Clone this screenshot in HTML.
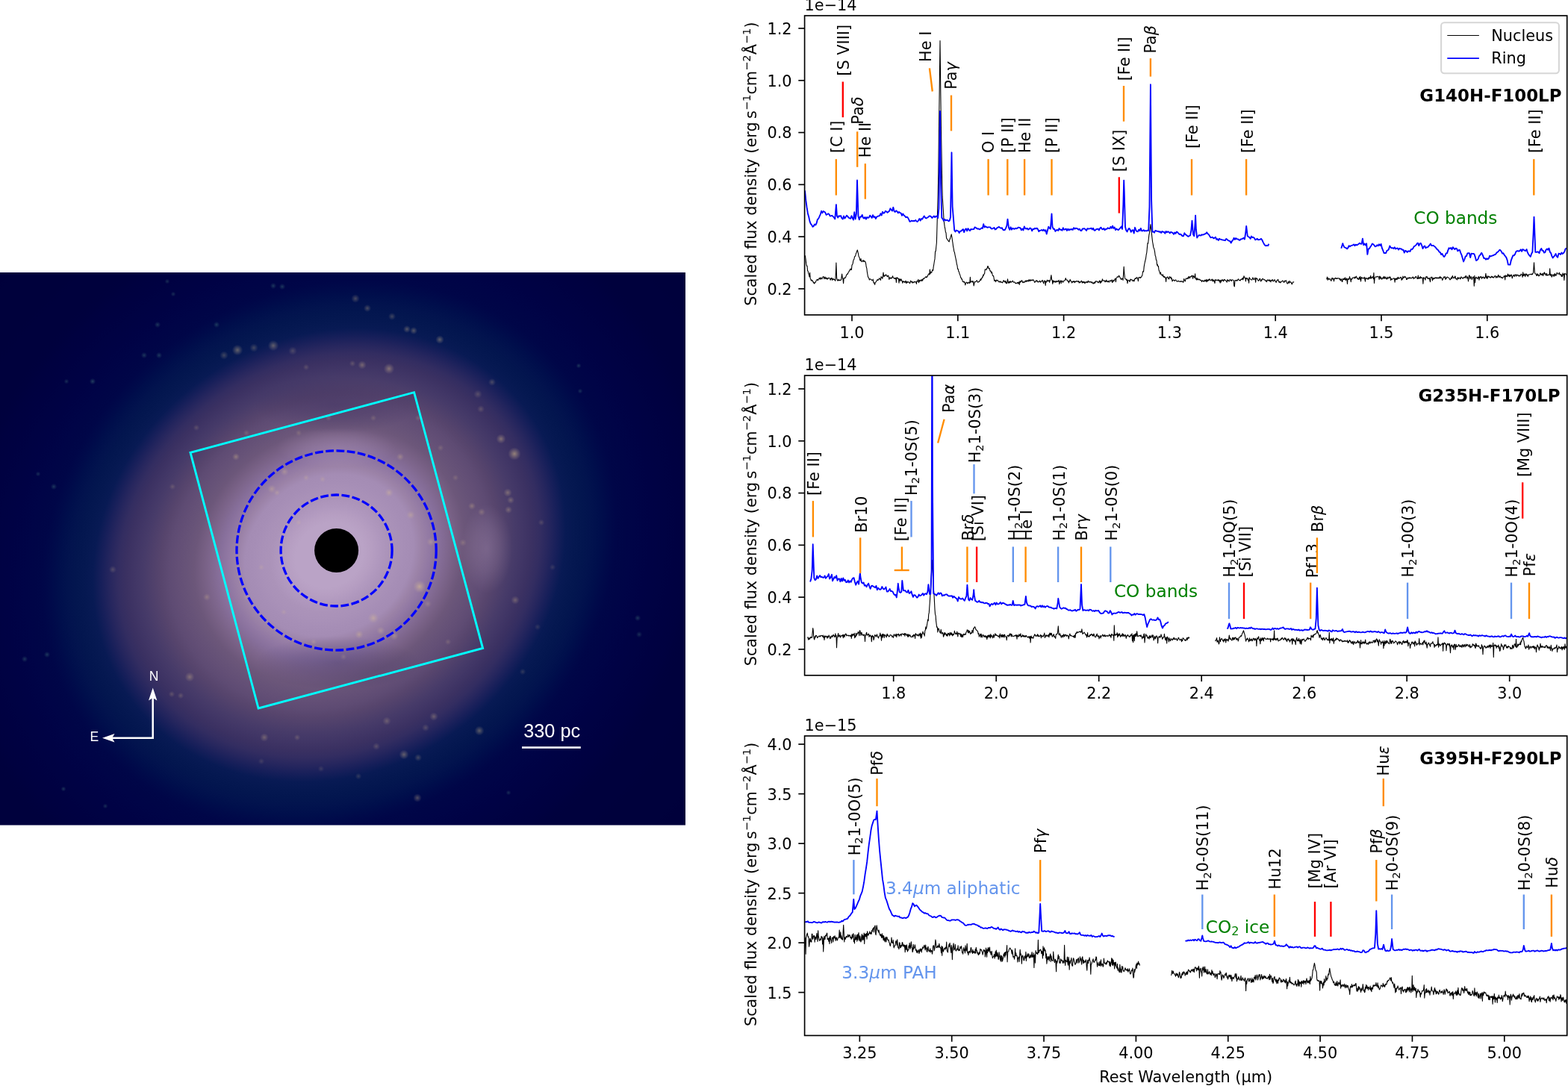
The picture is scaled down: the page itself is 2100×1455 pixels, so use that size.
<!DOCTYPE html>
<html lang="en"><head><meta charset="utf-8"><title>Galaxy nucleus and ring NIRSpec spectra</title>
<style>
html,body{margin:0;padding:0;background:#fff;}
body{width:2100px;height:1455px;overflow:hidden;}
svg{display:block;}
text{font-family:"DejaVu Sans","Liberation Sans",sans-serif;fill:#000;}
.t{font-size:20.833px;}
.t11{font-size:23.2px;}
.b{font-size:22.917px;font-weight:bold;}
.it{font-style:italic;}
.sup{font-size:14.58px;}
.sub{font-size:14.58px;}
.sub11{font-size:16.04px;}
.h{font-family:"Liberation Sans","DejaVu Sans",sans-serif;fill:#fff;}
.sp{stroke:#000;stroke-width:1.667;}
.k{fill:none;stroke:#000;stroke-width:1.1;stroke-linejoin:round;}
.bl{fill:none;stroke:#0000ff;stroke-width:1.85;stroke-linejoin:round;}
</style></head>
<body>
<svg xmlns="http://www.w3.org/2000/svg" width="2100" height="1455" viewBox="0 0 2100 1455">
<rect width="2100" height="1455" fill="#fff"/>
<!-- galaxy image -->
<defs>
<clipPath id="gclip"><rect x="0" y="365" width="918" height="740.7"/></clipPath>
<radialGradient id="disc" gradientUnits="userSpaceOnUse" cx="0" cy="0" r="1" gradientTransform="translate(440.83 743.79) rotate(54.91) scale(581.49 657.5)"><stop offset="0.0000" stop-color="#baa3c6"/><stop offset="0.0714" stop-color="#baa3c6"/><stop offset="0.0893" stop-color="#b69ec2"/><stop offset="0.1071" stop-color="#b098be"/><stop offset="0.1250" stop-color="#ab93b9"/><stop offset="0.1429" stop-color="#a991b8"/><stop offset="0.1607" stop-color="#a68eb6"/><stop offset="0.1786" stop-color="#a48cb4"/><stop offset="0.1964" stop-color="#9b82a7"/><stop offset="0.2143" stop-color="#9178a3"/><stop offset="0.2321" stop-color="#876f9b"/><stop offset="0.2500" stop-color="#7f678e"/><stop offset="0.2679" stop-color="#765f83"/><stop offset="0.2857" stop-color="#6c577a"/><stop offset="0.3036" stop-color="#675378"/><stop offset="0.3214" stop-color="#634f76"/><stop offset="0.3393" stop-color="#5e4b73"/><stop offset="0.3571" stop-color="#57456d"/><stop offset="0.3750" stop-color="#4f406b"/><stop offset="0.3929" stop-color="#473b69"/><stop offset="0.4107" stop-color="#413666"/><stop offset="0.4286" stop-color="#3b3162"/><stop offset="0.4464" stop-color="#332d61"/><stop offset="0.4643" stop-color="#26265e"/><stop offset="0.4821" stop-color="#171f5a"/><stop offset="0.5000" stop-color="#081a54"/><stop offset="0.5179" stop-color="#051851"/><stop offset="0.5357" stop-color="#03164f"/><stop offset="0.5536" stop-color="#02134e"/><stop offset="0.5714" stop-color="#000f4c"/><stop offset="0.5893" stop-color="#000a4a"/><stop offset="0.6071" stop-color="#000648"/><stop offset="0.6250" stop-color="#000547"/><stop offset="0.6429" stop-color="#000447"/><stop offset="0.6607" stop-color="#000346"/><stop offset="0.6786" stop-color="#000245"/><stop offset="0.6964" stop-color="#000244"/><stop offset="0.7143" stop-color="#000243"/><stop offset="0.7321" stop-color="#000142"/><stop offset="0.7500" stop-color="#000141"/><stop offset="0.7679" stop-color="#000140"/><stop offset="0.7857" stop-color="#00013e"/><stop offset="0.8036" stop-color="#00013d"/><stop offset="0.8214" stop-color="#00013d"/><stop offset="0.8393" stop-color="#00013d"/><stop offset="0.8571" stop-color="#00013d"/><stop offset="0.8750" stop-color="#00013c"/><stop offset="0.8929" stop-color="#00013c"/><stop offset="0.9107" stop-color="#00013c"/><stop offset="0.9286" stop-color="#00013c"/><stop offset="0.9464" stop-color="#00013c"/><stop offset="0.9643" stop-color="#00013c"/><stop offset="0.9821" stop-color="#00003b"/><stop offset="1.0000" stop-color="#00003b"/></radialGradient>
<radialGradient id="core" gradientUnits="userSpaceOnUse" cx="0" cy="0" r="1" gradientTransform="translate(452 739) scale(215 215)"><stop offset="0.0000" stop-color="#bca8cc" stop-opacity="0"/><stop offset="1.0000" stop-color="#6a5c90" stop-opacity="0"/></radialGradient>
<radialGradient id="blobL" cx="0.5" cy="0.5" r="0.5"><stop offset="0" stop-color="#4a4274" stop-opacity="0.55"/><stop offset="0.5" stop-color="#3a366c" stop-opacity="0.3"/><stop offset="1" stop-color="#30306a" stop-opacity="0"/></radialGradient>
<radialGradient id="blobW" cx="0.5" cy="0.5" r="0.5"><stop offset="0" stop-color="#b49cbe" stop-opacity="0.30"/><stop offset="0.5" stop-color="#b49cbe" stop-opacity="0.18"/><stop offset="1" stop-color="#b49cbe" stop-opacity="0"/></radialGradient>
<radialGradient id="blobD" cx="0.5" cy="0.5" r="0.5"><stop offset="0" stop-color="#201850" stop-opacity="0.26"/><stop offset="0.5" stop-color="#201850" stop-opacity="0.16"/><stop offset="1" stop-color="#201850" stop-opacity="0"/></radialGradient>
<radialGradient id="star" cx="0.5" cy="0.5" r="0.5"><stop offset="0" stop-color="#e8cc8c" stop-opacity="1"/><stop offset="0.45" stop-color="#dcc090" stop-opacity="0.55"/><stop offset="1" stop-color="#c8b090" stop-opacity="0"/></radialGradient>
<radialGradient id="gstar" cx="0.5" cy="0.5" r="0.5"><stop offset="0" stop-color="#6fbf9a" stop-opacity="1"/><stop offset="0.5" stop-color="#5fae8e" stop-opacity="0.5"/><stop offset="1" stop-color="#5fae8e" stop-opacity="0"/></radialGradient>
<filter id="b14" x="-50%" y="-50%" width="200%" height="200%"><feGaussianBlur stdDeviation="14"/></filter>
</defs>
<g clip-path="url(#gclip)">
<rect x="0" y="365" width="918" height="740.7" fill="url(#disc)"/>
<ellipse cx="450" cy="543" rx="110" ry="38" fill="url(#blobD)"/>
<ellipse cx="452" cy="888" rx="110" ry="36" fill="url(#blobD)"/>
<ellipse cx="450" cy="600" rx="80" ry="26" fill="url(#blobW)"/>
<ellipse cx="652" cy="735" rx="34" ry="60" fill="url(#blobW)"/>
<g filter="url(#b14)" fill="none" stroke-linecap="round">
<path d="M290 490 C340 450 440 410 540 435 C630 465 690 560 698 660" stroke="#8f80a8" stroke-opacity="0.0" stroke-width="30"/>
<path d="M690 800 C670 900 610 1000 520 1035 C420 1060 320 1010 260 920" stroke="#8a7ca6" stroke-opacity="0.0" stroke-width="40"/>
<path d="M300 525 C350 490 410 480 460 488" stroke="#05054a" stroke-opacity="0.0" stroke-width="20"/>
</g>
<g>
<circle cx="318" cy="469" r="7.25" fill="url(#star)" fill-opacity="0.41"/>
<circle cx="366" cy="463" r="7.25" fill="url(#star)" fill-opacity="0.38"/>
<circle cx="300" cy="476" r="5.8" fill="url(#star)" fill-opacity="0.26"/>
<circle cx="340" cy="466" r="5.8" fill="url(#star)" fill-opacity="0.26"/>
<circle cx="392" cy="470" r="5.8" fill="url(#star)" fill-opacity="0.22"/>
<circle cx="410" cy="492" r="4.35" fill="url(#star)" fill-opacity="0.19"/>
<circle cx="476" cy="400" r="5.8" fill="url(#star)" fill-opacity="0.3"/>
<circle cx="492" cy="413" r="5.08" fill="url(#star)" fill-opacity="0.3"/>
<circle cx="525" cy="424" r="5.08" fill="url(#star)" fill-opacity="0.26"/>
<circle cx="545" cy="441" r="5.08" fill="url(#star)" fill-opacity="0.34"/>
<circle cx="554" cy="443" r="5.08" fill="url(#star)" fill-opacity="0.34"/>
<circle cx="589" cy="455" r="5.8" fill="url(#star)" fill-opacity="0.38"/>
<circle cx="485" cy="489" r="5.8" fill="url(#star)" fill-opacity="0.34"/>
<circle cx="521" cy="494" r="7.25" fill="url(#star)" fill-opacity="0.41"/>
<circle cx="472" cy="487" r="4.35" fill="url(#star)" fill-opacity="0.22"/>
<circle cx="640" cy="528" r="5.8" fill="url(#star)" fill-opacity="0.22"/>
<circle cx="659" cy="512" r="5.08" fill="url(#star)" fill-opacity="0.26"/>
<circle cx="644" cy="548" r="5.08" fill="url(#star)" fill-opacity="0.22"/>
<circle cx="671" cy="588" r="6.52" fill="url(#star)" fill-opacity="0.41"/>
<circle cx="689" cy="608" r="8.7" fill="url(#star)" fill-opacity="0.52"/>
<circle cx="680" cy="660" r="5.8" fill="url(#star)" fill-opacity="0.34"/>
<circle cx="684" cy="670" r="5.08" fill="url(#star)" fill-opacity="0.3"/>
<circle cx="681" cy="683" r="5.08" fill="url(#star)" fill-opacity="0.3"/>
<circle cx="632" cy="678" r="5.08" fill="url(#star)" fill-opacity="0.3"/>
<circle cx="645" cy="686" r="5.08" fill="url(#star)" fill-opacity="0.26"/>
<circle cx="536" cy="612" r="5.08" fill="url(#star)" fill-opacity="0.3"/>
<circle cx="521" cy="660" r="5.8" fill="url(#star)" fill-opacity="0.34"/>
<circle cx="550" cy="690" r="5.8" fill="url(#star)" fill-opacity="0.3"/>
<circle cx="577" cy="726" r="5.8" fill="url(#star)" fill-opacity="0.3"/>
<circle cx="620" cy="727" r="5.08" fill="url(#star)" fill-opacity="0.22"/>
<circle cx="562" cy="786" r="8.7" fill="url(#star)" fill-opacity="0.52"/>
<circle cx="500" cy="828" r="7.25" fill="url(#star)" fill-opacity="0.38"/>
<circle cx="481" cy="850" r="5.8" fill="url(#star)" fill-opacity="0.34"/>
<circle cx="510" cy="845" r="5.8" fill="url(#star)" fill-opacity="0.3"/>
<circle cx="528" cy="852" r="5.8" fill="url(#star)" fill-opacity="0.3"/>
<circle cx="573" cy="809" r="5.08" fill="url(#star)" fill-opacity="0.22"/>
<circle cx="690" cy="804" r="5.8" fill="url(#star)" fill-opacity="0.3"/>
<circle cx="581" cy="960" r="5.8" fill="url(#star)" fill-opacity="0.3"/>
<circle cx="570" cy="975" r="5.08" fill="url(#star)" fill-opacity="0.22"/>
<circle cx="642" cy="979" r="6.52" fill="url(#star)" fill-opacity="0.38"/>
<circle cx="518" cy="966" r="5.8" fill="url(#star)" fill-opacity="0.26"/>
<circle cx="541" cy="1011" r="6.52" fill="url(#star)" fill-opacity="0.38"/>
<circle cx="560" cy="1015" r="5.08" fill="url(#star)" fill-opacity="0.26"/>
<circle cx="559" cy="1069" r="5.8" fill="url(#star)" fill-opacity="0.34"/>
<circle cx="504" cy="1000" r="5.08" fill="url(#star)" fill-opacity="0.22"/>
<circle cx="254" cy="907" r="6.52" fill="url(#star)" fill-opacity="0.34"/>
<circle cx="277" cy="800" r="5.08" fill="url(#star)" fill-opacity="0.26"/>
<circle cx="354" cy="988" r="5.8" fill="url(#star)" fill-opacity="0.3"/>
<circle cx="398" cy="988" r="4.35" fill="url(#star)" fill-opacity="0.22"/>
<circle cx="151" cy="763" r="5.08" fill="url(#star)" fill-opacity="0.22"/>
<circle cx="242" cy="932" r="4.35" fill="url(#star)" fill-opacity="0.22"/>
<circle cx="230" cy="930" r="4.35" fill="url(#star)" fill-opacity="0.22"/>
<circle cx="316" cy="612" r="5.08" fill="url(#star)" fill-opacity="0.34"/>
<circle cx="381" cy="632" r="5.8" fill="url(#star)" fill-opacity="0.3"/>
<circle cx="364" cy="655" r="5.8" fill="url(#star)" fill-opacity="0.3"/>
<circle cx="371" cy="660" r="4.35" fill="url(#star)" fill-opacity="0.26"/>
<circle cx="330" cy="580" r="4.35" fill="url(#star)" fill-opacity="0.19"/>
<circle cx="263" cy="573" r="4.35" fill="url(#star)" fill-opacity="0.19"/>
<circle cx="231" cy="652" r="4.35" fill="url(#star)" fill-opacity="0.19"/>
<circle cx="410" cy="640" r="4.35" fill="url(#star)" fill-opacity="0.22"/>
<circle cx="432" cy="642" r="4.35" fill="url(#star)" fill-opacity="0.22"/>
<circle cx="400" cy="700" r="4.35" fill="url(#star)" fill-opacity="0.19"/>
<circle cx="350" cy="760" r="4.35" fill="url(#star)" fill-opacity="0.19"/>
<circle cx="330" cy="800" r="4.35" fill="url(#star)" fill-opacity="0.19"/>
<circle cx="380" cy="820" r="4.35" fill="url(#star)" fill-opacity="0.19"/>
<circle cx="420" cy="860" r="4.35" fill="url(#star)" fill-opacity="0.22"/>
<circle cx="460" cy="880" r="4.35" fill="url(#star)" fill-opacity="0.19"/>
<circle cx="600" cy="860" r="4.35" fill="url(#star)" fill-opacity="0.19"/>
<circle cx="610" cy="640" r="4.35" fill="url(#star)" fill-opacity="0.19"/>
<circle cx="590" cy="600" r="4.35" fill="url(#star)" fill-opacity="0.19"/>
<circle cx="560" cy="560" r="4.35" fill="url(#star)" fill-opacity="0.19"/>
<circle cx="500" cy="560" r="4.35" fill="url(#star)" fill-opacity="0.19"/>
<circle cx="440" cy="560" r="4.35" fill="url(#star)" fill-opacity="0.19"/>
<circle cx="400" cy="580" r="4.35" fill="url(#star)" fill-opacity="0.19"/>
<circle cx="700" cy="900" r="4.35" fill="url(#star)" fill-opacity="0.19"/>
<circle cx="720" cy="840" r="4.35" fill="url(#star)" fill-opacity="0.15"/>
<circle cx="740" cy="760" r="4.35" fill="url(#star)" fill-opacity="0.15"/>
<circle cx="725" cy="700" r="4.35" fill="url(#star)" fill-opacity="0.19"/>
<circle cx="480" cy="1040" r="4.35" fill="url(#star)" fill-opacity="0.19"/>
<circle cx="430" cy="1030" r="4.35" fill="url(#star)" fill-opacity="0.15"/>
<circle cx="350" cy="1020" r="4.35" fill="url(#star)" fill-opacity="0.15"/>
<circle cx="124" cy="511" r="4.2" fill="url(#gstar)" fill-opacity="0.32"/>
<circle cx="211" cy="435" r="4.2" fill="url(#gstar)" fill-opacity="0.27"/>
<circle cx="193" cy="476" r="4.2" fill="url(#gstar)" fill-opacity="0.27"/>
<circle cx="213" cy="476" r="4.2" fill="url(#gstar)" fill-opacity="0.27"/>
<circle cx="290" cy="435" r="4.2" fill="url(#gstar)" fill-opacity="0.27"/>
<circle cx="366" cy="383" r="4.2" fill="url(#gstar)" fill-opacity="0.27"/>
<circle cx="378" cy="384" r="4.2" fill="url(#gstar)" fill-opacity="0.27"/>
<circle cx="72" cy="652" r="4.2" fill="url(#gstar)" fill-opacity="0.27"/>
<circle cx="33" cy="883" r="4.2" fill="url(#gstar)" fill-opacity="0.27"/>
<circle cx="63" cy="877" r="4.2" fill="url(#gstar)" fill-opacity="0.27"/>
<circle cx="85" cy="1057" r="3.5" fill="url(#gstar)" fill-opacity="0.27"/>
<circle cx="854" cy="828" r="4.2" fill="url(#gstar)" fill-opacity="0.27"/>
<circle cx="856" cy="850" r="4.2" fill="url(#gstar)" fill-opacity="0.23"/>
<circle cx="224" cy="377" r="3.5" fill="url(#gstar)" fill-opacity="0.23"/>
<circle cx="232" cy="394" r="3.5" fill="url(#gstar)" fill-opacity="0.23"/>
<circle cx="51" cy="635" r="3.5" fill="url(#gstar)" fill-opacity="0.23"/>
<circle cx="89" cy="511" r="3.5" fill="url(#gstar)" fill-opacity="0.23"/>
<circle cx="141" cy="1080" r="3.5" fill="url(#gstar)" fill-opacity="0.23"/>
<circle cx="775" cy="490" r="3.5" fill="url(#gstar)" fill-opacity="0.27"/>
<circle cx="777" cy="524" r="3.5" fill="url(#gstar)" fill-opacity="0.23"/>
<circle cx="681" cy="1062" r="3.5" fill="url(#gstar)" fill-opacity="0.23"/>
</g>
<polygon points="255,606.3 554.6,525.7 646.6,868.5 346.1,949" fill="none" stroke="#00ffff" stroke-width="2.9" stroke-linejoin="miter"/>
<circle cx="450.6" cy="737.5" r="133.6" fill="none" stroke="#0000ff" stroke-width="3.3" stroke-dasharray="10.8 3.5"/>
<circle cx="450.6" cy="737.5" r="74.5" fill="none" stroke="#0000ff" stroke-width="3.3" stroke-dasharray="10.8 3.5"/>
<circle cx="450.6" cy="737.5" r="29.5" fill="#000"/>
<path d="M204.7 928 V988.7 H148" fill="none" stroke="#fff" stroke-width="2.5"/>
<path d="M204.7 921.5 L199 938.5 L204.7 935 L210.4 938.5 Z" fill="#fff"/>
<path d="M137 988.7 L153.5 983 L150.2 988.7 L153.5 994.4 Z" fill="#fff"/>
<text x="206" y="912.3" class="h" font-size="17.5" text-anchor="middle">N</text>
<text x="126.4" y="992.5" class="h" font-size="17.5" text-anchor="middle">E</text>
<text x="739.2" y="988" class="h" font-size="25.3" text-anchor="middle">330 pc</text>
<rect x="699" y="1000.2" width="78.8" height="2.6" fill="#fff"/>
</g>
<defs>
<clipPath id="ax0"><rect x="1077.6" y="21" width="1021.1" height="400.9"/></clipPath>
<clipPath id="ax1"><rect x="1077.6" y="503.1" width="1021.1" height="401.7"/></clipPath>
<clipPath id="ax2"><rect x="1077.6" y="986" width="1021.1" height="401.4"/></clipPath>
</defs>
<!-- panel 1 spectra -->
<g clip-path="url(#ax0)">
<polyline class="k" points="1078.0,342.1 1078.6,344.0 1079.2,348.2 1079.8,353.4 1080.4,356.3 1081.0,356.3 1081.6,362.7 1082.2,363.4 1082.8,366.5 1083.4,367.9 1084.0,371.0 1084.6,365.2 1085.2,372.9 1085.8,374.0 1086.4,376.0 1087.0,375.0 1087.6,376.2 1088.2,375.9 1088.8,377.2 1089.4,378.9 1090.0,378.1 1090.6,380.0 1091.2,379.2 1091.8,378.4 1092.4,378.0 1093.0,376.2 1093.6,375.7 1094.2,374.4 1094.8,374.6 1095.4,375.7 1096.0,374.3 1096.6,374.0 1097.2,372.6 1097.8,372.3 1098.4,374.3 1099.0,373.2 1099.6,371.8 1100.2,373.6 1100.8,373.7 1101.4,372.7 1102.0,371.2 1102.6,370.5 1103.2,371.0 1103.8,373.7 1104.4,372.2 1105.0,371.0 1105.6,373.3 1106.2,373.5 1106.8,371.9 1107.4,373.3 1108.0,374.3 1108.6,372.7 1109.2,373.2 1109.8,372.2 1110.4,372.2 1111.0,373.0 1111.6,373.3 1112.2,375.3 1112.8,372.8 1113.4,373.6 1114.0,372.2 1114.6,375.5 1115.2,374.1 1115.8,373.5 1116.4,374.5 1117.0,374.0 1117.6,374.7 1118.2,375.4 1118.8,376.3 1119.4,365.6 1119.9,352.1 1120.6,372.5 1121.2,374.8 1121.8,375.9 1122.4,376.1 1123.0,374.2 1123.6,375.5 1124.2,375.9 1124.8,375.0 1125.4,375.7 1126.0,375.1 1126.6,374.9 1127.6,367.0 1128.4,372.9 1129.0,374.0 1129.6,379.6 1130.2,372.3 1130.8,372.9 1131.4,372.1 1132.0,372.5 1132.6,371.5 1133.2,369.7 1133.8,368.2 1134.4,367.4 1135.0,367.5 1135.6,366.2 1136.2,364.9 1136.8,364.3 1137.4,362.8 1138.0,362.7 1138.6,360.5 1139.2,361.4 1139.8,360.1 1140.4,361.4 1141.0,355.1 1141.6,354.5 1142.2,353.1 1142.8,349.2 1143.4,348.1 1144.0,346.7 1144.6,343.7 1145.2,343.4 1145.8,342.5 1146.4,339.7 1147.0,338.5 1147.6,336.6 1148.3,334.9 1148.8,336.8 1149.4,339.5 1150.0,343.2 1150.6,344.2 1151.2,345.5 1151.8,348.6 1152.4,349.4 1153.0,346.5 1153.6,349.6 1154.2,350.7 1154.8,350.3 1155.4,349.7 1156.0,348.4 1156.6,350.6 1157.2,349.9 1157.8,349.3 1158.4,350.7 1159.0,350.7 1159.6,353.1 1160.2,357.5 1160.8,359.4 1161.4,364.6 1162.0,368.1 1162.6,371.1 1163.2,371.9 1163.8,373.0 1164.4,375.0 1165.0,373.7 1165.6,373.9 1166.2,374.1 1166.8,374.7 1167.4,375.0 1168.0,375.9 1168.6,375.5 1169.2,374.1 1169.8,378.0 1170.4,379.4 1171.0,378.9 1171.6,381.5 1172.2,378.7 1172.8,378.0 1173.4,377.6 1174.0,376.0 1174.6,375.3 1175.2,374.5 1175.8,375.7 1176.4,374.8 1177.0,374.4 1177.6,372.7 1178.2,373.7 1178.8,373.5 1179.4,375.4 1180.0,370.7 1180.6,371.1 1181.2,372.1 1181.8,373.3 1182.4,370.7 1183.0,365.0 1183.6,369.7 1184.2,370.7 1184.8,368.8 1185.4,369.4 1186.0,368.6 1186.6,367.8 1187.2,369.2 1187.8,369.5 1188.4,370.8 1189.0,369.7 1189.6,369.1 1190.2,370.7 1190.8,374.5 1191.4,372.1 1192.0,371.9 1192.6,373.0 1193.2,372.1 1193.8,373.2 1194.4,372.1 1195.0,371.4 1195.6,369.7 1196.2,372.3 1196.8,372.2 1197.4,372.5 1198.0,373.3 1198.6,372.7 1199.2,373.7 1199.8,372.2 1200.4,378.5 1201.0,371.9 1201.6,372.0 1202.2,372.2 1202.8,373.5 1203.4,373.3 1204.0,379.1 1204.6,373.8 1205.2,373.7 1205.8,376.5 1206.4,374.6 1207.0,373.9 1207.6,376.2 1208.2,376.2 1208.8,379.3 1209.4,377.4 1210.0,376.7 1210.6,377.7 1211.2,377.3 1211.8,378.5 1212.4,377.6 1213.0,376.1 1213.6,379.5 1214.2,377.3 1214.8,379.0 1215.4,377.5 1216.0,377.7 1216.6,378.1 1217.2,377.8 1217.8,378.5 1218.4,379.7 1219.0,378.8 1219.6,376.0 1220.2,377.3 1220.8,377.8 1221.4,377.2 1222.0,379.2 1222.6,377.9 1223.2,378.1 1223.8,378.7 1224.4,377.4 1225.0,377.8 1225.6,377.3 1226.2,377.9 1226.8,377.8 1227.4,380.5 1228.0,376.3 1228.6,376.9 1229.2,376.8 1229.8,374.3 1230.4,378.8 1231.0,377.3 1231.6,375.3 1232.2,376.9 1232.8,375.5 1233.4,375.4 1234.0,374.9 1234.6,376.8 1235.2,374.3 1235.8,375.6 1236.4,373.2 1237.0,373.0 1237.6,373.7 1238.2,372.1 1238.8,372.0 1239.4,371.6 1240.0,370.5 1240.6,371.8 1241.2,371.7 1241.8,370.3 1242.4,370.0 1243.0,368.0 1243.6,367.6 1244.2,366.5 1244.8,368.1 1245.4,361.0 1246.0,367.0 1246.6,364.4 1247.2,365.1 1247.8,365.2 1248.4,362.7 1249.0,361.4 1249.6,362.5 1250.2,357.4 1250.8,354.0 1251.4,350.0 1252.0,346.9 1252.6,336.8 1253.2,336.8 1253.8,330.8 1254.4,325.0 1255.0,303.4 1255.6,282.1 1256.2,261.0 1256.8,232.9 1257.4,179.7 1258.0,134.6 1259.0,54.6 1259.8,122.3 1260.4,169.0 1261.0,203.4 1261.6,238.8 1262.2,263.9 1262.8,273.2 1263.4,282.3 1264.0,293.9 1264.6,299.4 1265.2,303.9 1265.8,306.6 1266.4,310.8 1267.0,312.1 1267.6,319.2 1268.2,319.8 1268.8,321.1 1269.4,321.7 1270.0,322.5 1270.6,323.5 1271.2,323.9 1271.8,321.1 1272.4,320.1 1273.0,317.9 1273.6,316.1 1274.2,313.9 1274.8,317.1 1275.4,321.5 1276.0,325.4 1276.6,330.2 1277.2,333.2 1277.8,336.9 1278.4,338.1 1279.0,341.5 1279.6,344.3 1280.2,347.2 1280.8,350.1 1281.4,353.8 1282.0,355.9 1282.6,360.4 1283.2,360.3 1283.8,363.6 1284.4,364.0 1285.0,366.8 1285.6,367.9 1286.2,369.8 1286.8,372.0 1287.4,372.5 1288.0,374.2 1288.6,374.1 1289.2,377.0 1289.8,377.5 1290.4,377.1 1291.0,378.3 1291.6,377.5 1292.2,378.8 1292.8,381.9 1293.4,379.7 1294.0,378.6 1294.6,378.1 1295.2,378.5 1295.8,380.0 1296.4,378.9 1297.0,378.9 1297.6,378.2 1298.2,379.2 1298.8,379.4 1299.4,371.4 1300.0,378.3 1300.6,377.5 1301.2,377.1 1301.8,376.8 1302.4,378.1 1303.0,376.4 1303.6,378.1 1304.2,383.0 1304.8,380.2 1305.4,377.4 1306.0,377.6 1306.6,377.5 1307.2,377.1 1307.8,375.9 1308.4,375.7 1309.0,377.2 1309.6,378.3 1310.2,377.5 1310.8,377.6 1311.4,377.4 1312.0,376.4 1312.6,375.6 1313.2,373.8 1313.8,375.4 1314.4,373.0 1315.0,373.1 1315.6,371.0 1316.2,371.3 1316.8,368.0 1317.4,369.1 1318.0,367.2 1318.6,366.6 1319.2,361.1 1319.8,360.9 1320.4,361.2 1321.0,361.5 1321.6,359.3 1322.2,359.3 1322.8,356.6 1323.4,356.8 1324.0,360.0 1324.6,359.4 1325.2,359.5 1325.8,362.4 1326.4,363.4 1327.0,363.1 1327.6,365.9 1328.2,364.2 1328.8,366.2 1329.4,369.1 1330.0,369.7 1330.6,369.6 1331.2,373.2 1331.8,376.5 1332.4,375.4 1333.0,375.2 1333.6,377.6 1334.2,375.9 1334.8,375.2 1335.4,375.9 1336.0,375.4 1336.6,375.6 1337.2,377.5 1337.8,377.7 1338.4,377.6 1339.0,376.9 1339.6,378.3 1340.2,377.1 1340.8,377.6 1341.4,378.4 1342.0,378.3 1342.6,378.8 1343.2,377.8 1343.8,375.9 1344.4,375.8 1345.0,377.4 1345.6,376.8 1346.2,378.3 1346.8,376.2 1347.4,379.6 1348.0,378.7 1348.6,379.8 1349.5,373.9 1350.4,378.6 1351.0,379.3 1351.6,377.3 1352.2,378.9 1352.8,376.8 1353.4,376.9 1354.0,378.5 1354.6,377.6 1355.2,377.2 1355.8,376.9 1356.4,376.1 1357.0,378.0 1357.6,378.2 1358.2,377.9 1358.8,378.0 1359.4,378.3 1360.0,379.8 1360.6,379.6 1361.2,379.7 1361.8,379.3 1362.4,378.5 1363.0,378.5 1363.6,380.2 1364.2,378.0 1364.8,378.0 1365.4,381.5 1366.0,376.5 1366.6,378.2 1367.2,377.1 1367.8,377.2 1368.4,375.6 1369.0,376.6 1369.6,378.4 1370.2,378.7 1370.8,377.5 1371.4,378.0 1372.0,378.4 1372.6,377.7 1373.2,375.9 1373.8,377.2 1374.4,377.2 1375.0,375.6 1375.6,377.1 1376.2,375.9 1376.8,376.1 1377.4,377.0 1378.0,374.6 1378.6,375.7 1379.2,376.7 1379.8,374.9 1380.4,376.0 1381.0,374.8 1381.6,375.7 1382.2,375.6 1382.8,375.7 1383.4,374.6 1384.0,375.5 1384.6,375.7 1385.2,377.2 1385.8,378.4 1386.4,377.2 1387.0,377.3 1387.6,375.7 1388.2,376.9 1388.8,375.9 1389.4,376.6 1390.0,378.1 1390.6,377.3 1391.2,377.6 1391.8,377.6 1392.4,376.1 1393.0,376.8 1393.6,378.3 1394.2,377.3 1394.8,376.9 1395.4,376.8 1396.0,375.2 1396.6,376.9 1397.2,378.2 1397.8,379.9 1398.4,376.0 1399.0,376.2 1399.6,376.5 1400.2,382.5 1400.8,376.8 1401.4,378.1 1402.0,376.6 1402.6,375.1 1403.2,376.9 1403.8,376.5 1404.4,376.0 1405.0,375.5 1405.6,378.5 1406.2,375.9 1406.8,375.4 1407.4,371.4 1407.9,368.6 1408.6,374.9 1409.2,375.5 1409.8,380.4 1410.4,375.9 1411.0,378.1 1411.6,376.4 1412.2,376.8 1412.8,377.9 1413.4,377.0 1414.0,378.4 1414.6,376.4 1415.2,377.3 1415.8,377.5 1416.4,376.4 1417.0,377.2 1417.6,376.9 1418.2,375.3 1418.8,380.6 1419.4,377.4 1420.0,377.0 1420.6,375.8 1421.2,379.7 1421.8,376.2 1422.4,376.6 1423.0,376.7 1423.6,378.4 1424.2,376.8 1424.8,376.3 1425.4,376.0 1426.0,376.0 1426.6,374.7 1427.2,372.6 1427.8,374.7 1428.4,375.2 1429.0,375.1 1429.6,375.4 1430.2,377.1 1430.8,376.6 1431.4,379.0 1432.0,376.6 1432.6,376.9 1433.2,374.4 1433.8,376.2 1434.4,376.5 1435.0,377.2 1435.6,379.0 1436.2,377.2 1436.8,377.8 1437.4,376.7 1438.0,377.6 1438.6,376.9 1439.2,378.8 1439.8,376.8 1440.4,377.7 1441.0,377.0 1441.6,377.1 1442.2,376.3 1442.8,376.7 1443.4,377.5 1444.0,377.5 1444.6,376.4 1445.2,379.1 1445.8,377.6 1446.4,378.4 1447.0,378.2 1447.6,377.2 1448.2,376.2 1448.8,376.9 1449.4,379.2 1450.0,377.4 1450.6,378.6 1451.2,377.3 1451.8,378.7 1452.4,377.7 1453.0,379.9 1453.6,378.1 1454.2,378.3 1454.8,377.5 1455.4,378.4 1456.0,377.7 1456.6,378.6 1457.2,376.3 1457.8,376.6 1458.4,378.1 1459.0,378.0 1459.6,377.5 1460.2,377.4 1460.8,378.1 1461.4,377.8 1462.0,378.9 1462.6,377.8 1463.2,378.7 1463.8,379.9 1464.4,380.0 1465.0,378.5 1465.6,379.8 1466.2,377.7 1466.8,379.0 1467.4,376.6 1468.0,377.0 1468.6,377.0 1469.2,376.7 1469.8,377.9 1470.4,377.9 1471.0,378.9 1471.6,378.2 1472.2,376.3 1472.8,376.1 1473.4,379.3 1474.0,376.7 1474.6,378.9 1475.2,376.5 1475.8,377.0 1476.4,373.8 1477.0,375.9 1477.6,376.0 1478.2,375.7 1478.8,376.1 1479.4,376.0 1480.0,377.9 1480.6,376.3 1481.2,377.2 1481.8,375.1 1482.4,377.0 1483.0,377.5 1483.6,377.7 1484.2,376.2 1484.8,377.2 1485.4,378.1 1486.0,376.3 1486.6,375.9 1487.2,376.3 1487.8,376.9 1488.4,375.2 1489.0,375.1 1489.6,378.5 1490.2,378.1 1490.8,375.1 1491.4,376.8 1492.0,376.4 1492.6,375.3 1493.2,373.9 1493.8,373.1 1494.4,377.7 1495.0,372.6 1495.6,372.1 1496.2,371.0 1496.8,370.7 1497.4,371.4 1498.0,370.9 1498.6,369.1 1499.2,370.5 1499.8,371.1 1500.4,372.9 1501.0,372.8 1501.6,374.6 1502.2,373.3 1502.8,373.8 1503.4,373.0 1504.0,375.4 1504.6,367.7 1505.2,357.3 1505.8,366.2 1506.4,371.4 1507.0,374.0 1507.6,374.0 1508.2,373.9 1508.8,375.5 1509.4,374.4 1510.0,379.6 1510.6,375.9 1511.2,375.5 1511.8,375.4 1512.4,376.3 1513.0,377.5 1513.6,375.3 1514.2,374.0 1514.8,375.1 1515.4,374.8 1516.0,374.9 1516.6,375.3 1517.2,376.7 1517.8,376.2 1518.4,375.3 1519.0,376.9 1519.6,373.7 1520.2,373.6 1520.8,372.6 1521.4,373.4 1522.0,372.8 1522.6,371.4 1523.2,372.7 1523.8,373.7 1524.4,376.7 1525.0,371.5 1525.6,371.7 1526.2,371.9 1526.8,371.4 1527.4,372.5 1528.0,371.4 1528.6,371.3 1529.2,369.7 1529.8,369.2 1530.4,365.0 1531.0,363.2 1531.6,363.8 1532.2,357.4 1532.8,353.9 1533.4,351.0 1534.0,348.5 1534.6,345.8 1535.2,341.2 1535.8,338.5 1536.4,332.1 1537.0,325.9 1537.6,326.2 1538.2,321.3 1538.8,315.2 1539.4,312.4 1540.0,307.6 1540.9,300.6 1541.8,308.2 1542.4,313.2 1543.0,318.8 1543.6,324.0 1544.2,327.2 1544.8,331.2 1545.4,332.4 1546.0,334.4 1546.6,337.7 1547.2,342.6 1547.8,343.8 1548.4,348.1 1549.0,348.9 1549.6,355.3 1550.2,354.4 1550.8,357.0 1551.4,356.6 1552.0,361.8 1552.6,363.1 1553.2,365.1 1553.8,367.1 1554.4,364.9 1555.0,367.7 1555.6,368.5 1556.2,368.2 1556.8,369.2 1557.4,367.7 1558.0,370.9 1558.6,370.1 1559.2,371.6 1559.8,370.6 1560.4,371.9 1561.0,372.1 1561.6,377.4 1562.2,371.8 1562.8,371.7 1563.4,371.5 1564.0,370.9 1564.6,373.5 1565.2,372.4 1565.8,374.0 1566.4,370.5 1567.0,371.4 1567.6,372.1 1568.2,371.2 1568.8,374.0 1569.4,372.9 1570.0,377.0 1570.6,375.7 1571.2,375.1 1571.8,374.9 1572.4,375.7 1573.0,376.5 1573.6,375.9 1574.2,375.2 1574.8,374.9 1575.4,376.0 1576.0,376.9 1576.6,377.4 1577.2,376.9 1577.8,376.2 1578.4,376.5 1579.0,377.2 1579.6,377.1 1580.2,377.3 1580.8,376.8 1581.4,377.4 1582.0,376.6 1582.6,377.1 1583.2,377.2 1583.8,377.0 1584.4,378.3 1585.0,377.9 1585.6,373.5 1586.2,375.2 1586.8,376.0 1587.4,376.9 1588.0,373.8 1588.6,372.9 1589.2,373.1 1589.8,373.6 1590.4,373.4 1591.0,371.7 1591.6,373.2 1592.2,370.2 1592.8,371.2 1593.4,372.7 1594.0,371.0 1594.6,370.4 1595.2,370.9 1595.8,369.8 1596.4,369.0 1597.0,370.0 1597.6,373.3 1598.2,369.3 1598.8,370.5 1599.4,370.9 1600.0,372.2 1600.6,366.8 1601.2,373.5 1601.8,373.6 1602.4,374.9 1603.0,372.2 1603.6,374.9 1604.2,374.5 1604.8,373.6 1605.4,374.7 1606.0,375.0 1606.6,374.2 1607.2,374.9 1607.8,375.6 1608.4,375.4 1609.0,376.2 1609.6,377.6 1610.2,375.7 1610.8,375.8 1611.4,376.8 1612.0,376.4 1612.6,377.3 1613.2,375.7 1613.8,375.1 1614.4,376.7 1615.0,376.6 1615.6,374.4 1616.2,377.8 1616.8,375.4 1617.4,376.5 1618.0,374.4 1618.6,375.9 1619.2,375.5 1619.8,373.7 1620.4,374.5 1621.0,375.5 1621.6,375.9 1622.2,375.6 1622.8,374.5 1623.4,374.0 1624.0,376.9 1624.6,374.9 1625.2,376.7 1625.8,375.1 1626.4,377.0 1627.0,379.5 1627.6,374.6 1628.2,375.5 1628.8,375.4 1629.4,375.5 1630.0,375.0 1630.6,375.8 1631.2,375.3 1631.8,374.5 1632.4,376.5 1633.0,375.2 1633.6,377.3 1634.2,379.1 1634.8,375.2 1635.4,377.9 1636.0,375.7 1636.6,374.9 1637.2,375.8 1637.8,374.8 1638.4,376.9 1639.0,376.1 1639.6,374.3 1640.2,375.3 1640.8,375.1 1641.4,375.7 1642.0,376.5 1642.6,376.5 1643.2,378.2 1643.8,374.5 1644.4,376.1 1645.0,375.3 1645.6,376.5 1646.2,377.0 1646.8,375.8 1647.4,374.3 1648.0,375.0 1648.6,375.7 1649.2,376.6 1649.8,374.7 1650.4,374.9 1651.0,375.1 1651.6,375.2 1652.2,375.8 1652.8,383.2 1653.4,383.8 1654.0,375.6 1654.6,375.8 1655.2,375.6 1655.8,376.1 1656.4,375.2 1657.0,376.1 1657.6,375.1 1658.2,374.0 1658.8,373.9 1659.4,375.3 1660.0,375.7 1660.6,375.5 1661.2,376.0 1661.8,374.3 1662.4,374.5 1663.0,374.0 1663.6,374.3 1664.2,372.2 1664.8,374.9 1665.4,372.5 1666.0,369.7 1666.6,371.5 1667.2,372.5 1667.8,372.4 1668.4,376.9 1669.0,372.4 1669.6,373.2 1670.2,373.0 1670.8,372.9 1671.4,375.7 1672.0,374.0 1672.6,379.3 1673.2,371.5 1673.8,373.4 1674.4,373.7 1675.0,374.0 1675.6,374.7 1676.2,375.0 1676.8,375.0 1677.4,373.4 1678.0,371.8 1678.6,373.9 1679.2,374.6 1679.8,373.8 1680.4,373.7 1681.0,371.9 1681.6,378.2 1682.2,373.8 1682.8,372.6 1683.4,373.3 1684.0,373.6 1684.6,375.4 1685.2,375.6 1685.8,376.3 1686.4,375.2 1687.0,373.3 1687.6,373.3 1688.2,375.9 1688.8,377.1 1689.4,374.8 1690.0,375.5 1690.6,373.6 1691.2,373.4 1691.8,373.9 1692.4,374.8 1693.0,374.4 1693.6,375.0 1694.2,375.0 1694.8,376.1 1695.4,376.9 1696.0,375.7 1696.6,377.7 1697.2,375.0 1697.8,375.0 1698.4,375.6 1699.0,375.2 1699.6,376.3 1700.2,374.7 1700.8,376.8 1701.4,375.8 1702.0,377.8 1702.6,375.2 1703.2,375.8 1703.8,375.8 1704.4,374.4 1705.0,377.0 1705.6,376.7 1706.2,375.9 1706.8,374.7 1707.4,375.0 1708.0,377.1 1708.6,377.7 1709.2,378.3 1709.8,376.0 1710.4,375.8 1711.0,375.7 1711.6,374.3 1712.2,376.2 1712.8,377.9 1713.4,378.2 1714.0,377.1 1714.6,378.9 1715.2,378.1 1715.8,377.8 1716.4,377.1 1717.0,376.9 1717.6,376.0 1718.2,376.3 1718.8,376.8 1719.4,378.4 1720.0,378.1 1720.6,376.1 1721.2,376.9 1721.8,376.4 1722.4,375.7 1723.0,378.2 1723.6,379.2 1724.2,380.1 1724.8,379.3 1725.4,377.1 1726.0,379.1 1726.6,379.1 1727.2,376.3 1727.8,378.2 1728.4,378.1 1729.0,378.1 1729.6,379.3 1730.2,380.9 1730.8,379.8 1731.4,378.0 1732.0,378.0 1732.6,377.9 1733.2,377.8"/>
<polyline class="k" points="1776.3,373.8 1776.9,373.7 1777.5,371.1 1778.1,375.3 1778.7,372.4 1779.3,373.6 1779.9,374.5 1780.5,373.5 1781.1,373.6 1781.7,374.1 1782.3,375.6 1782.9,376.3 1783.5,373.3 1784.1,372.3 1784.7,374.1 1785.3,372.7 1785.9,373.9 1786.5,376.8 1787.1,373.2 1787.7,373.5 1788.3,372.2 1788.9,372.8 1789.5,373.5 1790.1,372.6 1790.7,373.5 1791.3,373.2 1791.9,372.6 1792.5,372.8 1793.1,373.0 1793.7,374.0 1794.3,372.9 1794.9,375.2 1795.5,375.9 1796.1,373.7 1796.7,374.0 1797.3,377.5 1797.9,377.2 1798.5,373.4 1799.1,374.2 1799.7,374.4 1800.3,373.1 1800.9,374.4 1801.5,371.9 1802.1,375.5 1802.7,374.9 1803.3,372.9 1803.9,374.6 1804.5,380.4 1805.1,373.3 1805.7,373.7 1806.3,374.5 1806.9,373.9 1807.5,370.6 1808.1,373.2 1808.7,373.8 1809.3,377.6 1809.9,373.2 1810.5,374.1 1811.1,373.3 1811.7,372.1 1812.3,372.0 1812.9,371.8 1813.5,372.2 1814.1,373.0 1814.7,371.0 1815.3,372.4 1815.9,371.1 1816.5,370.1 1817.1,372.1 1817.7,373.2 1818.3,372.8 1818.9,374.2 1819.5,374.5 1820.1,372.4 1820.7,371.3 1821.3,374.5 1821.9,370.4 1822.5,376.9 1823.1,373.2 1823.7,371.5 1824.3,372.6 1824.9,372.6 1825.5,372.6 1826.1,372.5 1826.7,372.9 1827.3,371.2 1827.9,374.3 1828.5,377.1 1829.1,372.0 1829.7,373.2 1830.3,373.1 1830.9,373.4 1831.5,373.0 1832.1,374.5 1832.7,371.7 1833.3,373.7 1833.9,372.2 1834.5,371.3 1835.1,373.1 1835.7,369.3 1836.3,373.1 1836.9,372.4 1837.5,371.2 1838.1,371.7 1838.7,370.7 1839.3,373.6 1839.9,365.6 1840.5,379.4 1841.1,372.9 1841.7,371.7 1842.3,371.1 1842.9,370.6 1843.5,370.9 1844.1,371.2 1844.7,370.6 1845.3,370.3 1845.9,370.6 1846.5,371.2 1847.1,374.4 1847.7,370.1 1848.3,370.2 1848.9,373.6 1849.5,371.6 1850.1,372.9 1850.7,374.3 1851.3,373.2 1851.9,372.4 1852.5,371.2 1853.1,373.4 1853.7,370.2 1854.3,373.0 1854.9,372.4 1855.5,371.1 1856.1,373.4 1856.7,373.1 1857.3,374.1 1857.9,371.1 1858.5,373.2 1859.1,372.8 1859.7,372.5 1860.3,370.9 1860.9,372.5 1861.5,371.1 1862.1,371.0 1862.7,375.7 1863.3,373.3 1863.9,374.4 1864.5,374.1 1865.1,373.7 1865.7,373.7 1866.3,372.8 1866.9,373.0 1867.5,373.1 1868.1,378.2 1868.7,373.3 1869.3,373.1 1869.9,374.7 1870.5,372.8 1871.1,374.6 1871.7,372.5 1872.3,371.2 1872.9,373.4 1873.5,372.3 1874.1,373.0 1874.7,372.3 1875.3,372.2 1875.9,371.3 1876.5,371.6 1877.1,375.4 1877.7,373.2 1878.3,374.1 1878.9,370.0 1879.5,372.5 1880.1,372.3 1880.7,371.2 1881.3,370.2 1881.9,371.4 1882.5,371.1 1883.1,372.2 1883.7,374.5 1884.3,374.5 1884.9,372.8 1885.5,372.0 1886.1,373.2 1886.7,372.5 1887.3,371.9 1887.9,372.9 1888.5,371.9 1889.1,372.6 1889.7,372.5 1890.3,372.7 1890.9,372.7 1891.5,371.2 1892.1,371.6 1892.7,371.1 1893.3,373.6 1893.9,372.1 1894.5,372.5 1895.1,372.8 1895.7,371.0 1896.3,370.4 1896.9,371.3 1897.5,371.9 1898.1,373.6 1898.7,373.4 1899.3,369.1 1899.9,373.0 1900.5,373.4 1901.1,371.8 1901.7,372.6 1902.3,370.5 1902.9,372.9 1903.5,372.4 1904.1,371.6 1904.7,372.1 1905.3,372.6 1905.9,380.2 1906.5,371.7 1907.1,372.5 1907.7,372.2 1908.3,373.4 1908.9,375.2 1909.5,371.6 1910.1,370.5 1910.7,371.8 1911.3,370.7 1911.9,373.2 1912.5,372.7 1913.1,373.6 1913.7,372.7 1914.3,372.4 1914.9,375.4 1915.5,377.6 1916.1,371.9 1916.7,371.4 1917.3,372.0 1917.9,371.1 1918.5,376.0 1919.1,372.6 1919.7,374.0 1920.3,372.4 1920.9,373.6 1921.5,372.7 1922.1,371.8 1922.7,372.1 1923.3,373.0 1923.9,371.7 1924.5,372.2 1925.1,373.0 1925.7,372.1 1926.3,372.9 1926.9,371.9 1927.5,371.7 1928.1,372.9 1928.7,370.4 1929.3,372.5 1929.9,372.3 1930.5,371.8 1931.1,373.0 1931.7,375.4 1932.3,374.5 1932.9,372.9 1933.5,371.0 1934.1,372.0 1934.7,370.9 1935.3,370.6 1935.9,374.5 1936.5,372.3 1937.1,373.1 1937.7,371.2 1938.3,371.1 1938.9,371.8 1939.5,371.7 1940.1,372.0 1940.7,372.7 1941.3,373.5 1941.9,374.9 1942.5,374.6 1943.1,372.9 1943.7,371.7 1944.3,373.5 1944.9,370.3 1945.5,369.5 1946.1,372.4 1946.7,372.5 1947.3,372.0 1947.9,372.6 1948.5,370.1 1949.1,370.3 1949.7,373.7 1950.3,373.7 1950.9,373.6 1951.5,374.9 1952.1,371.8 1952.7,371.9 1953.3,373.8 1953.9,372.2 1954.5,372.5 1955.1,372.1 1955.7,373.9 1956.3,373.2 1956.9,370.9 1957.5,371.4 1958.1,372.1 1958.7,372.7 1959.3,373.4 1959.9,371.8 1960.5,371.6 1961.1,372.0 1961.7,371.0 1962.3,372.4 1962.9,369.8 1963.5,369.5 1964.1,371.8 1964.7,372.9 1965.3,370.8 1965.9,372.1 1966.5,376.9 1967.1,371.6 1967.7,368.7 1968.3,369.5 1968.9,373.8 1969.5,371.9 1970.1,370.4 1970.7,372.0 1971.3,374.6 1971.9,372.6 1972.5,371.6 1973.1,370.7 1973.7,372.7 1974.3,383.2 1974.9,369.3 1975.5,378.8 1976.1,372.1 1976.7,372.1 1977.3,371.3 1977.9,372.3 1978.5,373.6 1979.1,373.1 1979.7,371.3 1980.3,370.5 1980.9,375.3 1981.5,371.8 1982.1,371.1 1982.7,371.9 1983.3,370.3 1983.9,371.1 1984.5,373.4 1985.1,371.6 1985.7,371.9 1986.3,370.9 1986.9,371.6 1987.5,373.0 1988.1,371.8 1988.7,373.0 1989.3,370.7 1989.9,366.4 1990.5,372.1 1991.1,370.0 1991.7,373.5 1992.3,372.0 1992.9,369.7 1993.5,371.0 1994.1,370.3 1994.7,371.4 1995.3,371.0 1995.9,371.8 1996.5,372.2 1997.1,370.8 1997.7,370.1 1998.3,371.5 1998.9,370.7 1999.5,372.1 2000.1,371.1 2000.7,371.8 2001.3,371.0 2001.9,369.9 2002.5,369.3 2003.1,370.7 2003.7,372.2 2004.3,370.6 2004.9,370.3 2005.5,371.9 2006.1,370.5 2006.7,368.2 2007.3,369.9 2007.9,371.8 2008.5,370.5 2009.1,369.8 2009.7,371.1 2010.3,372.2 2010.9,371.2 2011.5,371.5 2012.1,372.9 2012.7,372.3 2013.3,371.3 2013.9,371.0 2014.5,369.6 2015.1,369.7 2015.7,374.9 2016.3,368.7 2016.9,370.5 2017.5,370.0 2018.1,369.4 2018.7,370.8 2019.3,367.0 2019.9,369.2 2020.5,368.2 2021.1,370.6 2021.7,368.2 2022.3,370.6 2022.9,368.6 2023.5,369.6 2024.1,367.8 2024.7,369.9 2025.3,372.8 2025.9,370.6 2026.5,369.2 2027.1,368.3 2027.7,369.2 2028.3,370.6 2028.9,368.2 2029.5,367.8 2030.1,369.1 2030.7,370.2 2031.3,367.9 2031.9,368.2 2032.5,369.1 2033.1,368.6 2033.7,368.9 2034.3,370.2 2034.9,368.9 2035.5,369.1 2036.1,369.8 2036.7,368.1 2037.3,367.1 2037.9,367.6 2038.5,368.5 2039.1,371.4 2039.7,364.8 2040.3,369.5 2040.9,369.1 2041.5,367.0 2042.1,368.6 2042.7,370.7 2043.3,366.8 2043.9,368.5 2044.5,367.1 2045.1,368.8 2045.7,368.3 2046.3,370.7 2046.9,367.9 2047.5,368.3 2048.1,368.1 2048.7,367.6 2049.3,367.4 2049.9,367.2 2050.5,367.5 2051.1,368.0 2051.7,366.9 2052.3,367.7 2052.9,366.4 2053.5,365.7 2054.5,351.7 2055.3,364.3 2055.9,366.8 2056.5,366.9 2057.1,367.1 2057.7,369.0 2058.3,369.5 2058.9,366.5 2059.5,368.6 2060.1,367.8 2060.7,369.9 2061.3,369.2 2061.9,369.4 2062.5,366.7 2063.1,365.9 2063.7,367.9 2064.3,367.6 2064.9,368.7 2065.5,366.5 2066.1,367.8 2066.7,369.5 2067.3,365.8 2067.9,366.9 2068.5,364.8 2069.1,367.3 2069.7,366.4 2070.3,369.0 2070.9,368.8 2071.5,366.2 2072.1,369.2 2072.7,368.6 2073.3,368.3 2073.9,368.7 2074.5,367.9 2075.1,367.9 2075.7,359.8 2076.3,369.2 2076.9,368.0 2077.5,367.3 2078.1,371.1 2078.7,370.3 2079.3,368.0 2079.9,368.0 2080.5,368.2 2081.1,370.5 2081.7,368.0 2082.3,366.5 2082.9,369.5 2083.5,367.7 2084.1,369.0 2084.7,367.2 2085.3,365.2 2085.9,366.6 2086.5,367.0 2087.1,367.2 2087.7,366.7 2088.3,365.1 2088.9,368.1 2089.5,367.4 2090.1,367.2 2090.7,369.0 2091.3,370.5 2091.9,368.1 2092.5,370.4 2093.1,365.8 2093.7,368.3 2094.3,367.2 2094.9,375.4 2095.5,366.4 2096.1,366.7 2096.7,367.0 2097.3,367.0 2097.9,367.7 2098.5,369.8"/>
<polyline class="bl" points="1078.0,255.4 1079.3,268.4 1080.6,277.9 1081.9,285.9 1083.2,290.5 1084.5,296.6 1085.8,299.9 1087.1,301.4 1088.4,303.9 1089.7,303.0 1091.0,300.5 1092.3,301.5 1093.6,299.0 1094.9,294.0 1096.2,293.0 1097.5,290.0 1098.8,287.1 1100.1,282.7 1101.4,285.4 1102.7,282.9 1104.0,283.8 1105.3,284.8 1106.6,287.9 1107.9,287.2 1109.2,286.1 1110.5,287.2 1111.8,289.5 1113.1,289.2 1114.4,288.8 1115.7,290.1 1117.0,291.4 1118.3,293.4 1119.9,274.1 1120.9,289.3 1122.2,291.6 1123.5,289.1 1124.8,289.7 1126.1,289.0 1127.4,292.4 1128.7,293.6 1130.0,289.5 1131.3,292.6 1132.6,290.9 1133.9,288.6 1135.2,289.9 1136.5,291.6 1137.8,292.3 1139.1,292.9 1140.4,289.2 1141.7,292.2 1143.0,294.6 1144.3,284.2 1145.6,293.6 1146.9,286.6 1148.0,241.5 1149.5,290.0 1150.8,294.3 1152.1,290.3 1153.4,290.5 1154.7,287.9 1156.0,291.8 1157.3,292.6 1158.6,290.9 1159.9,293.7 1161.2,290.9 1162.5,291.9 1163.8,291.3 1165.1,288.6 1166.4,290.1 1167.7,292.0 1169.0,288.1 1170.3,291.0 1171.6,290.2 1172.9,293.0 1174.2,290.5 1175.5,289.8 1176.8,289.3 1178.1,289.1 1179.4,286.1 1180.7,288.5 1182.0,283.8 1183.3,285.8 1184.6,285.1 1185.9,282.7 1187.2,283.5 1188.5,284.8 1189.8,283.7 1191.1,282.7 1192.4,279.3 1193.7,281.2 1195.0,282.5 1196.3,277.8 1197.6,283.0 1198.9,284.0 1200.2,282.3 1201.5,283.2 1202.8,285.4 1204.1,284.0 1205.4,285.1 1206.7,285.6 1208.0,288.8 1209.3,286.4 1210.6,288.5 1211.9,289.5 1213.2,291.2 1214.5,290.6 1215.8,291.6 1217.1,293.9 1218.4,296.8 1219.7,296.6 1221.0,295.6 1222.3,296.3 1223.6,295.8 1224.9,296.2 1226.2,294.9 1227.5,296.5 1228.8,297.1 1230.1,295.2 1231.4,293.0 1232.7,295.6 1234.0,293.0 1235.3,293.6 1236.6,291.1 1237.9,289.4 1239.2,291.9 1240.5,292.5 1241.8,291.6 1243.1,291.0 1244.4,289.5 1245.7,289.4 1247.0,290.2 1248.3,292.1 1249.6,290.7 1250.9,289.5 1252.2,291.1 1253.5,289.6 1254.8,289.6 1256.1,292.2 1257.4,279.5 1259.0,149.0 1260.0,243.0 1261.3,291.7 1262.6,293.3 1263.9,295.9 1265.2,293.8 1266.5,295.5 1267.8,294.8 1269.1,294.9 1270.4,296.4 1271.7,295.7 1273.0,290.9 1274.5,204.3 1275.6,276.6 1276.9,292.6 1278.2,308.4 1279.5,310.5 1280.8,308.5 1282.1,309.1 1283.4,309.6 1284.7,312.1 1286.0,309.6 1287.3,309.5 1288.6,308.3 1289.9,307.1 1291.2,311.2 1292.5,307.6 1293.8,306.3 1295.1,309.5 1296.4,306.1 1297.7,307.9 1299.0,309.2 1300.3,306.9 1301.6,307.3 1302.9,307.1 1304.2,307.1 1305.5,304.5 1306.8,304.9 1308.1,305.9 1309.4,306.7 1310.7,306.5 1312.0,307.4 1313.3,306.7 1314.6,305.4 1315.9,306.0 1317.2,300.2 1318.5,304.5 1319.8,303.1 1321.1,304.2 1322.4,304.8 1323.7,304.3 1325.0,304.4 1326.3,304.5 1327.6,306.4 1328.9,306.5 1330.2,305.8 1331.5,305.0 1332.8,307.5 1334.1,306.9 1335.4,305.2 1336.7,304.6 1338.0,303.9 1339.3,304.9 1340.6,305.8 1341.9,305.2 1343.2,307.6 1344.5,308.4 1345.8,308.0 1347.1,305.6 1348.4,302.4 1349.5,293.7 1351.0,305.0 1352.3,307.9 1353.6,304.3 1354.9,307.7 1356.2,305.8 1357.5,306.5 1358.8,306.8 1360.1,305.8 1361.4,306.4 1362.7,305.6 1364.0,304.6 1365.3,305.0 1366.6,305.3 1367.9,308.3 1369.2,306.5 1370.5,308.4 1371.8,303.5 1373.1,306.1 1374.4,306.6 1375.7,305.9 1377.0,307.6 1378.3,306.9 1379.6,305.5 1380.9,306.3 1382.2,309.3 1383.5,306.7 1384.8,307.0 1386.1,305.8 1387.4,306.5 1388.7,305.6 1390.0,307.1 1391.3,310.2 1392.6,308.8 1393.9,308.6 1395.2,308.0 1396.5,309.0 1397.8,307.6 1399.1,309.4 1400.4,308.2 1401.7,313.6 1403.0,308.5 1404.3,303.7 1405.6,305.8 1406.9,306.7 1408.5,286.5 1409.5,303.6 1410.8,306.8 1412.1,306.7 1413.4,310.0 1414.7,308.4 1416.0,308.0 1417.3,308.9 1418.6,306.0 1419.9,307.8 1421.2,307.6 1422.5,308.8 1423.8,305.3 1425.1,307.7 1426.4,307.3 1427.7,306.5 1429.0,309.0 1430.3,306.6 1431.6,308.6 1432.9,307.2 1434.2,307.7 1435.5,306.9 1436.8,307.9 1438.1,305.1 1439.4,306.8 1440.7,305.7 1442.0,306.1 1443.3,306.5 1444.6,307.9 1445.9,306.8 1447.2,309.0 1448.5,309.0 1449.8,306.4 1451.1,306.5 1452.4,306.2 1453.7,307.4 1455.0,309.0 1456.3,306.1 1457.6,306.7 1458.9,306.3 1460.2,306.3 1461.5,305.6 1462.8,307.4 1464.1,305.7 1465.4,308.5 1466.7,308.8 1468.0,307.1 1469.3,307.0 1470.6,306.5 1471.9,308.4 1473.2,305.8 1474.5,304.7 1475.8,306.8 1477.1,307.4 1478.4,305.9 1479.7,308.2 1481.0,306.8 1482.3,306.9 1483.6,305.2 1484.9,306.1 1486.2,306.2 1487.5,303.7 1488.8,305.8 1490.1,302.6 1491.4,306.0 1492.7,304.5 1494.0,308.1 1495.3,306.4 1496.6,307.6 1497.9,308.0 1499.2,306.6 1500.5,305.4 1501.8,303.4 1503.1,307.0 1504.4,273.2 1505.2,241.7 1505.7,256.4 1507.0,304.1 1508.3,308.8 1509.6,310.5 1510.9,307.3 1512.2,305.9 1513.5,307.6 1514.8,310.9 1516.1,308.7 1517.4,308.2 1518.7,312.6 1520.0,304.8 1521.3,308.2 1522.6,310.2 1523.9,310.4 1525.2,307.7 1526.5,309.2 1527.8,305.9 1529.1,309.3 1530.4,309.4 1531.7,308.1 1533.0,309.6 1534.3,309.0 1535.6,309.5 1536.9,308.7 1538.2,309.0 1539.5,277.4 1540.9,113.2 1542.1,268.0 1543.4,310.6 1544.7,310.3 1546.0,311.7 1547.3,308.9 1548.6,309.3 1549.9,309.9 1551.2,309.8 1552.5,310.8 1553.8,310.2 1555.1,312.1 1556.4,309.9 1557.7,310.8 1559.0,310.7 1560.3,312.8 1561.6,309.9 1562.9,311.3 1564.2,310.2 1565.5,310.9 1566.8,312.5 1568.1,310.8 1569.4,311.5 1570.7,311.9 1572.0,313.9 1573.3,311.5 1574.6,312.9 1575.9,310.5 1577.2,311.2 1578.5,313.0 1579.8,314.0 1581.1,313.6 1582.4,315.0 1583.7,316.4 1585.0,316.3 1586.3,312.2 1587.6,314.2 1588.9,314.8 1590.2,316.1 1591.5,316.9 1592.8,316.0 1594.1,315.5 1595.4,308.3 1596.5,295.6 1598.0,314.1 1599.3,316.3 1600.6,298.7 1601.1,288.6 1601.9,307.7 1603.2,318.6 1604.5,316.5 1605.8,315.0 1607.1,315.3 1608.4,315.5 1609.7,314.3 1611.0,314.6 1612.3,314.2 1613.6,313.4 1614.9,313.1 1616.2,311.2 1617.5,313.2 1618.8,314.1 1620.1,316.3 1621.4,318.3 1622.7,318.1 1624.0,317.7 1625.3,319.4 1626.6,318.9 1627.9,317.7 1629.2,320.8 1630.5,320.1 1631.8,322.1 1633.1,319.8 1634.4,320.7 1635.7,320.8 1637.0,321.4 1638.3,321.6 1639.6,321.9 1640.9,322.2 1642.2,319.9 1643.5,320.8 1644.8,322.1 1646.1,322.7 1647.4,323.2 1648.7,325.5 1650.0,323.0 1651.3,321.6 1652.6,318.8 1653.9,320.9 1655.2,319.1 1656.5,320.4 1657.8,320.3 1659.1,321.3 1660.4,321.9 1661.7,320.5 1663.0,320.3 1664.3,319.6 1665.6,318.8 1666.9,320.6 1668.2,312.1 1669.2,302.9 1670.8,316.3 1672.1,317.4 1673.4,317.9 1674.7,319.9 1676.0,316.5 1677.3,318.1 1678.6,317.9 1679.9,319.0 1681.2,321.3 1682.5,320.7 1683.8,319.8 1685.1,321.4 1686.4,321.0 1687.7,320.9 1689.0,319.8 1690.3,321.5 1691.6,324.4 1692.9,326.9 1694.2,328.7 1695.5,329.3 1696.8,328.9 1698.1,329.2 1699.4,326.8"/>
<polyline class="bl" points="1796.3,332.8 1797.6,328.4 1798.3,326.1 1798.9,327.8 1800.2,331.0 1801.5,331.8 1802.8,332.1 1804.1,333.4 1805.4,332.0 1806.7,329.2 1808.0,330.2 1809.3,329.1 1810.6,328.8 1811.9,328.3 1813.2,327.4 1814.5,329.2 1815.8,327.6 1817.1,328.6 1818.4,327.7 1819.7,326.8 1821.0,325.7 1822.3,326.7 1823.6,326.9 1824.9,319.6 1826.2,328.3 1827.5,326.6 1828.8,328.6 1830.1,326.2 1831.4,340.8 1832.7,333.6 1834.0,332.9 1835.3,330.8 1836.6,328.9 1837.9,326.4 1839.2,327.3 1840.5,328.7 1841.8,330.4 1843.1,329.8 1844.4,328.3 1845.7,329.4 1847.0,327.2 1848.3,328.9 1849.6,326.9 1850.9,332.4 1852.2,335.4 1853.5,339.0 1854.8,339.0 1856.1,339.1 1857.4,335.8 1858.7,335.4 1860.0,333.8 1861.3,329.5 1862.6,331.4 1863.9,332.4 1865.2,332.1 1866.5,333.1 1867.8,331.2 1869.1,333.5 1870.4,332.8 1871.7,332.4 1873.0,334.6 1874.3,332.8 1875.6,333.3 1876.9,333.5 1878.2,334.9 1879.5,334.7 1880.8,338.6 1882.1,335.8 1883.4,336.4 1884.7,338.0 1886.0,336.4 1887.3,336.5 1888.6,336.9 1889.9,333.9 1891.2,334.2 1892.5,332.7 1893.8,330.1 1895.1,329.5 1896.4,328.4 1897.7,326.4 1899.0,325.6 1900.3,329.2 1901.6,326.1 1902.9,326.0 1904.2,328.8 1905.5,333.1 1906.8,330.7 1908.1,329.4 1909.4,332.4 1910.7,331.3 1912.0,331.3 1913.3,329.9 1914.6,328.5 1915.9,326.6 1917.2,329.0 1918.5,329.2 1919.8,328.9 1921.1,330.2 1922.4,331.0 1923.7,332.9 1925.0,334.4 1926.3,335.2 1927.6,337.6 1928.9,338.1 1930.2,341.0 1931.5,340.0 1932.8,342.7 1934.1,344.1 1935.4,342.5 1936.7,339.4 1938.0,339.4 1939.3,335.4 1940.6,332.2 1941.9,333.0 1943.2,332.0 1944.5,334.3 1945.8,331.2 1947.1,332.8 1948.4,334.0 1949.7,332.7 1951.0,333.2 1952.3,336.4 1953.6,335.2 1954.9,334.9 1956.2,338.6 1957.5,341.6 1958.8,346.1 1960.1,350.5 1961.4,347.5 1962.7,343.5 1964.0,343.1 1965.3,339.5 1966.6,339.1 1967.9,339.1 1969.2,345.0 1970.5,339.7 1971.8,339.9 1973.1,339.8 1974.4,340.3 1975.7,344.1 1977.0,349.1 1978.3,348.5 1979.6,347.0 1980.9,343.2 1982.2,341.9 1983.5,339.8 1984.2,338.7 1984.8,339.7 1986.1,342.7 1987.4,346.1 1988.7,346.0 1990.0,347.8 1991.3,346.3 1992.6,347.3 1993.9,346.1 1995.2,342.7 1996.5,343.5 1997.8,342.8 1999.1,342.4 2000.4,342.0 2001.7,341.1 2003.0,340.8 2004.3,338.8 2005.6,337.7 2006.9,336.8 2008.4,334.8 2009.5,335.2 2010.8,337.0 2012.1,339.6 2013.4,339.2 2014.7,341.6 2016.0,343.2 2017.3,344.9 2018.6,348.4 2019.9,354.5 2021.2,354.6 2022.5,354.7 2023.8,348.8 2025.1,345.4 2026.4,342.1 2027.7,342.3 2029.0,340.7 2030.3,337.2 2031.6,336.2 2032.9,336.2 2034.2,336.7 2035.5,335.9 2036.8,334.2 2038.1,336.9 2039.4,334.0 2040.7,334.8 2042.0,335.6 2043.3,336.1 2044.6,334.0 2045.9,338.4 2047.2,340.8 2048.5,342.3 2049.8,343.9 2051.1,340.0 2052.4,337.5 2053.7,310.9 2054.5,290.6 2055.0,301.8 2056.3,337.8 2057.6,337.9 2058.9,337.5 2060.2,337.5 2061.5,339.2 2062.8,335.3 2064.3,332.9 2065.4,335.7 2066.7,335.6 2068.0,338.6 2069.3,338.1 2070.6,334.6 2071.9,333.5 2073.2,334.7 2074.5,332.6 2075.8,337.6 2077.1,339.0 2078.4,343.1 2079.7,345.5 2081.0,343.8 2082.3,342.4 2083.6,340.0 2084.9,343.3 2086.2,344.8 2087.5,339.6 2088.8,339.9 2090.1,341.0 2091.4,338.5 2092.7,340.1 2094.0,339.0 2095.3,337.2 2096.6,333.4 2097.9,332.5"/>
</g>
<g>
<line x1="1119.8" y1="213.2" x2="1119.8" y2="261.6" stroke="#ff8c00" stroke-width="2.35"/>
<text transform="translate(1128.2,205.1) rotate(-90)" class="t">[C I]</text>
<line x1="1128.8" y1="109.5" x2="1128.8" y2="157.2" stroke="#ff0000" stroke-width="2.35"/>
<text transform="translate(1137.2,101.7) rotate(-90)" class="t">[S VIII]</text>
<line x1="1148.2" y1="176.3" x2="1148.2" y2="223.8" stroke="#ff8c00" stroke-width="2.35"/>
<text transform="translate(1156,166.7) rotate(-90)" class="t">Pa<tspan class="it">δ</tspan></text>
<line x1="1158.8" y1="219.2" x2="1158.8" y2="266.7" stroke="#ff8c00" stroke-width="2.35"/>
<text transform="translate(1166.4,211.2) rotate(-90)" class="t">He II</text>
<line x1="1274" y1="127.6" x2="1274" y2="175.4" stroke="#ff8c00" stroke-width="2.35"/>
<text transform="translate(1281.4,119.8) rotate(-90)" class="t">Pa<tspan class="it">γ</tspan></text>
<line x1="1323.6" y1="213.2" x2="1323.6" y2="261.6" stroke="#ff8c00" stroke-width="2.35"/>
<text transform="translate(1331.2,205.1) rotate(-90)" class="t">O I</text>
<line x1="1349.3" y1="213.2" x2="1349.3" y2="261.6" stroke="#ff8c00" stroke-width="2.35"/>
<text transform="translate(1356.5,205.1) rotate(-90)" class="t">[P II]</text>
<line x1="1372.1" y1="213.2" x2="1372.1" y2="261.6" stroke="#ff8c00" stroke-width="2.35"/>
<text transform="translate(1379.7,205.1) rotate(-90)" class="t">He II</text>
<line x1="1408.5" y1="213.2" x2="1408.5" y2="261.6" stroke="#ff8c00" stroke-width="2.35"/>
<text transform="translate(1415.7,205.1) rotate(-90)" class="t">[P II]</text>
<line x1="1498.8" y1="237.3" x2="1498.8" y2="285.6" stroke="#ff0000" stroke-width="2.35"/>
<text transform="translate(1506,230.2) rotate(-90)" class="t">[S IX]</text>
<line x1="1505" y1="115" x2="1505" y2="162.7" stroke="#ff8c00" stroke-width="2.35"/>
<text transform="translate(1513.4,108.3) rotate(-90)" class="t">[Fe II]</text>
<line x1="1540.9" y1="78.2" x2="1540.9" y2="102.6" stroke="#ff8c00" stroke-width="2.35"/>
<text transform="translate(1548.4,71.6) rotate(-90)" class="t">Pa<tspan class="it">β</tspan></text>
<line x1="1596" y1="213.2" x2="1596" y2="261.6" stroke="#ff8c00" stroke-width="2.35"/>
<text transform="translate(1604.4,199.1) rotate(-90)" class="t">[Fe II]</text>
<line x1="1669.1" y1="213.2" x2="1669.1" y2="261.6" stroke="#ff8c00" stroke-width="2.35"/>
<text transform="translate(1677.5,205.1) rotate(-90)" class="t">[Fe II]</text>
<line x1="2054.3" y1="213.2" x2="2054.3" y2="261.6" stroke="#ff8c00" stroke-width="2.35"/>
<text transform="translate(2062.7,205.1) rotate(-90)" class="t">[Fe II]</text>
<line x1="1244.9" y1="91.3" x2="1248.8" y2="122.5" stroke="#ff8c00" stroke-width="2.35"/>
<text transform="translate(1246.8,82.9) rotate(-90)" class="t">He I</text>
<text x="1893.2" y="299.9" class="t11" style="fill:#008000">CO bands</text>
</g>
<!-- panel 2 spectra -->
<g clip-path="url(#ax1)">
<polyline class="k" points="1081.5,854.8 1082.0,853.6 1082.6,857.1 1083.1,856.0 1083.7,854.8 1084.2,856.5 1084.8,855.2 1085.3,853.5 1085.9,854.7 1086.4,853.8 1087.0,853.5 1087.5,854.3 1088.1,848.0 1088.7,841.5 1089.2,844.5 1089.7,852.7 1090.3,855.8 1090.8,857.0 1091.4,852.5 1091.9,854.3 1092.5,851.3 1093.0,851.4 1093.6,851.8 1094.1,852.9 1094.7,854.7 1095.2,854.2 1095.8,853.1 1096.3,852.2 1096.9,852.2 1097.4,852.1 1098.0,853.3 1098.5,851.8 1099.1,852.2 1099.6,851.8 1100.2,851.3 1100.7,851.6 1101.3,851.9 1101.8,853.1 1102.4,851.1 1102.9,854.2 1103.5,852.9 1104.0,857.4 1104.6,851.7 1105.1,852.0 1105.7,853.5 1106.2,853.1 1106.8,852.7 1107.3,852.2 1107.9,855.1 1108.4,852.5 1109.0,854.2 1109.5,853.3 1110.1,851.0 1110.6,852.6 1111.2,853.2 1111.7,855.6 1112.3,853.1 1112.8,855.0 1113.4,852.3 1113.9,852.0 1114.5,851.9 1115.0,853.5 1115.6,851.4 1116.1,850.2 1116.7,851.8 1117.2,851.6 1117.8,853.7 1118.3,852.5 1118.9,848.8 1119.4,852.9 1120.0,851.5 1120.5,867.7 1121.1,854.2 1121.6,853.8 1122.2,850.6 1122.7,848.5 1123.3,853.1 1123.8,852.4 1124.4,851.2 1124.9,850.9 1125.5,854.2 1126.0,852.6 1126.6,852.3 1127.1,851.3 1127.7,851.3 1128.2,852.2 1128.8,850.3 1129.3,854.7 1129.9,851.1 1130.4,850.3 1131.0,853.7 1131.5,850.9 1132.1,850.8 1132.6,849.0 1133.2,849.5 1133.7,851.9 1134.3,851.3 1134.8,851.1 1135.4,851.2 1135.9,851.5 1136.5,852.0 1137.0,851.1 1137.6,851.7 1138.1,852.2 1138.7,851.7 1139.2,852.5 1139.8,850.8 1140.3,855.4 1140.9,849.2 1141.4,852.1 1142.0,850.6 1142.5,849.7 1143.1,851.3 1143.6,850.1 1144.2,848.3 1144.7,854.8 1145.3,852.1 1145.8,853.5 1146.4,848.3 1146.9,851.9 1147.5,849.5 1148.0,848.9 1148.6,849.4 1149.1,846.7 1149.7,846.7 1150.2,847.8 1150.8,851.6 1151.3,844.7 1151.9,845.0 1152.4,848.0 1153.0,851.5 1153.5,847.5 1154.1,847.5 1154.6,850.5 1155.2,850.3 1155.7,851.2 1156.3,851.7 1156.8,850.1 1157.4,850.3 1157.9,851.0 1158.5,859.4 1159.0,851.0 1159.6,851.0 1160.1,848.6 1160.7,847.3 1161.2,851.1 1161.8,851.0 1162.3,850.2 1162.9,849.8 1163.4,849.2 1164.0,853.3 1164.5,852.2 1165.1,850.6 1165.6,852.2 1166.2,851.8 1166.7,852.4 1167.3,859.7 1167.8,852.2 1168.4,851.3 1168.9,853.1 1169.5,852.4 1170.0,857.5 1170.6,855.5 1171.1,852.9 1171.7,850.6 1172.2,851.7 1172.8,851.3 1173.3,853.1 1173.9,851.8 1174.4,849.9 1175.0,851.7 1175.5,853.5 1176.1,853.8 1176.6,854.9 1177.2,852.4 1177.7,852.1 1178.3,851.3 1178.8,848.1 1179.4,852.3 1179.9,850.4 1180.5,858.1 1181.0,852.1 1181.6,849.9 1182.1,854.3 1182.7,849.4 1183.2,850.1 1183.8,851.4 1184.3,854.5 1184.9,850.0 1185.4,850.8 1186.0,851.6 1186.5,852.3 1187.1,853.9 1187.6,850.7 1188.2,849.2 1188.7,851.8 1189.3,850.9 1189.8,851.7 1190.4,853.1 1190.9,852.9 1191.5,852.4 1192.0,850.6 1192.6,850.7 1193.1,850.7 1193.7,851.4 1194.2,851.6 1194.8,853.4 1195.3,853.0 1195.9,852.0 1196.4,854.5 1197.0,850.9 1197.5,849.8 1198.1,850.7 1198.6,851.9 1199.2,852.3 1199.7,850.1 1200.3,849.3 1200.8,853.6 1201.4,850.5 1201.9,850.2 1202.5,850.5 1203.0,849.1 1203.6,850.3 1204.1,852.5 1204.7,850.5 1205.2,850.9 1205.8,850.1 1206.3,849.5 1206.9,852.2 1207.4,849.9 1208.0,849.2 1208.5,849.0 1209.1,849.4 1209.6,850.3 1210.2,849.5 1210.7,850.2 1211.3,848.5 1211.8,852.3 1212.4,849.1 1212.9,848.9 1213.5,849.7 1214.0,851.0 1214.6,851.4 1215.1,849.8 1215.7,853.2 1216.2,849.7 1216.8,853.2 1217.3,851.2 1217.9,850.4 1218.4,851.9 1219.0,850.9 1219.5,852.9 1220.1,853.4 1220.6,853.7 1221.2,853.2 1221.7,852.4 1222.3,851.7 1222.8,853.6 1223.4,850.4 1223.9,851.1 1224.5,852.0 1225.0,850.4 1225.6,855.5 1226.1,848.8 1226.7,849.1 1227.2,850.7 1227.8,850.8 1228.3,851.3 1228.9,849.9 1229.4,851.3 1230.0,852.1 1230.5,851.4 1231.1,849.0 1231.6,849.8 1232.2,852.2 1232.7,848.1 1233.3,855.2 1233.8,849.4 1234.4,854.2 1234.9,849.3 1235.5,849.0 1236.0,846.1 1236.6,847.9 1237.1,849.5 1237.7,849.5 1238.2,852.2 1238.8,845.1 1239.3,844.4 1239.9,839.8 1240.4,842.6 1241.0,840.3 1241.5,837.2 1242.1,833.7 1242.6,830.0 1243.2,831.7 1243.7,823.4 1244.3,820.9 1244.8,813.5 1245.4,805.8 1245.9,796.5 1246.5,788.1 1247.0,778.2 1247.6,766.0 1248.4,750.6 1249.2,766.8 1249.8,777.8 1250.3,789.2 1250.9,795.2 1251.4,804.6 1252.0,816.6 1252.5,822.9 1253.1,824.8 1253.6,831.9 1254.2,836.6 1254.7,840.4 1255.3,840.0 1255.8,847.0 1256.4,842.3 1256.9,841.8 1257.5,843.1 1258.0,845.2 1258.6,846.5 1259.1,847.7 1259.7,848.3 1260.2,843.3 1260.8,846.5 1261.3,849.2 1261.9,848.6 1262.4,847.4 1263.0,848.6 1263.5,853.3 1264.1,851.7 1264.6,847.9 1265.2,850.5 1265.7,847.6 1266.3,849.3 1266.8,849.2 1267.4,851.7 1267.9,849.5 1268.5,852.0 1269.0,852.1 1269.6,848.2 1270.1,849.9 1270.7,848.6 1271.2,849.8 1271.8,852.0 1272.3,847.3 1272.9,850.0 1273.4,848.0 1274.0,850.4 1274.5,847.8 1275.1,850.4 1275.6,851.9 1276.2,849.2 1276.7,850.9 1277.3,850.1 1277.8,849.5 1278.4,845.2 1278.9,848.0 1279.5,848.0 1280.0,849.8 1280.6,848.6 1281.1,849.6 1281.7,846.2 1282.2,848.6 1282.8,852.9 1283.3,848.3 1283.9,848.3 1284.4,848.4 1285.0,849.7 1285.5,849.6 1286.1,848.7 1286.6,852.7 1287.2,849.6 1287.7,853.8 1288.3,851.3 1288.8,850.1 1289.4,853.7 1289.9,851.6 1290.5,849.4 1291.0,849.9 1291.6,850.7 1292.1,849.5 1292.7,849.5 1293.2,850.3 1293.8,847.4 1294.3,846.6 1294.9,845.5 1295.4,843.7 1296.0,845.3 1296.5,847.6 1297.1,844.2 1297.6,847.9 1298.2,846.5 1298.7,845.6 1299.3,848.4 1299.8,849.6 1300.4,847.9 1300.9,848.6 1301.5,847.9 1302.0,844.4 1302.6,845.6 1303.1,847.9 1303.7,841.9 1304.2,842.2 1304.8,840.9 1305.6,839.7 1306.4,841.5 1307.0,843.5 1307.5,843.9 1308.1,844.8 1308.6,844.9 1309.2,845.4 1309.7,846.8 1310.3,850.0 1310.8,848.5 1311.4,853.1 1311.9,851.4 1312.5,851.1 1313.0,849.4 1313.6,853.7 1314.1,849.3 1314.7,851.8 1315.2,854.0 1315.8,852.1 1316.3,850.5 1316.9,850.7 1317.4,851.8 1318.0,853.5 1318.5,852.9 1319.1,851.4 1319.6,852.3 1320.2,854.0 1320.7,852.0 1321.3,853.3 1321.8,856.6 1322.4,851.9 1322.9,854.3 1323.5,851.0 1324.0,851.7 1324.6,853.3 1325.1,850.6 1325.7,852.5 1326.2,854.9 1326.8,849.6 1327.3,853.4 1327.9,851.2 1328.4,852.0 1329.0,852.3 1329.5,854.8 1330.1,852.7 1330.6,850.0 1331.2,854.2 1331.7,851.9 1332.3,851.3 1332.8,848.8 1333.4,850.3 1333.9,851.4 1334.5,850.4 1335.0,851.3 1335.6,851.6 1336.1,851.4 1336.7,852.7 1337.2,853.1 1337.8,852.5 1338.3,851.1 1338.9,855.0 1339.4,849.0 1340.0,851.6 1340.5,851.6 1341.1,853.4 1341.6,850.3 1342.2,853.4 1342.7,850.3 1343.3,853.1 1343.8,851.7 1344.4,850.6 1344.9,854.2 1345.5,850.1 1346.0,851.7 1346.6,852.6 1347.1,853.2 1347.7,853.2 1348.2,857.6 1348.8,852.2 1349.3,851.3 1349.9,851.3 1350.4,852.0 1351.0,853.1 1351.5,850.3 1352.1,851.8 1352.6,848.8 1353.2,850.2 1353.7,849.2 1354.3,852.9 1354.8,849.5 1355.4,851.5 1355.9,852.5 1356.5,852.3 1357.0,852.6 1357.6,852.4 1358.1,852.0 1358.7,852.3 1359.2,851.3 1359.8,851.3 1360.3,852.3 1360.9,850.5 1361.4,851.2 1362.0,856.1 1362.5,850.9 1363.1,851.6 1363.6,852.8 1364.2,853.1 1364.7,849.9 1365.3,852.0 1365.8,850.2 1366.4,851.7 1366.9,848.9 1367.5,853.6 1368.0,852.5 1368.6,852.9 1369.1,851.8 1369.7,850.6 1370.2,853.0 1370.8,851.9 1371.3,851.5 1371.9,853.4 1372.4,852.5 1373.0,851.9 1373.5,853.3 1374.1,851.4 1374.6,851.7 1375.2,852.9 1375.7,853.3 1376.3,853.8 1376.8,854.1 1377.4,853.0 1377.9,852.6 1378.5,855.1 1379.0,854.1 1379.6,852.5 1380.1,861.0 1380.7,853.4 1381.2,852.0 1381.8,854.8 1382.3,854.5 1382.9,853.9 1383.4,855.3 1384.0,854.7 1384.5,852.3 1385.1,851.9 1385.6,849.8 1386.2,851.1 1386.7,850.7 1387.3,852.6 1387.8,852.3 1388.4,851.6 1388.9,851.6 1389.5,849.7 1390.0,852.8 1390.6,850.7 1391.1,852.8 1391.7,852.4 1392.2,852.5 1392.8,852.3 1393.3,850.8 1393.9,850.6 1394.4,854.8 1395.0,851.5 1395.5,852.4 1396.1,852.0 1396.6,853.0 1397.2,852.9 1397.7,850.9 1398.3,850.9 1398.8,848.0 1399.4,854.5 1399.9,853.3 1400.5,851.7 1401.0,850.8 1401.6,852.4 1402.1,851.1 1402.7,851.4 1403.2,852.4 1403.8,852.6 1404.3,850.0 1404.9,853.8 1405.4,850.3 1406.0,848.0 1406.5,851.0 1407.1,848.4 1407.6,850.8 1408.2,848.4 1408.7,850.5 1409.3,853.1 1409.8,852.6 1410.4,851.6 1410.9,850.1 1411.5,849.8 1412.0,853.6 1412.6,852.8 1413.1,853.3 1413.7,855.4 1414.2,850.8 1414.8,849.6 1415.3,849.7 1415.9,849.3 1416.4,848.5 1417.3,838.8 1418.1,850.2 1418.6,849.3 1419.2,850.9 1419.7,848.8 1420.3,851.9 1420.8,851.5 1421.4,854.3 1421.9,852.7 1422.5,851.3 1423.0,851.5 1423.6,853.9 1424.1,850.8 1424.7,849.7 1425.2,852.3 1425.8,852.9 1426.3,850.4 1426.9,850.9 1427.4,850.3 1428.0,851.8 1428.5,852.3 1429.1,850.9 1429.6,851.7 1430.2,851.6 1430.7,852.2 1431.3,856.0 1431.8,852.8 1432.4,850.4 1432.9,849.1 1433.5,851.4 1434.0,852.0 1434.6,851.3 1435.1,851.7 1435.7,852.1 1436.2,852.5 1436.8,852.5 1437.3,852.9 1437.9,853.5 1438.4,851.3 1439.0,854.3 1439.5,850.9 1440.1,854.3 1440.6,848.6 1441.2,848.1 1441.7,848.8 1442.3,846.3 1442.8,847.8 1443.4,847.1 1443.9,847.1 1444.5,847.1 1445.0,846.5 1445.6,846.5 1446.1,845.9 1446.7,846.6 1447.2,847.3 1447.8,845.9 1448.3,846.9 1448.9,842.7 1449.4,846.6 1450.0,849.7 1450.5,848.2 1451.1,848.4 1451.6,847.9 1452.2,847.2 1452.7,848.0 1453.3,848.8 1453.8,850.7 1454.4,850.8 1454.9,850.3 1455.5,853.9 1456.0,850.3 1456.6,847.6 1457.1,852.9 1457.7,852.6 1458.2,852.0 1458.8,853.3 1459.3,852.4 1459.9,850.4 1460.4,851.4 1461.0,850.1 1461.5,850.2 1462.1,849.4 1462.6,850.7 1463.2,852.1 1463.7,850.3 1464.3,851.9 1464.8,849.1 1465.4,850.4 1465.9,852.6 1466.5,853.3 1467.0,853.5 1467.6,853.7 1468.1,850.8 1468.7,851.7 1469.2,849.0 1469.8,852.1 1470.3,852.9 1470.9,852.3 1471.4,851.6 1472.0,856.0 1472.5,853.4 1473.1,853.1 1473.6,851.7 1474.2,854.9 1474.7,851.8 1475.3,852.3 1475.8,852.1 1476.4,851.2 1476.9,850.0 1477.5,851.9 1478.0,852.6 1478.6,851.3 1479.1,852.2 1479.7,850.3 1480.2,853.0 1480.8,851.9 1481.3,851.7 1481.9,852.3 1482.4,852.0 1483.0,851.2 1483.5,852.3 1484.1,852.4 1484.6,851.8 1485.2,851.6 1485.7,849.9 1486.3,851.9 1486.8,852.2 1487.4,850.9 1487.9,854.3 1488.5,850.6 1489.0,849.3 1489.6,850.6 1490.1,851.2 1490.7,851.3 1491.2,850.4 1491.8,858.3 1492.3,837.7 1492.9,850.6 1493.4,851.5 1494.0,849.7 1494.5,850.6 1495.1,850.8 1495.6,849.6 1496.2,847.7 1496.7,853.8 1497.3,852.4 1497.8,849.1 1498.4,851.8 1498.9,851.0 1499.5,848.8 1500.0,850.8 1500.6,853.4 1501.1,851.7 1501.7,851.2 1502.2,852.3 1502.8,850.0 1503.3,848.8 1503.9,852.6 1504.4,849.8 1505.0,850.1 1505.5,852.5 1506.1,851.7 1506.6,852.0 1507.2,850.3 1507.7,852.5 1508.3,855.3 1508.8,852.4 1509.4,851.3 1509.9,852.1 1510.5,850.4 1511.0,851.6 1511.6,852.2 1512.1,852.8 1512.7,853.4 1513.2,852.0 1513.8,853.0 1514.3,850.4 1514.9,851.3 1515.4,851.2 1516.0,848.9 1516.5,858.6 1517.1,851.6 1517.6,860.8 1518.2,851.0 1518.7,850.3 1519.3,858.8 1519.8,850.4 1520.4,849.2 1520.9,852.6 1521.5,848.8 1522.0,852.3 1522.6,845.7 1523.1,849.0 1523.7,852.9 1524.2,852.6 1524.8,852.0 1525.3,851.9 1525.9,851.6 1526.4,852.0 1527.0,851.2 1527.5,852.7 1528.1,850.8 1528.6,853.0 1529.2,853.1 1529.7,856.0 1530.3,852.9 1530.8,853.2 1531.4,854.5 1531.9,849.7 1532.5,849.2 1533.0,860.9 1533.6,854.7 1534.1,852.3 1534.7,849.5 1535.2,852.0 1535.8,851.4 1536.3,851.8 1536.9,855.1 1537.4,854.2 1538.0,854.8 1538.5,853.0 1539.1,856.1 1539.6,851.9 1540.2,854.2 1540.7,851.7 1541.3,854.7 1541.8,853.1 1542.4,852.6 1542.9,850.8 1543.5,853.9 1544.0,850.9 1544.6,851.7 1545.1,857.9 1545.7,856.2 1546.2,853.9 1546.8,852.4 1547.3,855.9 1547.9,854.7 1548.4,852.8 1549.0,851.8 1549.5,852.6 1550.1,854.3 1550.6,861.7 1551.2,854.0 1551.7,853.6 1552.3,852.9 1552.8,852.2 1553.4,854.5 1553.9,853.1 1554.5,852.9 1555.0,849.9 1555.6,852.7 1556.1,853.3 1556.7,856.3 1557.2,855.8 1557.8,853.9 1558.3,853.5 1558.9,853.7 1559.4,849.4 1560.0,853.8 1560.5,856.4 1561.1,857.9 1561.6,853.8 1562.2,855.0 1562.7,861.9 1563.3,853.1 1563.8,854.2 1564.4,855.0 1564.9,857.3 1565.5,860.0 1566.0,854.6 1566.6,857.8 1567.1,857.4 1567.7,858.8 1568.2,855.5 1568.8,856.3 1569.3,856.9 1569.9,856.7 1570.4,857.7 1571.0,855.5 1571.5,854.7 1572.1,856.7 1572.6,854.4 1573.2,856.2 1573.7,856.6 1574.3,856.2 1574.8,856.4 1575.4,855.6 1575.9,856.6 1576.5,858.2 1577.0,857.7 1577.6,856.1 1578.1,854.4 1578.7,854.4 1579.2,856.0 1579.8,857.0 1580.3,857.7 1580.9,856.7 1581.4,856.9 1582.0,856.1 1582.5,859.8 1583.1,857.1 1583.6,858.5 1584.2,854.7 1584.7,855.3 1585.3,855.4 1585.8,856.6 1586.4,857.2 1586.9,858.0 1587.5,857.2 1588.0,858.5 1588.6,857.5 1589.1,855.9 1589.7,854.4 1590.2,857.4 1590.8,854.7 1591.3,853.9 1591.9,855.4 1592.4,853.9 1593.0,854.6"/>
<polyline class="k" points="1627.4,858.1 1628.0,858.7 1628.5,857.8 1629.0,856.3 1629.6,854.6 1630.1,860.3 1630.7,859.1 1631.2,857.9 1631.8,860.1 1632.3,862.9 1632.9,861.7 1633.4,853.7 1634.0,857.7 1634.5,859.7 1635.1,856.7 1635.6,856.5 1636.2,855.3 1636.7,856.2 1637.3,857.3 1637.8,858.8 1638.4,857.7 1638.9,860.1 1639.5,856.2 1640.0,858.1 1640.6,857.8 1641.1,855.5 1641.7,861.0 1642.2,857.6 1642.8,856.5 1643.3,857.9 1643.9,857.2 1644.4,856.8 1645.0,859.2 1645.5,856.6 1646.3,851.0 1647.2,856.5 1647.7,854.9 1648.3,856.3 1648.8,856.8 1649.4,857.5 1649.9,858.1 1650.5,854.5 1651.0,854.1 1651.6,857.3 1652.1,856.4 1652.7,854.4 1653.2,856.9 1653.8,854.5 1654.3,854.7 1654.9,853.8 1655.4,855.7 1656.0,857.3 1656.5,855.5 1657.1,856.4 1657.6,855.7 1658.2,859.0 1658.7,857.5 1659.3,854.2 1659.8,853.8 1660.4,853.6 1660.9,853.1 1661.5,852.9 1662.0,851.4 1662.6,852.3 1663.1,850.7 1663.7,848.6 1664.2,848.3 1664.8,846.5 1665.5,844.8 1666.4,848.1 1667.0,850.2 1667.5,852.3 1668.1,856.2 1668.6,859.1 1669.2,857.3 1669.7,856.0 1670.3,856.6 1670.8,854.8 1671.4,856.6 1671.9,857.2 1672.5,859.9 1673.0,858.5 1673.6,854.9 1674.1,858.7 1674.7,856.9 1675.2,858.0 1675.8,857.1 1676.3,855.9 1676.9,859.0 1677.4,857.3 1678.0,857.6 1678.5,855.0 1679.1,855.9 1679.6,855.7 1680.2,858.1 1680.7,856.4 1681.3,855.4 1681.8,857.5 1682.4,856.8 1682.9,865.5 1683.5,854.9 1684.0,856.4 1684.6,855.9 1685.1,853.8 1685.7,852.9 1686.2,856.7 1686.8,857.9 1687.3,856.7 1687.9,862.8 1688.4,854.9 1689.0,855.9 1689.5,858.5 1690.1,856.9 1690.6,854.3 1691.2,857.1 1691.7,855.3 1692.3,858.9 1692.8,854.5 1693.4,854.5 1693.9,854.7 1694.5,855.9 1695.0,856.1 1695.6,856.4 1696.1,856.4 1696.7,855.9 1697.2,856.4 1697.8,855.1 1698.3,856.1 1698.9,856.4 1699.4,856.5 1700.0,855.8 1700.5,856.1 1701.1,855.8 1701.6,859.9 1702.2,855.7 1702.7,856.6 1703.3,856.3 1703.8,856.2 1704.4,857.5 1704.9,855.0 1705.5,857.8 1706.0,856.5 1706.6,844.7 1707.1,856.8 1707.7,855.8 1708.2,857.7 1708.8,855.7 1709.3,855.7 1709.9,857.8 1710.4,855.4 1711.0,855.0 1711.5,856.5 1712.1,859.0 1712.6,858.2 1713.2,858.3 1713.7,857.5 1714.3,857.2 1714.8,857.5 1715.4,857.0 1715.9,855.1 1716.5,856.1 1717.0,854.7 1717.6,854.4 1718.1,856.0 1718.7,856.4 1719.2,857.3 1719.8,856.2 1720.3,854.6 1720.9,854.8 1721.4,857.0 1722.0,855.1 1722.5,857.9 1723.1,857.4 1723.6,859.6 1724.2,856.1 1724.7,856.4 1725.3,857.4 1725.8,855.6 1726.4,858.0 1726.9,857.5 1727.5,860.2 1728.0,858.4 1728.6,857.6 1729.1,857.4 1729.7,855.7 1730.2,858.2 1730.8,863.2 1731.3,855.5 1731.9,856.1 1732.4,858.5 1733.0,856.7 1733.5,859.2 1734.1,858.2 1734.6,859.8 1735.2,863.7 1735.7,857.6 1736.3,855.8 1736.8,854.1 1737.4,858.8 1737.9,858.5 1738.5,857.1 1739.0,858.8 1739.6,855.2 1740.1,858.9 1740.7,858.2 1741.2,862.4 1741.8,856.5 1742.3,859.8 1742.9,863.3 1743.4,857.6 1744.0,856.2 1744.5,857.9 1745.1,857.2 1745.6,856.4 1746.2,856.1 1746.7,857.1 1747.3,858.0 1747.8,859.4 1748.4,858.4 1748.9,857.9 1749.5,856.9 1750.0,857.1 1750.6,855.1 1751.1,854.2 1751.7,854.9 1752.2,856.7 1752.8,855.0 1753.3,855.3 1753.9,855.6 1754.4,855.5 1755.0,856.0 1755.5,857.8 1756.1,851.1 1756.6,852.8 1757.2,853.5 1757.7,853.0 1758.3,851.0 1758.8,854.1 1759.4,850.4 1759.9,850.8 1760.5,850.2 1761.0,849.4 1761.6,849.6 1762.1,849.5 1762.7,848.5 1763.2,847.7 1763.8,845.3 1764.3,844.7 1764.9,848.3 1765.4,847.7 1766.0,850.2 1766.5,850.6 1767.1,854.4 1767.6,852.1 1768.2,850.3 1768.7,852.4 1769.3,854.8 1769.8,856.4 1770.4,856.0 1770.9,855.0 1771.5,857.8 1772.0,854.8 1772.6,855.7 1773.1,854.3 1773.7,856.8 1774.2,857.7 1774.8,856.4 1775.3,855.7 1775.9,854.4 1776.4,855.1 1777.0,856.2 1777.5,857.7 1778.1,856.4 1778.6,856.8 1779.2,858.0 1779.7,857.9 1780.3,847.4 1780.8,861.6 1781.4,856.2 1781.9,856.8 1782.5,856.2 1783.0,858.1 1783.6,855.4 1784.1,857.0 1784.7,858.9 1785.2,856.1 1785.8,854.7 1786.3,862.3 1786.9,858.2 1787.4,858.4 1788.0,857.8 1788.5,856.5 1789.1,857.8 1789.6,854.8 1790.2,856.3 1790.7,856.5 1791.3,855.5 1791.8,856.1 1792.4,856.8 1792.9,857.6 1793.5,857.2 1794.0,859.2 1794.6,857.6 1795.1,857.9 1795.7,856.8 1796.2,857.8 1796.8,858.8 1797.3,858.3 1797.9,860.0 1798.4,859.3 1799.0,858.6 1799.5,859.6 1800.1,859.4 1800.6,858.7 1801.2,858.0 1801.7,859.3 1802.3,858.9 1802.8,859.5 1803.4,859.3 1803.9,858.7 1804.5,857.8 1805.0,861.2 1805.6,859.4 1806.1,861.1 1806.7,859.2 1807.2,857.8 1807.8,857.7 1808.3,859.6 1808.9,859.0 1809.4,861.6 1810.0,860.0 1810.5,860.4 1811.1,862.5 1811.6,859.7 1812.2,859.2 1812.7,863.7 1813.3,860.9 1813.8,860.6 1814.4,859.5 1814.9,861.8 1815.5,861.6 1816.0,861.9 1816.6,860.4 1817.1,861.0 1817.7,860.9 1818.2,858.0 1818.8,859.1 1819.3,861.4 1819.9,860.9 1820.4,859.4 1821.0,861.2 1821.5,867.9 1822.1,861.5 1822.6,857.6 1823.2,862.7 1823.7,861.8 1824.3,862.7 1824.8,860.1 1825.4,861.2 1825.9,859.7 1826.5,862.1 1827.0,860.4 1827.6,862.1 1828.1,860.0 1828.7,857.1 1829.2,861.6 1829.8,861.6 1830.3,863.0 1830.9,862.9 1831.4,861.7 1832.0,861.9 1832.5,863.4 1833.1,860.6 1833.6,861.8 1834.2,859.6 1834.7,862.0 1835.3,861.4 1835.8,860.7 1836.4,859.9 1836.9,861.1 1837.5,861.1 1838.0,860.6 1838.6,861.0 1839.1,858.2 1839.7,858.2 1840.2,858.8 1840.8,861.2 1841.3,857.6 1841.9,859.2 1842.4,860.3 1843.0,857.2 1843.5,855.9 1844.1,856.2 1844.6,859.9 1845.2,857.6 1845.7,860.0 1846.3,865.2 1846.8,859.7 1847.4,856.8 1847.9,859.1 1848.5,859.1 1849.0,860.0 1849.6,863.3 1850.1,860.4 1850.7,860.1 1851.2,860.9 1851.8,861.1 1852.3,858.5 1852.9,868.6 1853.4,860.5 1854.0,865.0 1854.5,858.5 1855.1,860.8 1855.6,862.6 1856.2,859.3 1856.7,858.5 1857.3,861.7 1857.8,858.5 1858.4,860.1 1858.9,860.5 1859.5,861.9 1860.0,861.5 1860.6,862.8 1861.1,859.6 1861.7,856.2 1862.2,857.9 1862.8,862.2 1863.3,859.1 1863.9,862.1 1864.4,858.5 1865.0,858.9 1865.5,858.7 1866.1,860.2 1866.6,861.9 1867.2,861.2 1867.7,860.5 1868.3,860.3 1868.8,858.8 1869.4,859.2 1869.9,859.6 1870.5,860.0 1871.0,861.2 1871.6,863.8 1872.1,861.3 1872.7,861.1 1873.2,859.7 1873.8,860.2 1874.3,862.8 1874.9,859.5 1875.4,860.4 1876.0,861.3 1876.5,860.6 1877.1,863.1 1877.6,863.4 1878.2,862.6 1878.7,859.3 1879.3,860.2 1879.8,858.2 1880.4,861.5 1880.9,860.9 1881.5,859.6 1882.0,861.2 1882.6,859.5 1883.1,860.5 1883.7,859.3 1884.2,861.3 1884.8,857.4 1885.3,858.9 1885.9,865.8 1886.4,861.3 1887.0,860.8 1887.5,862.2 1888.1,863.5 1888.6,868.5 1889.2,863.5 1889.7,863.7 1890.3,862.5 1890.8,860.0 1891.4,861.2 1891.9,860.1 1892.5,862.8 1893.0,862.9 1893.6,861.8 1894.1,860.2 1894.7,865.9 1895.2,858.9 1895.8,860.4 1896.3,860.5 1896.9,863.2 1897.4,864.4 1898.0,862.3 1898.5,862.3 1899.1,863.0 1899.6,862.3 1900.2,861.7 1900.7,855.6 1901.3,864.2 1901.8,861.6 1902.4,862.2 1902.9,862.6 1903.5,863.4 1904.0,862.7 1904.6,862.8 1905.1,860.6 1905.7,864.0 1906.2,861.6 1906.8,858.8 1907.3,860.3 1907.9,857.8 1908.4,862.3 1909.0,861.3 1909.5,863.0 1910.1,860.0 1910.6,863.6 1911.2,868.1 1911.7,863.5 1912.3,863.4 1912.8,861.7 1913.4,861.2 1913.9,861.6 1914.5,864.3 1915.0,863.8 1915.6,866.4 1916.1,862.6 1916.7,861.8 1917.2,862.1 1917.8,861.8 1918.3,861.9 1918.9,859.6 1919.4,861.9 1920.0,862.6 1920.5,863.2 1921.1,867.4 1921.6,863.6 1922.2,865.5 1922.7,865.5 1923.3,865.3 1923.8,863.5 1924.4,863.2 1924.9,864.3 1925.5,863.6 1926.0,853.9 1926.6,867.2 1927.1,864.0 1927.7,862.7 1928.2,862.9 1928.8,865.4 1929.3,864.4 1929.9,863.8 1930.4,863.8 1931.0,862.8 1931.5,863.2 1932.1,861.5 1932.6,872.2 1933.2,862.1 1933.7,863.3 1934.3,861.2 1934.8,861.0 1935.4,862.5 1935.9,863.0 1936.5,862.8 1937.0,871.6 1937.6,864.1 1938.1,864.6 1938.7,862.2 1939.2,863.5 1939.8,862.6 1940.3,863.0 1940.9,865.3 1941.4,862.4 1942.0,868.4 1942.5,874.6 1943.1,865.0 1943.6,864.3 1944.2,865.6 1944.7,863.9 1945.3,867.3 1945.8,866.9 1946.4,865.1 1946.9,870.3 1947.5,863.6 1948.0,863.1 1948.6,863.4 1949.1,870.5 1949.7,866.8 1950.2,863.3 1950.8,866.6 1951.3,865.8 1951.9,866.0 1952.4,866.3 1953.0,864.5 1953.5,863.6 1954.1,863.9 1954.6,866.1 1955.2,864.9 1955.7,866.7 1956.3,866.2 1956.8,864.6 1957.4,866.1 1957.9,867.5 1958.5,863.6 1959.0,864.0 1959.6,866.0 1960.1,866.8 1960.7,864.3 1961.2,863.4 1961.8,865.3 1962.3,866.7 1962.9,864.7 1963.4,863.1 1964.0,865.4 1964.5,865.5 1965.1,863.3 1965.6,863.8 1966.2,864.1 1966.7,865.8 1967.3,866.2 1967.8,865.9 1968.4,863.5 1968.9,868.0 1969.5,865.9 1970.0,867.1 1970.6,867.0 1971.1,865.9 1971.7,866.0 1972.2,862.7 1972.8,863.2 1973.3,864.4 1973.9,864.0 1974.4,865.5 1975.0,864.1 1975.5,867.5 1976.1,868.5 1976.6,862.1 1977.2,863.3 1977.7,866.1 1978.3,865.4 1978.8,864.9 1979.4,865.6 1979.9,866.2 1980.5,864.8 1981.0,866.5 1981.6,867.6 1982.1,867.9 1982.7,869.2 1983.2,867.5 1983.8,869.0 1984.3,863.6 1984.9,865.9 1985.4,865.6 1986.0,876.8 1986.5,868.1 1987.1,867.2 1987.6,865.7 1988.2,865.2 1988.7,866.7 1989.3,866.2 1989.8,868.1 1990.4,867.1 1990.9,867.9 1991.5,867.2 1992.0,865.3 1992.6,865.8 1993.1,867.8 1993.7,866.1 1994.2,864.4 1994.8,866.5 1995.3,864.0 1995.9,868.5 1996.4,865.0 1997.0,863.9 1997.5,866.3 1998.1,866.5 1998.6,865.5 1999.2,864.9 1999.7,861.3 2000.3,880.5 2000.8,865.7 2001.4,864.3 2001.9,863.8 2002.5,865.4 2003.0,864.1 2003.6,865.3 2004.1,868.4 2004.7,865.1 2005.2,866.1 2005.8,866.7 2006.3,865.8 2006.9,864.1 2007.4,868.6 2008.0,866.6 2008.5,872.3 2009.1,871.8 2009.6,867.9 2010.2,865.6 2010.7,862.5 2011.3,865.9 2011.8,864.6 2012.4,866.2 2012.9,866.7 2013.5,870.4 2014.0,868.0 2014.6,864.1 2015.1,866.0 2015.7,863.7 2016.2,864.7 2016.8,864.0 2017.3,866.5 2017.9,868.3 2018.4,866.4 2019.0,866.8 2019.5,868.1 2020.1,865.3 2020.6,866.2 2021.2,866.6 2021.7,866.8 2022.3,867.1 2022.8,869.4 2023.4,867.7 2023.9,869.0 2024.5,868.5 2025.0,869.4 2025.6,864.6 2026.1,864.3 2026.7,868.5 2027.2,867.1 2027.8,865.7 2028.3,863.1 2028.9,862.7 2029.4,864.5 2030.0,866.6 2030.5,856.2 2031.1,867.8 2031.6,866.8 2032.2,866.5 2032.7,863.0 2033.3,865.3 2033.8,863.1 2034.4,863.2 2034.9,863.8 2035.5,863.5 2036.0,860.8 2036.6,863.8 2037.1,858.9 2037.7,859.8 2038.2,857.4 2038.8,855.9 2039.7,854.3 2040.4,857.7 2041.0,859.4 2041.5,863.1 2042.1,866.3 2042.6,866.7 2043.2,869.0 2043.7,868.6 2044.3,865.5 2044.8,866.9 2045.4,866.9 2045.9,867.7 2046.5,865.6 2047.0,864.0 2047.6,870.1 2048.1,868.6 2048.7,867.2 2049.2,865.9 2049.8,866.6 2050.3,868.4 2050.9,867.7 2051.4,866.2 2052.0,866.3 2052.5,867.3 2053.1,865.7 2053.6,867.8 2054.2,865.6 2054.7,867.5 2055.3,869.7 2055.8,866.6 2056.4,867.6 2056.9,867.6 2057.5,873.8 2058.0,868.8 2058.6,864.9 2059.1,863.9 2059.7,866.4 2060.2,866.1 2060.8,868.8 2061.3,871.1 2061.9,867.4 2062.4,868.3 2063.0,862.2 2063.5,865.5 2064.1,867.6 2064.6,865.8 2065.2,867.0 2065.7,865.4 2066.3,867.2 2066.8,867.0 2067.4,866.7 2067.9,866.6 2068.5,867.8 2069.0,866.8 2069.6,867.7 2070.1,865.1 2070.7,865.1 2071.2,864.6 2071.8,865.8 2072.3,868.3 2072.9,866.0 2073.4,867.1 2074.0,868.4 2074.5,868.7 2075.1,866.7 2075.6,866.6 2076.2,869.8 2076.7,871.6 2077.3,864.4 2077.8,867.9 2078.4,868.8 2078.9,872.4 2079.5,869.6 2080.0,869.6 2080.6,869.6 2081.1,868.2 2081.7,868.0 2082.2,869.2 2082.8,867.5 2083.3,868.1 2083.9,867.5 2084.4,866.0 2085.0,864.0 2085.5,873.6 2086.1,868.8 2086.6,869.8 2087.2,868.0 2087.7,865.9 2088.3,867.0 2088.8,868.4 2089.4,867.8 2089.9,868.3 2090.5,869.2 2091.0,866.7 2091.6,866.5 2092.1,871.0 2092.7,867.1 2093.2,869.3 2093.8,866.9 2094.3,866.2 2094.9,868.8 2095.4,870.2 2096.0,862.7 2096.5,867.4 2097.1,868.3 2097.6,866.2 2098.2,865.9"/>
<polyline class="bl" points="1085.1,779.5 1086.4,775.4 1087.7,764.2 1088.7,729.2 1090.3,774.4 1091.6,777.2 1092.9,776.3 1094.2,771.5 1095.5,774.9 1096.8,772.8 1098.1,770.9 1099.4,773.4 1100.7,772.8 1102.0,773.9 1103.3,773.8 1104.6,771.4 1105.9,774.8 1107.2,773.1 1108.5,772.0 1109.8,769.0 1111.1,775.6 1112.4,773.7 1114.0,769.8 1115.0,778.3 1116.3,775.8 1117.6,773.0 1118.9,774.3 1120.2,771.1 1121.5,777.9 1122.8,775.4 1124.1,775.4 1125.4,779.2 1126.7,775.0 1128.0,778.6 1129.3,774.5 1130.6,777.8 1131.9,776.8 1133.2,780.2 1134.5,780.1 1135.8,777.4 1137.1,780.5 1138.4,778.4 1139.7,779.8 1141.0,776.6 1142.3,774.6 1143.6,774.1 1144.9,779.8 1146.2,783.7 1147.5,780.3 1148.8,778.7 1150.1,782.6 1151.4,770.8 1151.9,768.2 1152.7,774.8 1154.0,780.6 1155.3,781.6 1156.6,780.4 1157.9,784.7 1159.2,783.9 1160.5,786.3 1161.8,783.8 1163.1,781.6 1164.4,785.8 1165.7,788.9 1167.0,785.1 1168.3,784.6 1169.6,785.8 1170.9,786.3 1172.2,787.3 1173.5,784.9 1174.8,790.4 1176.1,787.6 1177.4,789.1 1178.7,790.0 1180.0,789.2 1181.3,786.0 1182.6,788.5 1183.9,789.6 1185.2,788.5 1186.5,786.6 1187.8,792.6 1189.1,792.6 1190.4,791.1 1191.7,789.0 1193.0,792.1 1194.3,792.0 1195.6,792.7 1196.9,795.7 1198.2,797.2 1199.5,796.9 1200.8,800.5 1202.1,789.5 1202.8,781.8 1203.4,787.1 1204.7,793.2 1206.0,794.0 1207.3,792.9 1208.3,777.9 1209.9,791.2 1211.2,791.4 1212.5,791.1 1213.8,793.4 1215.1,793.6 1216.4,790.8 1217.7,795.1 1219.0,794.2 1220.4,792.3 1221.6,796.4 1222.9,799.9 1224.2,797.1 1225.5,797.3 1226.8,799.0 1228.1,800.8 1229.4,799.6 1230.7,796.5 1232.0,798.2 1233.3,797.8 1234.6,796.6 1235.9,795.0 1237.2,797.7 1238.5,795.6 1239.8,795.3 1241.1,796.2 1242.4,792.5 1243.4,783.1 1245.0,796.0 1246.3,795.8 1247.6,764.1 1248.4,384.5 1248.9,650.3 1250.2,795.1 1251.5,795.8 1252.8,796.3 1254.1,797.9 1255.4,796.1 1256.7,794.3 1258.0,796.1 1259.3,794.5 1260.6,794.9 1261.9,798.3 1263.2,797.3 1264.5,797.8 1265.8,796.6 1267.1,796.3 1268.4,796.5 1269.7,798.1 1271.0,798.7 1272.3,798.3 1273.6,798.6 1274.9,798.2 1276.2,800.7 1277.5,798.9 1278.8,800.3 1280.1,801.2 1281.4,802.2 1282.7,805.5 1284.0,799.9 1285.3,801.8 1286.6,802.5 1287.9,802.6 1289.2,801.6 1290.5,803.3 1291.8,804.8 1293.1,801.4 1294.4,798.6 1295.4,783.7 1297.0,802.9 1298.3,804.6 1299.6,801.0 1300.9,803.0 1302.2,803.7 1303.5,797.8 1304.2,790.1 1304.8,797.4 1306.1,804.9 1307.4,805.6 1308.7,806.7 1310.0,806.3 1311.3,804.8 1312.6,806.8 1313.9,806.6 1315.2,807.4 1316.5,807.0 1317.8,808.1 1319.1,808.4 1320.4,807.6 1321.7,807.8 1323.0,809.0 1324.3,808.8 1325.6,812.4 1326.9,810.0 1328.2,808.9 1329.5,810.2 1330.8,808.8 1332.1,807.6 1333.4,810.4 1334.7,807.4 1336.0,809.4 1337.3,809.4 1338.6,808.4 1339.9,806.9 1341.2,809.4 1342.5,808.0 1343.8,807.9 1345.1,808.6 1346.4,809.5 1347.7,809.9 1349.0,810.9 1350.3,810.5 1351.6,810.7 1352.9,809.9 1354.2,810.6 1355.5,810.9 1356.7,805.0 1358.1,811.1 1359.4,810.5 1360.7,810.4 1362.0,810.8 1363.3,810.3 1364.6,810.6 1365.9,810.3 1367.2,811.6 1368.5,810.8 1369.8,810.8 1371.1,810.1 1372.4,810.0 1373.9,798.9 1375.0,807.5 1376.3,810.4 1377.6,811.4 1378.9,811.5 1380.2,811.7 1381.5,813.0 1382.8,812.6 1384.1,812.8 1385.4,813.6 1386.7,815.4 1388.0,812.6 1389.3,812.2 1390.6,812.8 1391.9,812.4 1393.2,811.3 1394.5,813.4 1395.8,811.3 1397.1,813.2 1398.4,812.1 1399.7,813.8 1401.0,812.5 1402.3,812.0 1403.6,812.3 1404.9,813.5 1406.2,813.7 1407.5,813.7 1408.8,814.7 1410.1,814.8 1411.4,815.7 1412.7,815.1 1414.0,815.0 1415.3,815.4 1416.6,808.1 1417.3,801.8 1417.9,805.5 1419.2,813.2 1420.5,814.9 1421.8,815.8 1423.1,815.0 1424.4,814.3 1425.7,814.9 1427.0,814.6 1428.3,816.0 1429.6,816.3 1430.9,817.6 1432.2,817.5 1433.5,817.2 1434.8,818.2 1436.1,818.5 1437.4,817.7 1438.7,817.7 1440.0,816.7 1441.3,818.7 1442.6,817.8 1443.9,816.6 1445.2,817.1 1446.5,816.0 1448.0,783.0 1449.1,810.5 1450.4,818.0 1451.7,817.1 1453.0,817.3 1454.3,817.9 1455.6,817.6 1456.9,817.4 1458.2,818.2 1459.5,816.7 1460.8,816.8 1462.1,817.9 1463.4,818.8 1464.7,818.1 1466.0,819.1 1467.3,817.8 1468.6,818.4 1469.9,818.3 1471.2,817.9 1472.5,820.2 1473.8,821.7 1475.1,822.1 1476.4,821.6 1477.7,821.6 1479.0,819.2 1480.3,818.3 1481.6,819.0 1482.9,819.4 1484.2,821.6 1485.5,821.3 1486.8,818.1 1488.1,820.2 1489.4,823.5 1490.7,822.0 1492.0,821.6 1493.3,821.7 1494.6,821.8 1495.9,821.1 1497.2,820.4 1498.5,819.9 1499.8,820.8 1501.1,820.5 1502.4,820.0 1503.7,821.2 1505.0,821.0 1506.3,820.6 1507.6,820.8 1508.9,821.2 1510.2,820.9 1511.5,821.0 1512.8,822.1 1514.1,822.6 1515.4,824.6 1516.7,823.5 1518.0,823.7 1519.3,822.0 1520.6,823.8 1521.9,822.4 1523.2,822.2 1524.5,823.0 1525.8,822.9 1527.1,823.0 1528.4,823.1 1529.7,823.4 1531.0,824.1 1532.3,823.0 1533.6,827.1 1534.9,834.1 1536.2,840.1 1537.5,835.8 1538.8,833.1 1540.1,830.0 1541.4,829.2 1542.7,830.4 1544.0,830.6 1545.3,830.4 1546.6,831.0 1547.9,830.9 1549.2,830.2 1550.5,827.4 1551.8,830.2 1553.1,829.8 1554.4,833.2 1555.7,838.7 1557.0,841.5 1558.3,838.6 1559.6,838.1 1560.9,835.8 1562.2,834.9 1563.5,834.6 1564.8,833.0"/>
<polyline class="bl" points="1643.2,841.8 1644.5,841.8 1645.8,836.6 1646.4,835.3 1647.1,837.2 1648.4,842.5 1649.7,842.4 1651.0,842.4 1652.3,841.6 1653.6,841.7 1654.9,840.9 1656.2,842.2 1657.5,840.8 1658.8,841.2 1660.1,841.5 1661.4,841.0 1662.7,841.3 1664.0,841.1 1665.3,841.6 1666.6,841.5 1667.9,842.2 1669.2,841.7 1670.5,841.9 1671.8,842.0 1673.1,841.1 1674.4,841.9 1675.7,840.5 1677.0,841.4 1678.3,842.3 1679.6,842.1 1680.9,843.0 1682.2,842.3 1683.5,842.3 1684.8,842.7 1686.1,842.8 1687.4,842.6 1688.7,843.2 1690.0,842.7 1691.3,842.9 1692.6,843.0 1693.9,842.9 1695.2,843.3 1696.5,843.1 1697.8,842.9 1699.1,842.8 1700.4,843.2 1701.7,843.8 1703.0,843.4 1704.3,841.5 1705.6,843.1 1706.9,841.9 1708.2,842.0 1709.5,842.8 1710.8,842.0 1712.1,842.9 1713.4,842.3 1714.7,841.6 1716.0,841.5 1717.3,841.0 1718.6,840.4 1719.9,842.1 1721.2,843.0 1722.5,842.4 1723.8,842.4 1725.1,842.3 1726.4,842.8 1727.7,842.8 1729.0,841.9 1730.3,843.9 1731.6,842.8 1732.9,843.3 1734.2,843.9 1735.5,843.7 1736.8,843.9 1738.1,844.3 1739.4,843.5 1740.7,844.7 1742.0,844.3 1743.3,844.1 1744.6,844.9 1745.9,844.4 1747.2,843.4 1748.5,843.7 1749.8,843.7 1751.1,844.0 1752.4,843.8 1753.7,843.7 1755.0,840.3 1756.3,842.5 1757.6,843.6 1758.9,843.7 1760.2,842.9 1761.5,842.3 1762.8,828.3 1763.9,787.7 1765.4,837.8 1766.7,843.8 1768.0,845.1 1769.3,844.0 1770.6,844.3 1771.9,845.0 1773.2,844.8 1774.5,844.7 1775.8,844.8 1777.1,845.2 1778.4,845.7 1779.7,844.5 1781.0,844.8 1782.3,845.8 1783.6,846.4 1784.9,844.3 1786.2,845.0 1787.5,845.5 1788.8,845.0 1790.1,845.1 1791.4,846.1 1792.7,845.5 1794.0,845.5 1795.3,845.4 1796.6,845.0 1797.9,842.9 1799.2,846.4 1800.5,847.0 1801.8,846.7 1803.1,846.3 1804.4,846.2 1805.7,845.8 1807.0,845.7 1808.3,845.9 1809.6,846.7 1810.9,846.4 1812.2,846.1 1813.5,846.3 1814.8,847.3 1816.1,846.1 1817.4,847.0 1818.7,847.0 1820.0,846.6 1821.3,847.1 1822.6,847.3 1823.9,847.1 1825.2,846.6 1826.5,847.1 1827.8,847.3 1829.1,846.8 1830.4,846.4 1831.7,845.9 1833.0,846.1 1834.3,846.5 1835.6,845.5 1836.9,846.5 1838.2,846.5 1839.5,846.5 1840.8,846.0 1842.1,846.4 1843.4,846.5 1844.7,847.1 1846.0,846.1 1847.3,847.0 1848.6,847.7 1849.9,847.1 1851.2,847.1 1852.5,847.8 1853.8,848.2 1855.2,843.5 1856.4,846.7 1857.7,847.7 1859.0,848.5 1860.3,848.6 1861.6,848.1 1862.9,848.7 1864.2,849.0 1865.5,848.4 1866.8,848.8 1868.1,848.9 1869.4,848.7 1870.7,848.4 1872.0,849.1 1873.3,848.4 1874.6,848.1 1875.9,847.5 1877.2,847.9 1878.5,848.0 1879.8,847.5 1881.1,847.3 1882.4,847.7 1883.7,846.8 1885.1,840.4 1886.3,845.8 1887.6,848.7 1888.9,848.9 1890.2,847.3 1891.5,848.5 1892.8,847.5 1894.1,847.8 1895.4,848.4 1896.7,846.6 1898.0,847.8 1899.3,846.4 1900.6,846.0 1901.9,846.6 1903.2,847.0 1904.5,847.4 1905.8,847.1 1907.1,846.7 1908.4,846.0 1909.7,846.4 1911.0,845.3 1912.3,846.5 1913.6,846.4 1914.9,847.3 1916.2,847.9 1917.5,847.2 1918.8,848.2 1920.1,848.0 1921.4,848.5 1922.7,849.4 1924.0,849.2 1925.3,849.0 1926.6,848.6 1927.9,848.7 1929.2,848.3 1930.5,848.6 1931.8,848.9 1933.1,846.7 1934.4,845.3 1935.7,847.9 1937.0,847.7 1938.3,847.4 1939.6,848.0 1940.9,848.6 1942.2,847.8 1943.5,847.7 1944.8,848.6 1946.1,848.4 1947.4,847.9 1948.5,844.6 1950.0,848.4 1951.3,849.0 1952.6,849.2 1953.9,848.8 1955.2,849.7 1956.5,849.8 1957.8,849.2 1959.1,849.7 1960.4,850.4 1961.7,849.2 1963.0,849.4 1964.3,850.3 1965.6,850.7 1966.9,851.0 1968.2,851.0 1969.5,850.4 1970.8,851.8 1972.1,852.0 1973.4,850.9 1974.7,851.5 1976.0,851.1 1977.3,851.6 1978.6,851.5 1979.9,852.5 1981.2,851.3 1982.5,851.7 1983.8,851.7 1985.1,851.2 1986.4,851.6 1987.7,851.8 1989.0,852.6 1990.3,851.4 1991.6,852.1 1992.9,852.5 1994.2,852.6 1995.5,853.2 1996.8,852.5 1998.1,852.3 1999.4,853.2 2000.7,853.4 2002.0,852.4 2003.3,853.0 2004.6,852.8 2005.9,852.5 2007.2,852.3 2008.5,853.4 2009.8,853.3 2011.1,852.4 2012.4,852.2 2013.7,852.7 2015.0,851.6 2016.3,851.4 2017.6,852.6 2018.9,852.9 2020.2,853.1 2021.5,852.6 2022.8,852.9 2024.1,849.7 2025.4,852.5 2026.7,853.1 2028.0,852.6 2029.3,851.5 2030.6,853.1 2031.9,853.1 2033.2,852.9 2034.5,853.5 2035.8,853.4 2037.1,852.5 2038.4,852.3 2039.7,852.3 2041.0,853.1 2042.3,852.9 2043.6,852.9 2044.9,851.8 2046.2,852.7 2047.5,849.6 2048.2,848.3 2048.8,850.9 2050.1,852.7 2051.4,853.3 2052.7,853.1 2054.0,853.4 2055.3,853.0 2056.6,853.0 2057.9,853.4 2059.2,852.4 2060.5,852.8 2061.8,853.5 2063.1,853.6 2064.4,854.3 2065.7,853.7 2067.0,853.6 2068.3,853.7 2069.6,852.6 2070.9,853.9 2072.2,853.0 2073.5,853.2 2074.8,852.4 2076.1,852.3 2077.4,853.0 2078.7,853.3 2080.0,853.7 2081.3,853.5 2082.6,854.8 2083.9,854.2 2085.2,853.7 2086.5,854.3 2087.8,854.6 2089.1,854.2 2090.4,854.1 2091.7,854.3 2093.0,854.9 2094.3,855.1 2095.6,854.4 2096.9,855.4 2098.2,854.5"/>
</g>
<g>
<line x1="1088.9" y1="671.1" x2="1088.9" y2="719.5" stroke="#ff8c00" stroke-width="2.35"/>
<text transform="translate(1097.3,663.9) rotate(-90)" class="t">[Fe II]</text>
<line x1="1152.2" y1="720.4" x2="1152.2" y2="767.9" stroke="#ff8c00" stroke-width="2.35"/>
<text transform="translate(1161.4,713.8) rotate(-90)" class="t">Br10</text>
<line x1="1207.9" y1="732.5" x2="1207.9" y2="764" stroke="#ff8c00" stroke-width="2.35"/>
<text transform="translate(1214,725.3) rotate(-90)" class="t">[Fe II]</text>
<line x1="1220.5" y1="671.1" x2="1220.5" y2="719.5" stroke="#6495ed" stroke-width="2.35"/>
<text transform="translate(1227.5,663.9) rotate(-90)" class="t">H<tspan class="sub" dy="3.4">2</tspan><tspan dy="-3.4">1-0S(5)</tspan></text>
<line x1="1304.5" y1="622.1" x2="1304.5" y2="661.4" stroke="#6495ed" stroke-width="2.35"/>
<text transform="translate(1313.2,620.3) rotate(-90)" class="t">H<tspan class="sub" dy="3.4">2</tspan><tspan dy="-3.4">1-0S(3)</tspan></text>
<line x1="1295.4" y1="732.5" x2="1295.4" y2="780" stroke="#ff8c00" stroke-width="2.35"/>
<text transform="translate(1304.2,724.4) rotate(-90)" class="t">Br<tspan class="it">δ</tspan></text>
<line x1="1308.1" y1="732.5" x2="1308.1" y2="780" stroke="#ff0000" stroke-width="2.35"/>
<text transform="translate(1317,725.3) rotate(-90)" class="t">[Si VI]</text>
<line x1="1356.8" y1="732.5" x2="1356.8" y2="780" stroke="#6495ed" stroke-width="2.35"/>
<text transform="translate(1365.6,724.4) rotate(-90)" class="t">H<tspan class="sub" dy="3.4">2</tspan><tspan dy="-3.4">1-0S(2)</tspan></text>
<line x1="1373.6" y1="732.5" x2="1373.6" y2="780" stroke="#ff8c00" stroke-width="2.35"/>
<text transform="translate(1382,724.4) rotate(-90)" class="t">He I</text>
<line x1="1417.1" y1="732.5" x2="1417.1" y2="780" stroke="#6495ed" stroke-width="2.35"/>
<text transform="translate(1425.9,724.4) rotate(-90)" class="t">H<tspan class="sub" dy="3.4">2</tspan><tspan dy="-3.4">1-0S(1)</tspan></text>
<line x1="1448" y1="732.5" x2="1448" y2="780" stroke="#ff8c00" stroke-width="2.35"/>
<text transform="translate(1455.6,724.4) rotate(-90)" class="t">Br<tspan class="it">γ</tspan></text>
<line x1="1487.3" y1="732.5" x2="1487.3" y2="780" stroke="#6495ed" stroke-width="2.35"/>
<text transform="translate(1496.1,724.4) rotate(-90)" class="t">H<tspan class="sub" dy="3.4">2</tspan><tspan dy="-3.4">1-0S(0)</tspan></text>
<line x1="1646" y1="780.6" x2="1646" y2="829.2" stroke="#6495ed" stroke-width="2.35"/>
<text transform="translate(1654.2,773.4) rotate(-90)" class="t">H<tspan class="sub" dy="3.4">2</tspan><tspan dy="-3.4">1-0Q(5)</tspan></text>
<line x1="1666" y1="780.6" x2="1666" y2="829.2" stroke="#ff0000" stroke-width="2.35"/>
<text transform="translate(1675.2,773.4) rotate(-90)" class="t">[Si VII]</text>
<line x1="1755.2" y1="780.6" x2="1755.2" y2="829.2" stroke="#ff8c00" stroke-width="2.35"/>
<text transform="translate(1764.8,774.3) rotate(-90)" class="t">Pf13</text>
<line x1="1763.9" y1="720.4" x2="1763.9" y2="767.9" stroke="#ff8c00" stroke-width="2.35"/>
<text transform="translate(1772.2,712.9) rotate(-90)" class="t">Br<tspan class="it">β</tspan></text>
<line x1="1885.1" y1="780.6" x2="1885.1" y2="829.2" stroke="#6495ed" stroke-width="2.35"/>
<text transform="translate(1893.3,773.4) rotate(-90)" class="t">H<tspan class="sub" dy="3.4">2</tspan><tspan dy="-3.4">1-0O(3)</tspan></text>
<line x1="2024" y1="780.6" x2="2024" y2="829.2" stroke="#6495ed" stroke-width="2.35"/>
<text transform="translate(2032.2,773.4) rotate(-90)" class="t">H<tspan class="sub" dy="3.4">2</tspan><tspan dy="-3.4">1-0O(4)</tspan></text>
<line x1="2048" y1="780.6" x2="2048" y2="829.2" stroke="#ff8c00" stroke-width="2.35"/>
<text transform="translate(2055.8,772.2) rotate(-90)" class="t">Pf<tspan class="it">ε</tspan></text>
<line x1="2039.2" y1="646.3" x2="2039.2" y2="694.7" stroke="#ff0000" stroke-width="2.35"/>
<text transform="translate(2048.1,639.1) rotate(-90)" class="t">[Mg VIII]</text>
<line x1="1264.6" y1="561.8" x2="1256.1" y2="593.5" stroke="#ff8c00" stroke-width="2.35"/>
<text transform="translate(1278.3,552.9) rotate(-90)" class="t">Pa<tspan class="it">α</tspan></text>
<line x1="1197.7" y1="764" x2="1217.7" y2="764" stroke="#ff8c00" stroke-width="2.35"/>
<text x="1491.9" y="799.8" class="t11" style="fill:#008000">CO bands</text>
</g>
<!-- panel 3 spectra -->
<g clip-path="url(#ax2)">
<polyline class="k" points="1078.0,1257.2 1078.5,1256.9 1079.1,1278.2 1079.6,1256.3 1080.2,1253.7 1080.7,1251.9 1081.3,1250.1 1081.8,1253.4 1082.4,1255.5 1082.9,1255.0 1083.5,1268.3 1084.0,1265.7 1084.6,1257.8 1085.1,1257.5 1085.7,1261.6 1086.2,1260.2 1086.8,1262.3 1087.3,1251.2 1087.9,1251.3 1088.4,1258.2 1089.0,1256.9 1089.5,1253.8 1090.1,1254.1 1090.6,1253.7 1091.2,1262.2 1091.7,1255.0 1092.3,1256.1 1092.8,1258.6 1093.4,1254.9 1093.9,1250.3 1094.5,1256.7 1095.0,1261.5 1095.6,1246.7 1096.1,1253.8 1096.7,1256.3 1097.2,1259.5 1097.8,1260.3 1098.3,1258.8 1098.9,1257.9 1099.4,1259.2 1100.0,1254.3 1100.5,1255.9 1101.1,1255.2 1101.6,1264.9 1102.2,1256.7 1102.7,1274.9 1103.3,1261.5 1103.8,1254.2 1104.4,1257.5 1104.9,1258.7 1105.5,1253.1 1106.0,1254.2 1106.6,1253.5 1107.1,1251.0 1107.7,1250.2 1108.2,1258.7 1108.8,1257.6 1109.3,1257.3 1109.9,1261.3 1110.4,1256.4 1111.0,1264.5 1111.5,1254.4 1112.1,1254.4 1112.6,1258.7 1113.2,1260.5 1113.7,1263.4 1114.3,1256.4 1114.8,1256.1 1115.4,1256.0 1115.9,1262.0 1116.5,1254.5 1117.0,1256.9 1117.6,1255.7 1118.1,1253.7 1118.7,1257.3 1119.2,1260.5 1119.8,1256.2 1120.3,1255.9 1120.9,1258.9 1121.4,1260.0 1122.0,1257.9 1122.5,1256.3 1123.1,1256.1 1123.6,1255.5 1124.2,1246.0 1124.7,1256.5 1125.3,1255.5 1125.8,1248.7 1126.4,1257.8 1126.9,1253.8 1127.5,1258.5 1128.0,1257.0 1128.6,1259.3 1129.1,1249.2 1129.7,1239.2 1130.2,1248.8 1130.8,1262.0 1131.3,1257.3 1131.9,1255.8 1132.4,1258.3 1133.0,1255.1 1133.5,1254.3 1134.1,1255.9 1134.6,1255.5 1135.2,1254.1 1135.7,1252.0 1136.3,1255.3 1136.8,1255.0 1137.4,1252.9 1137.9,1252.5 1138.5,1254.0 1139.0,1256.4 1139.6,1255.5 1140.1,1258.3 1140.7,1257.6 1141.2,1252.3 1141.8,1256.2 1142.3,1252.2 1142.9,1250.7 1143.4,1261.6 1144.0,1258.4 1144.5,1263.9 1145.1,1252.4 1145.6,1259.3 1146.2,1256.1 1146.7,1258.5 1147.3,1252.8 1147.8,1261.3 1148.4,1252.1 1148.9,1259.2 1149.5,1252.6 1150.0,1249.5 1150.6,1258.6 1151.1,1260.8 1151.7,1253.9 1152.2,1257.2 1152.8,1262.0 1153.3,1260.9 1153.9,1254.5 1154.4,1251.5 1155.0,1259.7 1155.5,1253.4 1156.1,1259.1 1156.6,1256.5 1157.2,1250.0 1157.7,1264.5 1158.3,1251.3 1158.8,1254.5 1159.4,1251.5 1159.9,1255.0 1160.5,1250.5 1161.0,1258.1 1161.6,1247.7 1162.1,1250.7 1162.7,1253.3 1163.2,1252.7 1163.8,1250.3 1164.3,1250.5 1164.9,1247.8 1165.4,1251.2 1166.0,1251.0 1166.5,1249.3 1167.1,1251.5 1167.6,1246.6 1168.2,1248.3 1168.7,1244.5 1169.3,1244.4 1169.8,1242.9 1170.4,1249.0 1170.9,1242.5 1171.5,1241.7 1172.0,1240.0 1172.6,1251.0 1173.1,1252.7 1173.7,1243.5 1174.2,1239.8 1174.8,1244.1 1175.3,1246.4 1175.9,1246.8 1176.4,1249.0 1177.0,1246.1 1177.5,1249.1 1178.1,1251.6 1178.6,1252.5 1179.2,1253.9 1179.7,1251.6 1180.3,1254.1 1180.8,1256.6 1181.4,1250.8 1181.9,1255.9 1182.5,1253.6 1183.0,1259.1 1183.6,1253.9 1184.1,1260.1 1184.7,1257.2 1185.2,1262.0 1185.8,1255.6 1186.3,1258.7 1186.9,1261.9 1187.4,1255.3 1188.0,1255.9 1188.5,1258.4 1189.1,1259.4 1189.6,1259.8 1190.2,1259.0 1190.7,1262.6 1191.3,1263.1 1191.8,1266.1 1192.4,1267.4 1192.9,1264.3 1193.5,1262.3 1194.0,1256.1 1194.6,1262.7 1195.1,1262.3 1195.7,1263.7 1196.2,1259.2 1196.8,1267.3 1197.3,1270.0 1197.9,1267.2 1198.4,1267.2 1199.0,1266.4 1199.5,1262.2 1200.1,1260.3 1200.6,1262.6 1201.2,1266.3 1201.7,1258.8 1202.3,1266.6 1202.8,1269.8 1203.4,1269.4 1203.9,1271.7 1204.5,1262.7 1205.0,1263.1 1205.6,1270.0 1206.1,1266.7 1206.7,1269.1 1207.2,1266.3 1207.8,1267.4 1208.3,1262.5 1208.9,1263.1 1209.4,1267.8 1210.0,1266.2 1210.5,1265.8 1211.1,1269.0 1211.6,1266.4 1212.2,1275.8 1212.7,1266.6 1213.3,1267.0 1213.8,1272.5 1214.4,1265.7 1214.9,1271.7 1215.5,1275.0 1216.0,1272.2 1216.6,1273.0 1217.1,1267.0 1217.7,1269.4 1218.2,1263.4 1218.8,1271.4 1219.3,1270.1 1219.9,1265.2 1220.4,1261.7 1221.0,1269.5 1221.5,1269.6 1222.1,1275.6 1222.6,1274.4 1223.2,1265.3 1223.7,1271.7 1224.3,1269.9 1224.8,1269.3 1225.4,1265.8 1225.9,1269.5 1226.5,1273.5 1227.0,1272.0 1227.6,1275.9 1228.1,1273.0 1228.7,1276.8 1229.2,1274.5 1229.8,1274.1 1230.3,1272.5 1230.9,1277.5 1231.4,1275.8 1232.0,1271.6 1232.5,1274.3 1233.1,1271.0 1233.6,1271.4 1234.2,1275.9 1234.7,1271.7 1235.3,1271.6 1235.8,1268.7 1236.4,1270.0 1236.9,1270.3 1237.5,1267.0 1238.0,1266.3 1238.6,1269.4 1239.1,1273.0 1239.7,1266.0 1240.2,1271.1 1240.8,1269.9 1241.3,1274.7 1241.9,1275.3 1242.4,1269.5 1243.0,1268.2 1243.5,1273.1 1244.1,1273.9 1244.6,1275.1 1245.2,1272.7 1245.7,1270.8 1246.3,1275.9 1246.8,1273.2 1247.4,1274.3 1247.9,1273.7 1248.5,1278.1 1249.0,1274.7 1249.6,1267.9 1250.1,1266.7 1250.7,1267.2 1251.2,1273.7 1251.8,1271.2 1252.3,1265.9 1252.9,1259.1 1253.4,1262.4 1254.0,1269.6 1254.5,1269.1 1255.1,1269.6 1255.6,1267.7 1256.2,1266.9 1256.7,1269.0 1257.3,1269.3 1257.8,1264.2 1258.4,1267.8 1258.9,1269.6 1259.5,1269.4 1260.0,1271.1 1260.6,1276.8 1261.1,1267.2 1261.7,1280.3 1262.2,1268.5 1262.8,1270.8 1263.3,1275.2 1263.9,1273.2 1264.4,1271.9 1265.0,1270.2 1265.5,1270.0 1266.1,1272.2 1266.6,1269.0 1267.2,1270.4 1267.7,1262.1 1268.3,1274.0 1268.8,1274.6 1269.4,1276.0 1269.9,1270.5 1270.5,1267.8 1271.0,1265.0 1271.6,1268.1 1272.1,1263.3 1272.7,1269.1 1273.2,1272.3 1273.8,1276.5 1274.3,1266.3 1274.9,1271.7 1275.4,1285.6 1276.0,1269.9 1276.5,1267.7 1277.1,1263.9 1277.6,1272.9 1278.2,1271.5 1278.7,1271.4 1279.3,1265.2 1279.8,1273.1 1280.4,1274.0 1280.9,1273.7 1281.5,1271.1 1282.0,1271.2 1282.6,1272.3 1283.1,1266.7 1283.7,1273.8 1284.2,1273.0 1284.8,1272.0 1285.3,1273.6 1285.9,1268.3 1286.4,1270.5 1287.0,1269.8 1287.5,1267.6 1288.1,1271.3 1288.6,1276.5 1289.2,1275.5 1289.7,1278.3 1290.3,1271.9 1290.8,1269.6 1291.4,1273.8 1291.9,1272.0 1292.5,1277.0 1293.0,1266.8 1293.6,1272.0 1294.1,1274.3 1294.7,1270.8 1295.2,1264.2 1295.8,1276.8 1296.3,1275.0 1296.9,1279.6 1297.4,1275.9 1298.0,1274.8 1298.5,1274.4 1299.1,1276.9 1299.6,1275.4 1300.2,1269.7 1300.7,1269.6 1301.3,1275.7 1301.8,1274.8 1302.4,1277.4 1302.9,1272.2 1303.5,1276.8 1304.0,1274.9 1304.6,1274.8 1305.1,1276.4 1305.7,1277.3 1306.2,1271.9 1306.8,1276.9 1307.3,1269.3 1307.9,1273.3 1308.4,1273.5 1309.0,1277.3 1309.5,1276.1 1310.1,1279.1 1310.6,1279.5 1311.2,1275.9 1311.7,1278.1 1312.3,1277.2 1312.8,1271.4 1313.4,1273.0 1313.9,1272.1 1314.5,1273.0 1315.0,1274.8 1315.6,1276.4 1316.1,1279.2 1316.7,1275.9 1317.2,1273.8 1317.8,1272.3 1318.3,1274.4 1318.9,1273.3 1319.4,1282.0 1320.0,1278.1 1320.5,1270.0 1321.1,1274.9 1321.6,1282.3 1322.2,1272.0 1322.7,1276.5 1323.3,1269.6 1323.8,1272.3 1324.4,1274.7 1324.9,1270.1 1325.5,1269.1 1326.0,1276.2 1326.6,1274.7 1327.1,1279.1 1327.7,1278.5 1328.2,1274.3 1328.8,1280.3 1329.3,1283.7 1329.9,1282.2 1330.4,1281.5 1331.0,1281.1 1331.5,1278.6 1332.1,1284.1 1332.6,1280.4 1333.2,1274.9 1333.7,1281.6 1334.3,1273.1 1334.8,1280.4 1335.4,1281.3 1335.9,1276.1 1336.5,1279.7 1337.0,1285.2 1337.6,1285.1 1338.1,1275.9 1338.7,1281.3 1339.2,1282.2 1339.8,1287.0 1340.3,1279.7 1340.9,1288.5 1341.4,1280.7 1342.0,1282.1 1342.5,1288.0 1343.1,1285.4 1343.6,1282.8 1344.2,1278.0 1344.7,1280.4 1345.3,1276.4 1345.8,1282.5 1346.4,1275.6 1346.9,1280.0 1347.5,1275.7 1348.0,1275.3 1348.6,1266.5 1349.1,1288.8 1349.7,1275.2 1350.2,1275.0 1350.8,1274.7 1351.3,1272.3 1351.9,1271.3 1352.7,1269.9 1353.5,1271.7 1354.1,1272.5 1354.6,1273.9 1355.2,1278.2 1355.7,1272.8 1356.3,1276.3 1356.8,1282.2 1357.4,1281.8 1357.9,1281.3 1358.5,1285.1 1359.0,1282.2 1359.6,1270.8 1360.1,1280.5 1360.7,1276.9 1361.2,1280.7 1361.8,1280.3 1362.3,1281.0 1362.9,1288.9 1363.4,1283.5 1364.0,1283.2 1364.5,1281.9 1365.1,1288.4 1365.6,1280.4 1366.2,1272.4 1366.7,1279.4 1367.3,1277.9 1367.8,1281.6 1368.4,1291.2 1368.9,1281.7 1369.5,1279.9 1370.0,1281.5 1370.6,1283.6 1371.1,1286.8 1371.7,1286.7 1372.2,1280.7 1372.8,1283.8 1373.3,1283.2 1373.9,1275.4 1374.4,1287.5 1375.0,1281.1 1375.5,1282.2 1376.1,1277.7 1376.6,1281.3 1377.2,1281.0 1377.7,1277.7 1378.3,1283.4 1378.8,1281.9 1379.4,1283.4 1379.9,1279.0 1380.5,1280.8 1381.0,1282.8 1381.6,1279.4 1382.1,1275.5 1382.7,1282.4 1383.2,1280.1 1383.8,1282.1 1384.3,1276.9 1384.9,1296.4 1385.4,1281.0 1386.0,1278.9 1386.5,1290.1 1387.1,1273.6 1387.6,1276.9 1388.2,1277.3 1388.7,1276.3 1389.3,1278.1 1389.8,1278.5 1390.4,1259.4 1390.9,1276.4 1391.5,1276.1 1392.0,1273.3 1392.6,1273.6 1393.2,1272.1 1393.7,1272.2 1394.2,1273.5 1394.8,1277.6 1395.3,1274.4 1395.9,1275.6 1396.4,1283.9 1397.0,1267.8 1397.5,1279.9 1398.1,1270.3 1398.6,1269.8 1399.2,1273.9 1399.7,1272.5 1400.3,1274.5 1400.8,1283.6 1401.4,1277.7 1401.9,1291.3 1402.5,1285.8 1403.0,1281.2 1403.6,1285.6 1404.1,1283.8 1404.7,1281.6 1405.2,1287.5 1405.8,1283.7 1406.3,1280.1 1406.9,1278.0 1407.4,1288.5 1408.0,1280.9 1408.5,1286.0 1409.1,1286.5 1409.6,1286.5 1410.2,1287.8 1410.7,1275.1 1411.3,1283.4 1411.8,1284.8 1412.4,1289.6 1412.9,1286.2 1413.5,1285.3 1414.0,1289.5 1414.6,1301.8 1415.1,1287.2 1415.7,1290.3 1416.2,1288.0 1416.8,1282.4 1417.3,1279.0 1417.9,1284.6 1418.4,1281.4 1419.0,1290.2 1419.5,1288.7 1420.1,1290.5 1420.6,1284.7 1421.2,1285.9 1421.7,1287.3 1422.3,1286.2 1422.8,1287.1 1423.4,1290.4 1423.9,1287.9 1424.5,1287.3 1425.0,1290.3 1425.6,1266.2 1426.1,1283.1 1426.7,1293.4 1427.2,1286.2 1427.8,1287.6 1428.3,1288.0 1428.9,1288.6 1429.4,1282.1 1430.0,1290.4 1430.5,1293.2 1431.1,1282.3 1431.6,1286.1 1432.2,1299.1 1432.7,1288.0 1433.3,1290.6 1433.8,1286.9 1434.4,1286.5 1434.9,1283.4 1435.5,1292.2 1436.0,1294.1 1436.6,1294.2 1437.1,1285.8 1437.7,1283.6 1438.2,1285.4 1438.8,1288.8 1439.3,1289.5 1439.9,1292.5 1440.4,1291.2 1441.0,1290.4 1441.5,1285.6 1442.1,1286.0 1442.6,1290.3 1443.2,1285.0 1443.7,1285.7 1444.3,1283.3 1444.8,1290.1 1445.4,1288.7 1445.9,1288.2 1446.5,1281.8 1447.0,1286.2 1447.6,1284.2 1448.1,1288.5 1448.7,1292.1 1449.2,1283.2 1449.8,1281.8 1450.3,1287.1 1450.9,1290.8 1451.4,1286.2 1452.0,1289.9 1452.5,1288.5 1453.1,1288.0 1453.6,1288.9 1454.2,1285.8 1454.7,1286.8 1455.3,1295.7 1455.8,1300.1 1456.4,1289.2 1456.9,1286.2 1457.5,1290.6 1458.0,1286.0 1458.6,1286.3 1459.1,1282.8 1459.7,1287.3 1460.2,1288.0 1460.8,1305.2 1461.3,1292.5 1461.9,1291.3 1462.4,1289.5 1463.0,1288.2 1463.5,1286.4 1464.1,1284.7 1464.6,1288.3 1465.2,1289.4 1465.7,1288.4 1466.3,1287.8 1466.8,1285.8 1467.4,1286.4 1467.9,1281.8 1468.5,1282.3 1469.0,1289.7 1469.6,1295.3 1470.1,1291.8 1470.7,1289.6 1471.2,1292.9 1471.8,1293.5 1472.3,1293.4 1472.9,1288.2 1473.4,1294.1 1474.0,1289.8 1474.5,1285.8 1475.1,1294.2 1475.6,1292.6 1476.2,1291.2 1476.7,1292.3 1477.3,1295.3 1477.8,1293.8 1478.4,1284.0 1478.9,1289.1 1479.5,1290.5 1480.0,1290.8 1480.6,1290.3 1481.1,1292.3 1481.7,1289.4 1482.2,1291.5 1482.8,1288.9 1483.3,1286.9 1483.9,1288.8 1484.4,1288.8 1485.0,1288.1 1485.5,1289.2 1486.1,1294.0 1486.6,1288.5 1487.2,1295.0 1487.7,1290.6 1488.3,1289.2 1488.8,1283.5 1489.4,1292.8 1489.9,1284.8 1490.5,1293.8 1491.0,1286.3 1491.6,1292.0 1492.1,1289.8 1492.7,1298.0 1493.2,1289.4 1493.8,1293.2 1494.3,1289.1 1494.9,1294.9 1495.4,1295.8 1496.0,1297.4 1496.5,1291.3 1497.1,1300.2 1497.6,1296.7 1498.2,1299.4 1498.7,1301.3 1499.3,1302.8 1499.8,1292.3 1500.4,1297.1 1500.9,1302.5 1501.5,1298.9 1502.0,1303.2 1502.6,1294.5 1503.1,1298.2 1503.7,1295.0 1504.2,1300.6 1504.8,1300.6 1505.3,1301.7 1505.9,1300.4 1506.4,1299.0 1507.0,1296.7 1507.5,1298.2 1508.1,1299.9 1508.6,1299.0 1509.2,1299.0 1509.7,1300.7 1510.3,1297.7 1510.8,1302.3 1511.4,1300.1 1511.9,1300.4 1512.5,1297.9 1513.0,1300.7 1513.6,1304.8 1514.1,1304.9 1514.7,1304.0 1515.2,1301.1 1515.8,1299.5 1516.3,1300.7 1516.9,1297.0 1517.4,1305.7 1518.0,1310.2 1518.5,1308.9 1519.1,1298.6 1519.6,1302.7 1520.2,1299.5 1520.7,1298.3 1521.3,1293.8 1521.8,1291.9 1522.4,1297.4 1522.9,1290.1 1523.5,1293.0 1524.0,1291.7 1524.6,1288.0 1525.1,1291.8 1525.7,1290.6 1526.2,1293.2 1526.8,1292.5"/>
<polyline class="k" points="1568.5,1306.9 1569.0,1305.4 1569.6,1300.4 1570.1,1303.7 1570.7,1304.5 1571.2,1301.0 1571.8,1303.2 1572.3,1304.0 1572.9,1304.9 1573.4,1306.0 1574.0,1306.3 1574.5,1308.3 1575.1,1303.8 1575.6,1306.7 1576.2,1304.5 1576.7,1306.8 1577.3,1304.9 1577.8,1308.0 1578.4,1309.8 1578.9,1308.2 1579.5,1302.4 1580.0,1303.6 1580.6,1307.1 1581.1,1310.8 1581.7,1308.4 1582.2,1309.9 1582.8,1304.5 1583.3,1306.4 1583.9,1302.6 1584.4,1305.4 1585.0,1302.9 1585.5,1301.7 1586.1,1304.0 1586.6,1303.2 1587.2,1307.1 1587.7,1304.7 1588.3,1305.2 1588.8,1302.5 1589.4,1305.6 1589.9,1301.9 1590.5,1305.2 1591.0,1301.3 1591.6,1299.1 1592.1,1300.1 1592.7,1300.1 1593.2,1302.0 1593.8,1301.2 1594.3,1302.9 1594.9,1301.9 1595.4,1299.4 1596.0,1300.6 1596.5,1299.8 1597.1,1298.5 1597.6,1301.4 1598.2,1300.9 1598.7,1298.4 1599.3,1302.6 1599.8,1298.9 1600.4,1296.2 1600.9,1295.7 1601.5,1297.1 1602.0,1296.6 1602.6,1300.9 1603.1,1297.2 1603.7,1298.8 1604.2,1296.5 1604.8,1299.6 1605.3,1294.4 1605.9,1297.1 1606.4,1310.1 1607.0,1299.0 1607.5,1298.3 1608.1,1297.2 1608.6,1301.9 1609.2,1302.6 1609.7,1307.9 1610.3,1297.1 1610.8,1300.1 1611.4,1295.2 1611.9,1296.3 1612.5,1303.1 1613.0,1302.0 1613.6,1295.1 1614.1,1301.2 1614.7,1302.8 1615.2,1298.6 1615.8,1302.6 1616.3,1304.8 1616.9,1304.8 1617.4,1298.9 1618.0,1305.1 1618.5,1303.7 1619.1,1303.6 1619.6,1301.6 1620.2,1304.3 1620.7,1305.4 1621.3,1303.3 1621.8,1306.0 1622.4,1306.7 1622.9,1299.6 1623.5,1304.5 1624.0,1301.5 1624.6,1304.1 1625.1,1306.8 1625.7,1304.7 1626.2,1304.4 1626.8,1306.1 1627.3,1309.6 1627.9,1308.4 1628.4,1304.5 1629.0,1306.7 1629.5,1305.8 1630.1,1311.6 1630.6,1304.9 1631.2,1304.9 1631.7,1304.5 1632.3,1304.5 1632.8,1305.5 1633.4,1305.6 1633.9,1300.6 1634.5,1303.8 1635.0,1302.4 1635.6,1309.9 1636.1,1313.2 1636.7,1309.8 1637.2,1305.9 1637.8,1307.9 1638.3,1306.9 1638.9,1310.7 1639.4,1309.2 1640.0,1308.2 1640.5,1305.2 1641.1,1304.9 1641.6,1306.7 1642.2,1303.2 1642.7,1305.9 1643.3,1309.8 1643.8,1307.7 1644.4,1312.0 1644.9,1310.8 1645.5,1307.8 1646.0,1306.2 1646.6,1308.6 1647.1,1306.4 1647.7,1307.6 1648.2,1311.7 1648.8,1306.3 1649.3,1309.1 1649.9,1314.6 1650.4,1311.0 1651.0,1309.1 1651.5,1309.6 1652.1,1311.6 1652.6,1310.0 1653.2,1308.6 1653.7,1308.2 1654.3,1304.5 1654.8,1307.0 1655.4,1310.6 1655.9,1304.6 1656.5,1314.7 1657.0,1311.0 1657.6,1311.5 1658.1,1312.3 1658.7,1308.5 1659.2,1309.3 1659.8,1312.2 1660.3,1312.2 1660.9,1313.5 1661.4,1310.5 1662.0,1307.4 1662.5,1313.1 1663.1,1313.6 1663.6,1312.8 1664.2,1309.8 1664.7,1311.2 1665.3,1312.5 1665.8,1313.0 1666.4,1314.4 1666.9,1312.0 1667.5,1310.1 1668.0,1311.6 1668.6,1327.5 1669.1,1314.3 1669.7,1318.2 1670.2,1313.4 1670.8,1312.4 1671.3,1310.8 1671.9,1311.1 1672.4,1314.3 1673.0,1315.0 1673.5,1313.5 1674.1,1310.5 1674.6,1312.1 1675.2,1313.1 1675.7,1316.5 1676.3,1315.2 1676.8,1310.3 1677.4,1315.7 1677.9,1312.3 1678.5,1314.6 1679.0,1315.9 1679.6,1309.4 1680.1,1311.3 1680.7,1308.8 1681.2,1306.6 1681.8,1313.0 1682.3,1311.1 1682.9,1308.5 1683.4,1306.1 1684.0,1308.1 1684.5,1313.0 1685.1,1310.7 1685.6,1307.9 1686.2,1305.6 1686.7,1307.9 1687.3,1305.7 1687.8,1312.9 1688.4,1310.5 1688.9,1310.5 1689.5,1305.6 1690.0,1307.6 1690.6,1311.9 1691.1,1308.4 1691.7,1310.9 1692.2,1311.1 1692.8,1307.4 1693.3,1307.5 1693.9,1310.0 1694.4,1309.9 1695.0,1307.8 1695.5,1310.8 1696.1,1310.6 1696.6,1310.9 1697.2,1310.2 1697.7,1311.3 1698.3,1309.8 1698.8,1307.9 1699.4,1309.5 1699.9,1312.7 1700.5,1305.2 1701.0,1312.1 1701.6,1307.8 1702.1,1307.2 1702.7,1308.4 1703.2,1311.8 1703.8,1315.4 1704.3,1310.5 1704.9,1317.4 1705.4,1316.3 1706.0,1310.7 1706.5,1309.2 1707.1,1308.5 1707.6,1312.9 1708.2,1312.4 1708.7,1315.2 1709.3,1311.8 1709.8,1317.8 1710.4,1314.3 1710.9,1313.0 1711.5,1317.4 1712.0,1312.3 1712.6,1313.6 1713.1,1310.1 1713.7,1310.1 1714.2,1311.2 1714.8,1311.8 1715.3,1314.9 1715.9,1316.1 1716.4,1312.8 1717.0,1315.6 1717.5,1314.5 1718.1,1315.1 1718.6,1312.1 1719.2,1312.2 1719.7,1313.2 1720.3,1315.7 1720.8,1313.5 1721.4,1316.9 1721.9,1315.1 1722.5,1311.4 1723.0,1314.4 1723.6,1324.8 1724.1,1315.3 1724.7,1320.9 1725.2,1316.8 1725.8,1317.0 1726.3,1313.4 1726.9,1315.3 1727.4,1309.2 1728.0,1316.9 1728.5,1315.2 1729.1,1316.9 1729.6,1316.2 1730.2,1318.4 1730.7,1317.0 1731.3,1317.8 1731.8,1317.9 1732.4,1318.9 1732.9,1319.8 1733.5,1319.5 1734.0,1318.5 1734.6,1315.6 1735.1,1314.1 1735.7,1319.9 1736.2,1318.4 1736.8,1321.5 1737.3,1318.3 1737.9,1318.4 1738.4,1312.3 1739.0,1321.0 1739.5,1313.7 1740.1,1321.2 1740.6,1315.6 1741.2,1317.7 1741.7,1317.8 1742.3,1315.4 1742.8,1322.1 1743.4,1314.2 1743.9,1316.2 1744.5,1317.4 1745.0,1315.1 1745.6,1313.6 1746.1,1318.8 1746.7,1314.2 1747.2,1316.5 1747.8,1314.1 1748.3,1314.4 1748.9,1318.7 1749.4,1314.5 1750.0,1310.9 1750.5,1313.8 1751.1,1317.0 1751.6,1314.1 1752.2,1316.7 1752.7,1315.5 1753.3,1313.2 1753.8,1316.8 1754.4,1318.4 1754.9,1308.4 1755.5,1314.1 1756.0,1312.8 1756.6,1311.5 1757.1,1310.4 1757.7,1305.6 1758.2,1299.6 1758.8,1299.5 1759.3,1295.6 1759.9,1293.0 1760.4,1290.3 1761.0,1293.2 1761.5,1297.1 1762.1,1299.9 1762.6,1300.5 1763.2,1302.3 1763.7,1311.9 1764.3,1313.8 1764.8,1313.1 1765.4,1314.4 1765.9,1313.8 1766.5,1314.3 1767.0,1314.0 1767.6,1327.0 1768.1,1315.8 1768.7,1314.3 1769.2,1317.5 1769.8,1314.5 1770.3,1318.1 1770.9,1317.3 1771.4,1324.0 1772.0,1321.0 1772.5,1315.9 1773.1,1319.9 1773.6,1311.6 1774.2,1316.1 1774.7,1315.7 1775.3,1315.0 1775.8,1307.5 1776.4,1311.0 1776.9,1313.6 1777.5,1310.8 1778.0,1311.5 1778.6,1306.6 1779.1,1304.7 1779.7,1306.1 1780.2,1300.8 1780.8,1297.3 1781.3,1301.3 1781.9,1304.1 1782.4,1306.9 1783.0,1309.0 1783.5,1309.8 1784.1,1312.0 1784.6,1313.2 1785.2,1314.3 1785.7,1316.6 1786.3,1315.0 1786.8,1316.6 1787.4,1319.8 1787.9,1319.4 1788.5,1320.3 1789.0,1316.3 1789.6,1320.3 1790.1,1320.4 1790.7,1314.5 1791.2,1318.7 1791.8,1321.0 1792.3,1317.9 1792.9,1316.0 1793.4,1317.1 1794.0,1319.0 1794.5,1318.1 1795.1,1312.7 1795.6,1324.1 1796.2,1320.2 1796.7,1319.6 1797.3,1321.8 1797.8,1320.4 1798.4,1319.0 1798.9,1320.0 1799.5,1321.7 1800.0,1320.5 1800.6,1318.3 1801.1,1321.9 1801.7,1323.6 1802.2,1320.3 1802.8,1319.4 1803.3,1322.0 1803.9,1323.4 1804.4,1320.5 1805.0,1320.2 1805.5,1321.6 1806.1,1324.2 1806.6,1325.5 1807.2,1327.5 1807.7,1332.4 1808.3,1324.0 1808.8,1321.1 1809.4,1322.5 1809.9,1322.8 1810.5,1318.5 1811.0,1322.9 1811.6,1320.6 1812.1,1321.1 1812.7,1320.3 1813.2,1319.4 1813.8,1320.9 1814.3,1319.8 1814.9,1320.7 1815.4,1317.9 1816.0,1317.5 1816.5,1321.5 1817.1,1328.0 1817.6,1324.3 1818.2,1328.2 1818.7,1326.2 1819.3,1321.5 1819.8,1326.2 1820.4,1322.2 1820.9,1323.8 1821.5,1325.3 1822.0,1326.4 1822.6,1329.5 1823.1,1323.9 1823.7,1326.9 1824.2,1326.8 1824.8,1323.4 1825.3,1318.5 1825.9,1323.8 1826.4,1327.6 1827.0,1326.0 1827.5,1329.7 1828.1,1328.9 1828.6,1322.4 1829.2,1325.3 1829.7,1319.3 1830.3,1323.9 1830.8,1320.5 1831.4,1324.5 1831.9,1322.6 1832.5,1326.5 1833.0,1322.4 1833.6,1323.6 1834.1,1323.9 1834.7,1325.5 1835.2,1321.0 1835.8,1326.6 1836.3,1323.6 1836.9,1328.8 1837.4,1323.3 1838.0,1323.1 1838.5,1325.1 1839.1,1319.8 1839.6,1321.6 1840.2,1319.7 1840.7,1320.9 1841.3,1319.9 1841.8,1320.8 1842.4,1320.4 1842.9,1316.5 1843.5,1320.4 1844.0,1321.6 1844.6,1321.7 1845.1,1316.9 1845.7,1323.5 1846.2,1320.9 1846.8,1323.5 1847.3,1326.0 1847.9,1325.2 1848.4,1324.4 1849.0,1322.1 1849.5,1320.1 1850.1,1320.0 1850.6,1320.8 1851.2,1321.2 1851.7,1322.4 1852.3,1317.4 1852.8,1320.5 1853.4,1321.5 1853.9,1319.4 1854.5,1322.4 1855.0,1320.9 1855.6,1318.4 1856.1,1318.3 1856.7,1319.2 1857.2,1318.2 1857.8,1314.7 1858.3,1315.3 1858.9,1313.3 1859.4,1313.6 1860.0,1313.6 1860.5,1312.6 1861.1,1311.3 1861.6,1310.0 1862.2,1310.7 1862.7,1313.8 1863.3,1309.5 1863.8,1314.8 1864.4,1315.0 1864.9,1317.3 1865.5,1316.2 1866.0,1318.6 1866.6,1320.4 1867.1,1323.3 1867.7,1318.0 1868.2,1322.9 1868.8,1330.0 1869.3,1324.6 1869.9,1328.7 1870.4,1323.5 1871.0,1324.2 1871.5,1323.1 1872.1,1320.9 1872.6,1323.2 1873.2,1324.9 1873.7,1326.2 1874.3,1325.2 1874.8,1324.2 1875.4,1323.2 1875.9,1323.1 1876.5,1331.5 1877.0,1324.8 1877.6,1322.6 1878.1,1322.0 1878.7,1327.7 1879.2,1326.7 1879.8,1329.1 1880.3,1326.2 1880.9,1326.4 1881.4,1325.5 1882.0,1325.2 1882.5,1329.2 1883.1,1329.9 1883.6,1325.1 1884.2,1328.4 1884.7,1323.6 1885.3,1322.6 1885.8,1326.9 1886.4,1324.0 1886.9,1323.4 1887.5,1328.9 1888.0,1322.3 1888.6,1323.8 1889.1,1327.0 1889.7,1330.0 1890.2,1324.4 1890.8,1326.7 1891.3,1307.3 1891.9,1328.8 1892.4,1323.4 1893.0,1319.5 1893.5,1326.8 1894.1,1326.9 1894.6,1322.5 1895.2,1325.1 1895.7,1327.7 1896.3,1324.4 1896.8,1336.4 1897.4,1328.1 1897.9,1330.2 1898.5,1328.7 1899.0,1325.4 1899.6,1327.2 1900.1,1328.5 1900.7,1329.1 1901.2,1327.7 1901.8,1331.6 1902.3,1335.9 1902.9,1330.5 1903.4,1332.0 1904.0,1330.1 1904.5,1327.4 1905.1,1327.2 1905.6,1327.8 1906.2,1327.1 1906.7,1325.2 1907.3,1319.6 1907.8,1337.1 1908.4,1330.2 1908.9,1330.7 1909.5,1325.6 1910.0,1329.7 1910.6,1324.6 1911.1,1329.7 1911.7,1328.0 1912.2,1328.3 1912.8,1326.3 1913.3,1330.2 1913.9,1329.0 1914.4,1327.5 1915.0,1333.3 1915.5,1329.0 1916.1,1328.2 1916.6,1327.2 1917.2,1322.1 1917.7,1326.3 1918.3,1327.6 1918.8,1327.6 1919.4,1328.9 1919.9,1332.6 1920.5,1328.6 1921.0,1325.3 1921.6,1323.5 1922.1,1328.8 1922.7,1326.2 1923.2,1331.8 1923.8,1328.1 1924.3,1331.2 1924.9,1328.5 1925.4,1328.6 1926.0,1330.2 1926.5,1332.1 1927.1,1331.5 1927.6,1327.5 1928.2,1326.2 1928.7,1328.6 1929.3,1328.8 1929.8,1330.6 1930.4,1328.6 1930.9,1329.6 1931.5,1327.3 1932.0,1330.0 1932.6,1330.0 1933.1,1332.4 1933.7,1327.9 1934.2,1325.7 1934.8,1329.6 1935.3,1332.3 1935.9,1327.9 1936.4,1326.9 1937.0,1324.9 1937.5,1325.7 1938.1,1328.7 1938.6,1326.4 1939.2,1330.7 1939.7,1330.0 1940.3,1329.2 1940.8,1329.4 1941.4,1328.3 1941.9,1333.9 1942.5,1333.9 1943.0,1330.5 1943.6,1331.9 1944.1,1329.7 1944.7,1333.7 1945.2,1329.0 1945.8,1328.7 1946.3,1338.5 1946.9,1332.2 1947.4,1331.4 1948.0,1330.0 1948.5,1330.7 1949.1,1331.2 1949.6,1327.8 1950.2,1333.3 1950.7,1329.0 1951.3,1333.5 1951.8,1326.9 1952.4,1332.3 1952.9,1323.2 1953.5,1330.1 1954.0,1332.2 1954.6,1331.4 1955.1,1333.4 1955.7,1333.4 1956.2,1333.2 1956.8,1328.6 1957.3,1325.2 1957.9,1323.4 1958.4,1325.0 1959.0,1327.4 1959.5,1324.9 1960.1,1326.8 1960.6,1330.4 1961.2,1327.0 1961.7,1321.6 1962.3,1327.0 1962.8,1325.0 1963.4,1326.8 1963.9,1327.3 1964.5,1324.4 1965.0,1326.9 1965.6,1330.5 1966.1,1328.6 1966.7,1332.5 1967.2,1329.8 1967.8,1328.9 1968.3,1333.2 1968.9,1329.6 1969.4,1333.7 1970.0,1333.4 1970.5,1332.5 1971.1,1333.0 1971.6,1332.0 1972.2,1327.3 1972.7,1328.8 1973.3,1331.3 1973.8,1333.4 1974.4,1334.5 1974.9,1323.8 1975.5,1332.8 1976.0,1332.2 1976.6,1329.5 1977.1,1334.8 1977.7,1331.9 1978.2,1328.9 1978.8,1330.5 1979.3,1335.7 1979.9,1336.8 1980.4,1331.3 1981.0,1337.7 1981.5,1334.3 1982.1,1334.1 1982.6,1331.1 1983.2,1338.0 1983.7,1332.5 1984.3,1330.1 1984.8,1331.8 1985.4,1341.3 1985.9,1329.6 1986.5,1333.7 1987.0,1332.2 1987.6,1328.8 1988.1,1330.2 1988.7,1329.9 1989.2,1330.4 1989.8,1330.0 1990.3,1332.3 1990.9,1333.9 1991.4,1334.5 1992.0,1332.8 1992.5,1334.3 1993.1,1333.3 1993.6,1339.1 1994.2,1334.1 1994.7,1339.3 1995.3,1339.6 1995.8,1335.0 1996.4,1336.0 1996.9,1335.0 1997.5,1336.5 1998.0,1334.7 1998.6,1335.5 1999.1,1345.1 1999.7,1334.6 2000.2,1338.6 2000.8,1338.3 2001.3,1331.2 2001.9,1337.1 2002.4,1343.0 2003.0,1335.8 2003.5,1337.4 2004.1,1339.2 2004.6,1337.4 2005.2,1343.5 2005.7,1335.9 2006.3,1336.3 2006.8,1337.6 2007.4,1333.0 2007.9,1337.3 2008.5,1336.1 2009.0,1337.6 2009.6,1339.0 2010.1,1336.5 2010.7,1337.9 2011.2,1333.6 2011.8,1337.8 2012.3,1341.7 2012.9,1338.7 2013.4,1334.5 2014.0,1334.0 2014.5,1334.1 2015.1,1333.1 2015.6,1335.8 2016.2,1328.1 2016.7,1333.3 2017.3,1332.8 2017.8,1333.6 2018.4,1335.5 2018.9,1334.0 2019.5,1339.5 2020.0,1333.8 2020.6,1334.1 2021.1,1336.9 2021.7,1335.1 2022.2,1345.9 2022.8,1335.5 2023.3,1332.1 2023.9,1334.5 2024.4,1340.2 2025.0,1336.1 2025.5,1334.7 2026.1,1333.1 2026.6,1331.9 2027.2,1335.3 2027.7,1333.6 2028.3,1336.4 2028.8,1334.9 2029.4,1338.2 2029.9,1338.5 2030.5,1338.1 2031.0,1334.9 2031.6,1338.7 2032.1,1338.3 2032.7,1333.7 2033.2,1333.4 2033.8,1337.4 2034.3,1335.5 2034.9,1331.5 2035.4,1337.1 2036.0,1338.3 2036.5,1337.9 2037.1,1338.8 2037.6,1334.4 2038.2,1331.4 2038.7,1334.4 2039.3,1330.7 2039.8,1331.8 2040.8,1330.1 2041.5,1334.8 2042.0,1332.7 2042.6,1334.7 2043.1,1334.3 2043.7,1334.0 2044.2,1336.1 2044.8,1336.0 2045.3,1336.4 2045.9,1334.3 2046.4,1336.6 2047.0,1334.0 2047.5,1335.7 2048.1,1341.7 2048.6,1336.9 2049.2,1339.4 2049.7,1334.9 2050.3,1336.9 2050.8,1341.5 2051.4,1342.6 2051.9,1336.6 2052.5,1339.5 2053.0,1339.4 2053.6,1335.5 2054.1,1337.1 2054.7,1333.6 2055.2,1339.8 2055.8,1341.0 2056.3,1342.9 2056.9,1338.9 2057.4,1338.9 2058.0,1337.2 2058.5,1340.2 2059.1,1341.2 2059.6,1338.6 2060.2,1341.0 2060.7,1338.8 2061.3,1338.1 2061.8,1337.7 2062.4,1335.1 2062.9,1342.3 2063.5,1338.6 2064.0,1337.8 2064.6,1338.0 2065.1,1336.8 2065.7,1337.7 2066.2,1337.8 2066.8,1338.9 2067.3,1337.0 2067.9,1337.1 2068.4,1340.3 2069.0,1338.9 2069.5,1340.0 2070.1,1339.6 2070.6,1338.4 2071.2,1343.7 2071.7,1338.4 2072.3,1338.2 2072.8,1335.8 2073.4,1336.6 2073.9,1334.6 2074.5,1340.6 2075.0,1336.3 2075.6,1339.4 2076.1,1342.2 2076.7,1337.4 2077.2,1336.2 2077.8,1336.8 2078.3,1337.6 2078.9,1337.7 2079.4,1333.7 2080.0,1339.6 2080.5,1334.3 2081.1,1332.9 2081.6,1337.7 2082.2,1336.3 2082.7,1338.6 2083.3,1338.7 2083.8,1341.5 2084.4,1337.4 2084.9,1337.2 2085.5,1334.7 2086.0,1336.1 2086.6,1336.4 2087.1,1335.7 2087.7,1339.1 2088.2,1335.6 2088.8,1338.1 2089.3,1337.8 2089.9,1332.6 2090.4,1334.1 2091.0,1342.0 2091.5,1337.8 2092.1,1336.5 2092.6,1340.6 2093.2,1338.1 2093.7,1336.1 2094.3,1339.9 2094.8,1341.9 2095.4,1342.9 2095.9,1340.0 2096.5,1342.0 2097.0,1339.4 2097.6,1344.1 2098.1,1339.4 2098.7,1343.1"/>
<polyline class="bl" points="1078.0,1235.8 1079.3,1234.9 1080.6,1235.2 1081.9,1234.3 1083.2,1235.9 1084.5,1235.8 1085.8,1235.9 1087.1,1236.2 1088.4,1235.9 1089.7,1234.9 1091.0,1235.1 1092.3,1235.7 1093.6,1236.2 1094.9,1236.3 1096.2,1235.4 1097.5,1235.6 1098.8,1236.2 1100.1,1236.6 1101.4,1235.5 1102.7,1235.1 1104.0,1235.5 1105.3,1234.9 1106.6,1235.4 1107.9,1235.7 1109.2,1234.9 1110.5,1234.6 1111.8,1235.3 1113.1,1234.6 1114.4,1235.0 1115.7,1235.0 1117.0,1235.6 1118.3,1235.5 1119.6,1235.6 1120.9,1235.3 1122.2,1235.7 1123.5,1235.9 1124.8,1235.4 1126.1,1235.3 1127.4,1233.6 1128.7,1234.5 1130.0,1232.9 1131.3,1231.8 1132.6,1231.6 1133.9,1231.2 1135.2,1230.8 1136.5,1228.4 1137.8,1227.3 1139.1,1225.7 1140.4,1223.6 1141.7,1222.2 1143.3,1204.8 1144.3,1218.2 1145.6,1216.9 1146.9,1214.1 1148.2,1211.2 1149.5,1208.0 1150.8,1205.4 1152.1,1200.7 1153.4,1197.6 1154.7,1194.4 1156.0,1188.3 1157.3,1180.9 1158.6,1171.4 1159.9,1163.3 1161.2,1154.7 1162.5,1142.3 1163.8,1131.4 1165.1,1122.6 1166.4,1112.8 1167.7,1106.3 1169.0,1102.4 1170.3,1098.5 1171.6,1097.9 1172.9,1098.1 1174.5,1086.6 1175.5,1103.6 1176.8,1123.3 1178.1,1139.7 1179.4,1152.8 1180.7,1165.3 1182.0,1178.2 1183.3,1185.6 1184.6,1195.6 1185.9,1203.2 1187.2,1205.9 1188.5,1210.1 1189.8,1214.3 1191.1,1218.1 1192.4,1220.1 1193.7,1223.1 1195.0,1226.0 1196.3,1226.8 1197.6,1227.8 1198.9,1226.6 1200.2,1227.3 1201.5,1227.3 1202.8,1228.0 1204.1,1227.5 1205.4,1229.4 1206.7,1229.3 1208.0,1229.9 1209.3,1230.3 1210.6,1229.5 1211.9,1229.7 1213.2,1230.1 1214.5,1229.4 1215.8,1228.7 1217.1,1226.6 1218.4,1222.7 1219.7,1217.9 1221.0,1214.9 1222.3,1210.1 1223.6,1211.4 1224.9,1214.3 1226.2,1213.3 1227.5,1212.8 1228.8,1214.3 1230.1,1215.9 1231.4,1218.0 1232.7,1219.6 1234.0,1220.6 1235.3,1221.9 1236.6,1222.3 1237.9,1223.7 1239.2,1223.1 1240.5,1224.0 1241.8,1224.2 1243.1,1224.7 1244.4,1226.5 1245.7,1227.0 1247.0,1227.5 1248.3,1228.7 1249.6,1229.1 1250.9,1228.1 1252.2,1228.5 1253.5,1229.4 1254.8,1228.7 1256.1,1227.7 1257.4,1227.0 1258.7,1226.6 1260.0,1226.8 1261.3,1228.8 1262.6,1229.2 1263.9,1229.6 1265.2,1229.5 1266.5,1231.0 1267.8,1232.5 1269.1,1233.1 1270.4,1233.1 1271.7,1233.6 1273.0,1233.6 1274.3,1232.5 1275.6,1232.3 1276.9,1232.3 1278.2,1232.3 1279.5,1233.0 1280.8,1232.3 1282.1,1232.2 1283.4,1232.3 1284.7,1233.2 1286.0,1234.4 1287.3,1235.0 1288.6,1236.1 1289.9,1236.5 1291.2,1238.1 1292.5,1239.7 1293.8,1239.9 1295.1,1239.6 1296.4,1238.7 1297.7,1239.0 1299.0,1238.5 1300.3,1239.0 1301.6,1238.2 1302.9,1237.8 1304.2,1237.6 1305.5,1238.4 1306.8,1238.8 1308.1,1239.3 1309.4,1239.7 1310.7,1241.0 1312.0,1241.0 1313.3,1242.7 1314.6,1242.5 1315.9,1243.3 1317.2,1243.9 1318.5,1243.7 1319.8,1243.3 1321.1,1243.7 1322.4,1244.1 1323.7,1243.0 1325.0,1242.8 1326.3,1243.0 1327.6,1241.9 1328.9,1242.3 1330.2,1243.3 1331.5,1244.1 1332.8,1244.0 1334.1,1244.9 1335.4,1243.8 1336.7,1242.5 1338.0,1244.9 1339.3,1245.8 1340.6,1244.5 1341.9,1245.3 1343.2,1246.4 1344.5,1245.2 1345.8,1245.3 1347.1,1245.3 1348.4,1245.9 1349.7,1246.2 1351.0,1246.8 1352.3,1247.4 1353.6,1247.8 1354.9,1247.2 1356.2,1246.4 1357.5,1247.3 1358.8,1247.3 1360.1,1248.0 1361.4,1248.0 1362.7,1247.5 1364.0,1248.8 1365.3,1248.0 1366.6,1248.9 1367.9,1249.3 1369.2,1247.8 1370.5,1248.3 1371.8,1248.1 1373.1,1249.3 1374.4,1249.8 1375.7,1249.5 1377.0,1249.9 1378.3,1248.7 1379.6,1249.5 1380.9,1249.4 1382.2,1248.9 1383.5,1249.0 1384.8,1247.6 1386.1,1248.7 1387.4,1249.8 1388.7,1249.3 1390.0,1250.4 1391.3,1249.5 1392.6,1224.3 1393.2,1210.9 1393.9,1224.3 1395.2,1247.5 1396.5,1247.7 1397.8,1247.7 1399.1,1247.1 1400.4,1248.0 1401.7,1248.0 1403.0,1247.4 1404.3,1247.3 1405.6,1248.5 1406.9,1248.7 1408.2,1247.5 1409.5,1248.0 1410.8,1248.4 1412.1,1248.7 1413.4,1249.6 1414.7,1249.5 1416.0,1249.9 1417.3,1250.3 1418.6,1249.4 1419.9,1249.6 1421.2,1249.7 1422.5,1250.3 1423.8,1249.9 1425.1,1249.3 1426.4,1247.0 1427.7,1250.0 1429.0,1250.4 1430.3,1250.0 1431.6,1248.2 1432.9,1251.0 1434.2,1251.2 1435.5,1250.3 1436.8,1250.6 1438.1,1250.7 1439.4,1250.4 1440.7,1251.4 1442.0,1251.1 1443.3,1251.5 1444.6,1250.8 1445.9,1249.2 1447.2,1252.4 1448.5,1252.8 1449.8,1252.8 1451.1,1252.9 1452.4,1253.8 1453.7,1253.0 1455.0,1254.1 1456.3,1252.9 1457.6,1253.6 1458.9,1253.7 1460.2,1253.7 1461.5,1252.9 1462.8,1255.0 1464.1,1254.0 1465.4,1254.5 1466.7,1255.3 1468.0,1255.2 1469.3,1255.1 1470.6,1254.6 1471.9,1254.0 1473.2,1255.1 1474.5,1253.3 1475.7,1250.5 1477.1,1253.8 1478.4,1254.6 1479.7,1253.6 1481.0,1253.8 1482.3,1254.1 1483.6,1253.4 1484.9,1253.2 1486.2,1253.2 1487.5,1253.4 1488.8,1254.4 1490.1,1253.9 1491.4,1254.9 1492.7,1254.9"/>
<polyline class="bl" points="1587.5,1261.0 1588.8,1260.4 1590.1,1260.5 1591.4,1259.4 1592.7,1260.3 1594.0,1259.4 1595.3,1260.0 1596.6,1259.7 1597.9,1259.0 1599.2,1260.2 1600.5,1258.7 1601.8,1259.5 1603.1,1260.2 1604.4,1258.4 1605.7,1258.2 1607.0,1260.0 1608.3,1260.7 1609.6,1256.2 1610.3,1253.5 1610.9,1256.5 1612.2,1260.8 1613.5,1261.2 1614.8,1261.4 1616.1,1261.2 1617.4,1260.5 1618.7,1260.5 1620.0,1261.4 1621.3,1261.6 1622.6,1261.3 1623.9,1261.7 1625.2,1261.9 1626.5,1262.4 1627.8,1262.8 1629.1,1262.8 1630.4,1263.0 1631.7,1263.2 1633.0,1262.5 1634.3,1262.6 1635.6,1263.1 1636.9,1262.9 1638.2,1262.6 1639.5,1263.5 1640.8,1265.1 1642.1,1265.3 1643.4,1265.9 1644.7,1266.5 1646.0,1267.4 1647.3,1269.1 1648.6,1267.3 1649.9,1269.6 1651.2,1270.0 1652.5,1270.4 1653.8,1269.0 1655.1,1270.2 1656.4,1269.6 1657.7,1268.8 1659.0,1268.6 1660.3,1267.4 1661.6,1266.8 1662.9,1265.9 1664.2,1265.5 1665.5,1264.5 1666.8,1263.3 1668.1,1263.6 1669.4,1263.4 1670.7,1263.1 1672.0,1262.1 1673.3,1263.7 1674.6,1262.7 1675.9,1262.8 1677.2,1263.2 1678.5,1263.5 1679.8,1263.4 1681.1,1261.9 1682.4,1263.4 1683.7,1263.7 1685.0,1262.8 1686.3,1263.0 1687.6,1262.7 1688.9,1262.5 1690.2,1262.0 1691.5,1262.1 1692.8,1263.1 1694.1,1263.7 1695.4,1264.7 1696.7,1263.7 1698.0,1263.6 1699.3,1265.1 1700.6,1265.1 1701.9,1265.5 1703.2,1265.3 1704.5,1265.1 1705.8,1264.3 1707.0,1260.6 1708.4,1266.1 1709.7,1266.2 1711.0,1267.4 1712.3,1266.4 1713.6,1267.1 1714.9,1267.6 1716.2,1267.4 1717.5,1267.7 1718.8,1268.0 1720.1,1267.6 1721.4,1267.2 1722.7,1265.2 1724.0,1266.8 1725.3,1267.9 1726.6,1269.8 1727.9,1268.2 1729.2,1269.3 1730.5,1268.7 1731.8,1269.6 1733.1,1269.4 1734.4,1268.9 1735.7,1268.6 1737.0,1268.5 1738.3,1269.6 1739.6,1268.4 1740.9,1268.4 1742.2,1269.8 1743.5,1270.2 1744.8,1269.7 1746.1,1269.6 1747.4,1269.7 1748.7,1270.4 1750.0,1270.1 1751.3,1269.4 1752.6,1270.0 1753.9,1270.6 1755.2,1270.1 1756.5,1270.4 1757.8,1270.4 1759.1,1269.5 1760.4,1267.1 1761.7,1267.5 1763.0,1270.4 1764.3,1269.9 1765.6,1270.5 1766.9,1271.2 1768.2,1271.6 1769.5,1271.5 1770.8,1270.6 1772.1,1272.3 1773.4,1272.6 1774.7,1272.7 1776.0,1273.1 1777.3,1273.4 1778.6,1273.2 1779.9,1273.1 1781.2,1272.7 1782.5,1273.4 1783.8,1272.7 1785.1,1272.4 1786.4,1272.0 1787.7,1272.2 1789.0,1272.0 1790.3,1271.8 1791.6,1271.4 1792.9,1272.3 1794.2,1272.1 1795.5,1270.7 1796.8,1271.7 1798.1,1270.7 1799.4,1271.5 1800.7,1272.9 1802.0,1272.6 1803.3,1272.0 1804.6,1272.2 1805.9,1273.1 1807.2,1272.5 1808.5,1273.6 1809.8,1273.3 1811.1,1274.0 1812.4,1274.1 1813.7,1274.2 1815.0,1275.2 1816.3,1275.1 1817.6,1274.5 1818.9,1274.8 1820.2,1275.2 1821.5,1275.7 1822.8,1276.1 1824.1,1275.8 1825.4,1273.2 1826.7,1273.4 1828.0,1275.8 1829.3,1276.2 1830.6,1275.1 1831.9,1275.0 1833.2,1274.0 1834.5,1272.2 1835.8,1271.6 1837.1,1271.0 1838.4,1270.4 1839.7,1270.4 1841.0,1269.9 1842.3,1251.5 1843.3,1220.1 1844.9,1264.6 1846.2,1271.5 1847.5,1271.1 1848.8,1271.8 1850.1,1271.0 1851.4,1272.0 1853.1,1265.6 1854.0,1269.7 1855.3,1273.6 1856.6,1274.3 1857.9,1273.3 1859.2,1274.1 1860.5,1273.9 1861.8,1273.3 1863.1,1267.8 1864.1,1258.0 1865.7,1271.8 1867.0,1272.9 1868.3,1273.4 1869.6,1273.1 1870.9,1272.7 1872.2,1272.8 1873.5,1272.0 1874.8,1273.0 1876.1,1272.4 1877.4,1273.1 1878.7,1272.3 1880.0,1271.6 1881.3,1271.8 1882.6,1271.4 1883.9,1272.1 1885.2,1271.7 1886.5,1272.5 1887.8,1273.2 1889.1,1272.6 1890.4,1272.6 1891.7,1273.7 1893.0,1273.0 1894.3,1273.3 1895.6,1272.7 1896.9,1272.6 1898.2,1273.6 1899.5,1272.8 1900.8,1271.8 1902.1,1273.6 1903.4,1273.8 1904.7,1273.4 1906.0,1274.4 1907.3,1273.6 1908.6,1273.5 1909.9,1273.5 1911.2,1274.8 1912.5,1273.8 1913.8,1273.7 1915.1,1273.5 1916.4,1273.2 1917.7,1272.5 1919.0,1272.9 1920.3,1272.9 1921.6,1273.4 1922.9,1272.1 1924.2,1272.5 1925.5,1271.6 1926.8,1271.1 1928.1,1271.6 1929.4,1271.7 1930.7,1272.0 1932.0,1272.5 1933.3,1272.8 1934.6,1272.2 1935.9,1272.6 1937.2,1273.6 1938.5,1273.0 1939.8,1272.5 1941.1,1273.9 1942.4,1274.7 1943.7,1274.4 1945.0,1274.0 1946.3,1274.3 1947.6,1274.8 1948.9,1274.6 1950.2,1274.8 1951.5,1275.7 1952.8,1274.6 1954.1,1275.2 1955.4,1274.2 1956.7,1274.6 1958.0,1274.5 1959.3,1275.5 1960.6,1275.1 1961.9,1275.0 1963.2,1274.7 1964.5,1275.2 1965.8,1276.0 1967.1,1275.7 1968.4,1276.2 1969.7,1276.0 1971.0,1275.9 1972.3,1276.5 1973.6,1276.9 1974.9,1274.9 1976.2,1276.2 1977.5,1276.4 1978.8,1275.3 1980.1,1275.7 1981.4,1275.5 1982.7,1274.9 1984.0,1274.5 1985.3,1275.1 1986.6,1275.0 1987.9,1274.2 1989.2,1274.0 1990.5,1273.1 1991.8,1273.4 1993.1,1273.4 1994.4,1273.0 1995.7,1272.8 1997.0,1273.3 1998.3,1272.7 1999.6,1272.6 2000.9,1271.8 2002.2,1272.0 2003.5,1272.1 2004.8,1272.4 2006.1,1273.6 2007.4,1274.3 2008.7,1273.6 2010.0,1273.9 2011.3,1273.8 2012.6,1273.8 2013.9,1274.5 2015.2,1274.3 2016.5,1274.1 2017.8,1274.7 2019.1,1274.5 2020.4,1275.3 2021.7,1275.8 2023.0,1276.4 2024.3,1276.3 2025.6,1276.3 2026.9,1275.7 2028.2,1275.6 2029.5,1275.8 2030.8,1275.5 2032.1,1275.7 2033.4,1275.6 2034.7,1276.3 2036.0,1275.0 2037.3,1275.2 2038.6,1274.8 2039.9,1271.8 2040.8,1266.9 2042.5,1273.7 2043.8,1274.7 2045.1,1274.4 2046.4,1274.1 2047.7,1273.7 2049.0,1274.7 2050.3,1274.4 2051.6,1273.8 2052.9,1273.6 2054.2,1273.7 2055.5,1274.7 2056.8,1274.1 2058.1,1273.6 2059.4,1273.5 2060.7,1274.4 2062.0,1274.5 2063.3,1274.1 2064.6,1273.7 2065.9,1273.9 2067.2,1274.5 2068.5,1274.1 2069.8,1274.0 2071.1,1274.0 2072.4,1273.5 2073.7,1273.2 2075.0,1273.0 2076.3,1272.4 2077.9,1264.0 2078.9,1270.3 2080.2,1273.3 2081.5,1272.6 2082.8,1273.6 2084.1,1272.4 2085.4,1273.5 2086.7,1272.5 2088.0,1272.4 2089.3,1272.7 2090.6,1272.2 2091.9,1271.2 2093.2,1271.3 2094.5,1270.6 2095.8,1270.6 2097.1,1270.5 2098.4,1269.8"/>
</g>
<g>
<line x1="1143.4" y1="1152.1" x2="1143.4" y2="1198.3" stroke="#6495ed" stroke-width="2.35"/>
<text transform="translate(1151.9,1146.3) rotate(-90)" class="t">H<tspan class="sub" dy="3.4">2</tspan><tspan dy="-3.4">1-0O(5)</tspan></text>
<line x1="1174.5" y1="1043.1" x2="1174.5" y2="1080.2" stroke="#ff8c00" stroke-width="2.35"/>
<text transform="translate(1182.3,1038.7) rotate(-90)" class="t">Pf<tspan class="it">δ</tspan></text>
<line x1="1393.2" y1="1152.1" x2="1393.2" y2="1207.6" stroke="#ff8c00" stroke-width="2.35"/>
<text transform="translate(1401.1,1142.9) rotate(-90)" class="t">Pf<tspan class="it">γ</tspan></text>
<line x1="1610.3" y1="1198.5" x2="1610.3" y2="1245" stroke="#6495ed" stroke-width="2.35"/>
<text transform="translate(1618.1,1193.2) rotate(-90)" class="t">H<tspan class="sub" dy="3.4">2</tspan><tspan dy="-3.4">0-0S(11)</tspan></text>
<line x1="1706.8" y1="1198.5" x2="1706.8" y2="1254.9" stroke="#ff8c00" stroke-width="2.35"/>
<text transform="translate(1715.4,1191.5) rotate(-90)" class="t">Hu12</text>
<line x1="1761" y1="1208.1" x2="1761" y2="1254.9" stroke="#ff0000" stroke-width="2.35"/>
<text transform="translate(1768.2,1190.4) rotate(-90)" class="t">[Mg IV]</text>
<line x1="1782.4" y1="1208.1" x2="1782.4" y2="1254.9" stroke="#ff0000" stroke-width="2.35"/>
<text transform="translate(1789.3,1190.4) rotate(-90)" class="t">[Ar VI]</text>
<line x1="1843.3" y1="1152.1" x2="1843.3" y2="1207.5" stroke="#ff8c00" stroke-width="2.35"/>
<text transform="translate(1851.4,1143.6) rotate(-90)" class="t">Pf<tspan class="it">β</tspan></text>
<line x1="1852.8" y1="1043.1" x2="1852.8" y2="1080.2" stroke="#ff8c00" stroke-width="2.35"/>
<text transform="translate(1860.4,1039.4) rotate(-90)" class="t">Hu<tspan class="it">ε</tspan></text>
<line x1="1864.1" y1="1198.5" x2="1864.1" y2="1245" stroke="#6495ed" stroke-width="2.35"/>
<text transform="translate(1871.9,1193.2) rotate(-90)" class="t">H<tspan class="sub" dy="3.4">2</tspan><tspan dy="-3.4">0-0S(9)</tspan></text>
<line x1="2040.8" y1="1198.5" x2="2040.8" y2="1245" stroke="#6495ed" stroke-width="2.35"/>
<text transform="translate(2048.6,1193.2) rotate(-90)" class="t">H<tspan class="sub" dy="3.4">2</tspan><tspan dy="-3.4">0-0S(8)</tspan></text>
<line x1="2077.9" y1="1198.5" x2="2077.9" y2="1254.9" stroke="#ff8c00" stroke-width="2.35"/>
<text transform="translate(2085.7,1189.7) rotate(-90)" class="t">Hu<tspan class="it">δ</tspan></text>
<text x="1186.0" y="1197.9" class="t11" style="fill:#6495ed">3.4<tspan class="it">μ</tspan>m aliphatic</text>
<text x="1127.3" y="1311.2" class="t11" style="fill:#6495ed">3.3<tspan class="it">μ</tspan>m PAH</text>
<text x="1614.8" y="1249.7" class="t11" style="fill:#008000">CO<tspan class="sub11" dy="3.7">2</tspan><tspan dy="-3.7"> ice</tspan></text>
</g>
<!-- axes -->
<line x1="1141" y1="421.9" x2="1141" y2="430.2" class="sp"/>
<text x="1141" y="452.8" class="t" text-anchor="middle">1.0</text>
<line x1="1282.8" y1="421.9" x2="1282.8" y2="430.2" class="sp"/>
<text x="1282.8" y="452.8" class="t" text-anchor="middle">1.1</text>
<line x1="1424.6" y1="421.9" x2="1424.6" y2="430.2" class="sp"/>
<text x="1424.6" y="452.8" class="t" text-anchor="middle">1.2</text>
<line x1="1566.4" y1="421.9" x2="1566.4" y2="430.2" class="sp"/>
<text x="1566.4" y="452.8" class="t" text-anchor="middle">1.3</text>
<line x1="1708.2" y1="421.9" x2="1708.2" y2="430.2" class="sp"/>
<text x="1708.2" y="452.8" class="t" text-anchor="middle">1.4</text>
<line x1="1850" y1="421.9" x2="1850" y2="430.2" class="sp"/>
<text x="1850" y="452.8" class="t" text-anchor="middle">1.5</text>
<line x1="1991.8" y1="421.9" x2="1991.8" y2="430.2" class="sp"/>
<text x="1991.8" y="452.8" class="t" text-anchor="middle">1.6</text>
<line x1="1069.3" y1="386.9" x2="1077.6" y2="386.9" class="sp"/>
<text x="1060.6" y="394.8" class="t" text-anchor="end">0.2</text>
<line x1="1069.3" y1="317.12" x2="1077.6" y2="317.12" class="sp"/>
<text x="1060.6" y="325.02" class="t" text-anchor="end">0.4</text>
<line x1="1069.3" y1="247.34" x2="1077.6" y2="247.34" class="sp"/>
<text x="1060.6" y="255.24" class="t" text-anchor="end">0.6</text>
<line x1="1069.3" y1="177.56" x2="1077.6" y2="177.56" class="sp"/>
<text x="1060.6" y="185.46" class="t" text-anchor="end">0.8</text>
<line x1="1069.3" y1="107.78" x2="1077.6" y2="107.78" class="sp"/>
<text x="1060.6" y="115.68" class="t" text-anchor="end">1.0</text>
<line x1="1069.3" y1="38" x2="1077.6" y2="38" class="sp"/>
<text x="1060.6" y="45.9" class="t" text-anchor="end">1.2</text>
<rect x="1077.6" y="21" width="1021.1" height="400.9" fill="none" stroke="#000" stroke-width="1.667"/>
<text x="1077.6" y="13.6" class="t">1e−14</text>
<text x="2091.5" y="135.5" class="b" text-anchor="end">G140H-F100LP</text>
<text transform="translate(1012.5,219.65) rotate(-90)" class="t" text-anchor="middle">Scaled flux density (erg<tspan dx="4.4">s</tspan><tspan class="sup" dy="-7.6">−1</tspan><tspan dy="7.6">cm</tspan><tspan class="sup" dy="-7.6">−2</tspan><tspan dy="7.6">Å</tspan><tspan class="sup" dy="-7.6">−1</tspan><tspan dy="7.6">)</tspan></text>
<line x1="1196.7" y1="904.8" x2="1196.7" y2="913.1" class="sp"/>
<text x="1196.7" y="935.7" class="t" text-anchor="middle">1.8</text>
<line x1="1334.2" y1="904.8" x2="1334.2" y2="913.1" class="sp"/>
<text x="1334.2" y="935.7" class="t" text-anchor="middle">2.0</text>
<line x1="1471.7" y1="904.8" x2="1471.7" y2="913.1" class="sp"/>
<text x="1471.7" y="935.7" class="t" text-anchor="middle">2.2</text>
<line x1="1609.2" y1="904.8" x2="1609.2" y2="913.1" class="sp"/>
<text x="1609.2" y="935.7" class="t" text-anchor="middle">2.4</text>
<line x1="1746.7" y1="904.8" x2="1746.7" y2="913.1" class="sp"/>
<text x="1746.7" y="935.7" class="t" text-anchor="middle">2.6</text>
<line x1="1884.2" y1="904.8" x2="1884.2" y2="913.1" class="sp"/>
<text x="1884.2" y="935.7" class="t" text-anchor="middle">2.8</text>
<line x1="2021.7" y1="904.8" x2="2021.7" y2="913.1" class="sp"/>
<text x="2021.7" y="935.7" class="t" text-anchor="middle">3.0</text>
<line x1="1069.3" y1="869.9" x2="1077.6" y2="869.9" class="sp"/>
<text x="1060.6" y="877.8" class="t" text-anchor="end">0.2</text>
<line x1="1069.3" y1="800.12" x2="1077.6" y2="800.12" class="sp"/>
<text x="1060.6" y="808.02" class="t" text-anchor="end">0.4</text>
<line x1="1069.3" y1="730.34" x2="1077.6" y2="730.34" class="sp"/>
<text x="1060.6" y="738.24" class="t" text-anchor="end">0.6</text>
<line x1="1069.3" y1="660.56" x2="1077.6" y2="660.56" class="sp"/>
<text x="1060.6" y="668.46" class="t" text-anchor="end">0.8</text>
<line x1="1069.3" y1="590.78" x2="1077.6" y2="590.78" class="sp"/>
<text x="1060.6" y="598.68" class="t" text-anchor="end">1.0</text>
<line x1="1069.3" y1="521" x2="1077.6" y2="521" class="sp"/>
<text x="1060.6" y="528.9" class="t" text-anchor="end">1.2</text>
<rect x="1077.6" y="503.1" width="1021.1" height="401.7" fill="none" stroke="#000" stroke-width="1.667"/>
<text x="1077.6" y="495.7" class="t">1e−14</text>
<text x="2089.6" y="538.3" class="b" text-anchor="end">G235H-F170LP</text>
<text transform="translate(1012.5,702.15) rotate(-90)" class="t" text-anchor="middle">Scaled flux density (erg<tspan dx="4.4">s</tspan><tspan class="sup" dy="-7.6">−1</tspan><tspan dy="7.6">cm</tspan><tspan class="sup" dy="-7.6">−2</tspan><tspan dy="7.6">Å</tspan><tspan class="sup" dy="-7.6">−1</tspan><tspan dy="7.6">)</tspan></text>
<line x1="1151.35" y1="1387.4" x2="1151.35" y2="1395.7" class="sp"/>
<text x="1151.35" y="1418.3" class="t" text-anchor="middle">3.25</text>
<line x1="1274.7" y1="1387.4" x2="1274.7" y2="1395.7" class="sp"/>
<text x="1274.7" y="1418.3" class="t" text-anchor="middle">3.50</text>
<line x1="1398.05" y1="1387.4" x2="1398.05" y2="1395.7" class="sp"/>
<text x="1398.05" y="1418.3" class="t" text-anchor="middle">3.75</text>
<line x1="1521.4" y1="1387.4" x2="1521.4" y2="1395.7" class="sp"/>
<text x="1521.4" y="1418.3" class="t" text-anchor="middle">4.00</text>
<line x1="1644.75" y1="1387.4" x2="1644.75" y2="1395.7" class="sp"/>
<text x="1644.75" y="1418.3" class="t" text-anchor="middle">4.25</text>
<line x1="1768.1" y1="1387.4" x2="1768.1" y2="1395.7" class="sp"/>
<text x="1768.1" y="1418.3" class="t" text-anchor="middle">4.50</text>
<line x1="1891.45" y1="1387.4" x2="1891.45" y2="1395.7" class="sp"/>
<text x="1891.45" y="1418.3" class="t" text-anchor="middle">4.75</text>
<line x1="2014.8" y1="1387.4" x2="2014.8" y2="1395.7" class="sp"/>
<text x="2014.8" y="1418.3" class="t" text-anchor="middle">5.00</text>
<line x1="1069.3" y1="1329.6" x2="1077.6" y2="1329.6" class="sp"/>
<text x="1060.6" y="1337.5" class="t" text-anchor="end">1.5</text>
<line x1="1069.3" y1="1263.1" x2="1077.6" y2="1263.1" class="sp"/>
<text x="1060.6" y="1271" class="t" text-anchor="end">2.0</text>
<line x1="1069.3" y1="1196.6" x2="1077.6" y2="1196.6" class="sp"/>
<text x="1060.6" y="1204.5" class="t" text-anchor="end">2.5</text>
<line x1="1069.3" y1="1130.1" x2="1077.6" y2="1130.1" class="sp"/>
<text x="1060.6" y="1138" class="t" text-anchor="end">3.0</text>
<line x1="1069.3" y1="1063.6" x2="1077.6" y2="1063.6" class="sp"/>
<text x="1060.6" y="1071.5" class="t" text-anchor="end">3.5</text>
<line x1="1069.3" y1="997.1" x2="1077.6" y2="997.1" class="sp"/>
<text x="1060.6" y="1005" class="t" text-anchor="end">4.0</text>
<rect x="1077.6" y="986" width="1021.1" height="401.4" fill="none" stroke="#000" stroke-width="1.667"/>
<text x="1077.6" y="978.6" class="t">1e−15</text>
<text x="2091.5" y="1024.3" class="b" text-anchor="end">G395H-F290LP</text>
<text transform="translate(1012.5,1184.9) rotate(-90)" class="t" text-anchor="middle">Scaled flux density (erg<tspan dx="4.4">s</tspan><tspan class="sup" dy="-7.6">−1</tspan><tspan dy="7.6">cm</tspan><tspan class="sup" dy="-7.6">−2</tspan><tspan dy="7.6">Å</tspan><tspan class="sup" dy="-7.6">−1</tspan><tspan dy="7.6">)</tspan></text>
<text x="1588.2" y="1450.2" class="t" text-anchor="middle">Rest Wavelength (µm)</text>
<rect x="1930.1" y="30.2" width="157.8" height="68.1" rx="4.2" ry="4.2" fill="#fff" fill-opacity="0.8" stroke="#ccc" stroke-opacity="0.8" stroke-width="2.08"/>
<line x1="1938.3" y1="47.5" x2="1980.9" y2="47.5" stroke="#000" stroke-width="1.04"/>
<line x1="1938.3" y1="78.1" x2="1980.9" y2="78.1" stroke="#00f" stroke-width="1.6"/>
<text x="1997.2" y="54.8" class="t">Nucleus</text>
<text x="1997.2" y="85.4" class="t">Ring</text>
</svg>
</body></html>
